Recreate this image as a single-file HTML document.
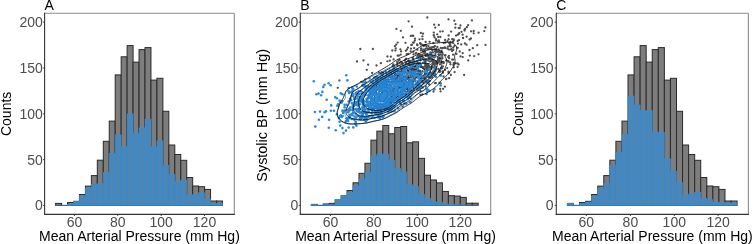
<!DOCTYPE html>
<html><head><meta charset="utf-8"><style>
html,body{margin:0;padding:0;background:#fff;}
svg{display:block;will-change:transform;}
.tk{font-family:"Liberation Sans",sans-serif;font-size:14px;fill:#4d4d4d;}
.ti{font-family:"Liberation Sans",sans-serif;font-size:14px;fill:#000;}
</style></head><body>
<svg width="753" height="244" viewBox="0 0 753 244" xmlns="http://www.w3.org/2000/svg">
<defs><clipPath id="clipB"><rect x="300.3" y="13.3" width="190.4" height="201.1"/></clipPath></defs>
<rect width="753" height="244" fill="#fff"/>
<rect x="55.60" y="203.40" width="5.96" height="2.00" fill="#7d7d7d" stroke="#2a2a2a" stroke-width="1.0"/>
<line x1="61.56" y1="205.4" x2="67.52" y2="205.4" stroke="#2a2a2a" stroke-width="1.0"/>
<rect x="67.52" y="202.50" width="5.96" height="2.90" fill="#7d7d7d" stroke="#2a2a2a" stroke-width="1.0"/>
<rect x="73.48" y="201.30" width="5.96" height="4.10" fill="#7d7d7d" stroke="#2a2a2a" stroke-width="1.0"/>
<rect x="79.44" y="194.50" width="5.96" height="10.90" fill="#7d7d7d" stroke="#2a2a2a" stroke-width="1.0"/>
<rect x="85.40" y="186.10" width="5.96" height="19.30" fill="#7d7d7d" stroke="#2a2a2a" stroke-width="1.0"/>
<rect x="91.36" y="175.60" width="5.96" height="29.80" fill="#7d7d7d" stroke="#2a2a2a" stroke-width="1.0"/>
<rect x="97.32" y="160.20" width="5.96" height="45.20" fill="#7d7d7d" stroke="#2a2a2a" stroke-width="1.0"/>
<rect x="103.28" y="141.30" width="5.96" height="64.10" fill="#7d7d7d" stroke="#2a2a2a" stroke-width="1.0"/>
<rect x="109.24" y="121.10" width="5.96" height="84.30" fill="#7d7d7d" stroke="#2a2a2a" stroke-width="1.0"/>
<rect x="115.20" y="74.90" width="5.96" height="130.50" fill="#7d7d7d" stroke="#2a2a2a" stroke-width="1.0"/>
<rect x="121.16" y="56.80" width="5.96" height="148.60" fill="#7d7d7d" stroke="#2a2a2a" stroke-width="1.0"/>
<rect x="127.12" y="45.60" width="5.96" height="159.80" fill="#7d7d7d" stroke="#2a2a2a" stroke-width="1.0"/>
<rect x="133.08" y="62.10" width="5.96" height="143.30" fill="#7d7d7d" stroke="#2a2a2a" stroke-width="1.0"/>
<rect x="139.04" y="49.60" width="5.96" height="155.80" fill="#7d7d7d" stroke="#2a2a2a" stroke-width="1.0"/>
<rect x="145.00" y="47.60" width="5.96" height="157.80" fill="#7d7d7d" stroke="#2a2a2a" stroke-width="1.0"/>
<rect x="150.96" y="80.10" width="5.96" height="125.30" fill="#7d7d7d" stroke="#2a2a2a" stroke-width="1.0"/>
<rect x="156.92" y="78.30" width="5.96" height="127.10" fill="#7d7d7d" stroke="#2a2a2a" stroke-width="1.0"/>
<rect x="162.88" y="111.30" width="5.96" height="94.10" fill="#7d7d7d" stroke="#2a2a2a" stroke-width="1.0"/>
<rect x="168.84" y="145.00" width="5.96" height="60.40" fill="#7d7d7d" stroke="#2a2a2a" stroke-width="1.0"/>
<rect x="174.80" y="154.50" width="5.96" height="50.90" fill="#7d7d7d" stroke="#2a2a2a" stroke-width="1.0"/>
<rect x="180.76" y="160.30" width="5.96" height="45.10" fill="#7d7d7d" stroke="#2a2a2a" stroke-width="1.0"/>
<rect x="186.72" y="177.50" width="5.96" height="27.90" fill="#7d7d7d" stroke="#2a2a2a" stroke-width="1.0"/>
<rect x="192.68" y="186.00" width="5.96" height="19.40" fill="#7d7d7d" stroke="#2a2a2a" stroke-width="1.0"/>
<rect x="198.64" y="186.70" width="5.96" height="18.70" fill="#7d7d7d" stroke="#2a2a2a" stroke-width="1.0"/>
<rect x="204.60" y="189.40" width="5.96" height="16.00" fill="#7d7d7d" stroke="#2a2a2a" stroke-width="1.0"/>
<rect x="210.56" y="201.00" width="5.96" height="4.40" fill="#7d7d7d" stroke="#2a2a2a" stroke-width="1.0"/>
<rect x="216.52" y="201.00" width="5.96" height="4.40" fill="#7d7d7d" stroke="#2a2a2a" stroke-width="1.0"/>
<line x1="55.60" y1="205.4" x2="61.56" y2="205.4" stroke="#2f8fde" stroke-width="0.6"/>
<line x1="61.56" y1="205.4" x2="67.52" y2="205.4" stroke="#2f8fde" stroke-width="0.6"/>
<rect x="67.52" y="204.50" width="5.96" height="0.90" fill="#4a87b8" stroke="#2f8fde" stroke-width="0.6"/>
<rect x="73.48" y="201.30" width="5.96" height="4.10" fill="#4a87b8" stroke="#2f8fde" stroke-width="0.6"/>
<rect x="79.44" y="195.70" width="5.96" height="9.70" fill="#4a87b8" stroke="#2f8fde" stroke-width="0.6"/>
<rect x="85.40" y="188.10" width="5.96" height="17.30" fill="#4a87b8" stroke="#2f8fde" stroke-width="0.6"/>
<rect x="91.36" y="184.40" width="5.96" height="21.00" fill="#4a87b8" stroke="#2f8fde" stroke-width="0.6"/>
<rect x="97.32" y="183.80" width="5.96" height="21.60" fill="#4a87b8" stroke="#2f8fde" stroke-width="0.6"/>
<rect x="103.28" y="172.50" width="5.96" height="32.90" fill="#4a87b8" stroke="#2f8fde" stroke-width="0.6"/>
<rect x="109.24" y="153.40" width="5.96" height="52.00" fill="#4a87b8" stroke="#2f8fde" stroke-width="0.6"/>
<rect x="115.20" y="134.90" width="5.96" height="70.50" fill="#4a87b8" stroke="#2f8fde" stroke-width="0.6"/>
<rect x="121.16" y="146.50" width="5.96" height="58.90" fill="#4a87b8" stroke="#2f8fde" stroke-width="0.6"/>
<rect x="127.12" y="113.90" width="5.96" height="91.50" fill="#4a87b8" stroke="#2f8fde" stroke-width="0.6"/>
<rect x="133.08" y="133.20" width="5.96" height="72.20" fill="#4a87b8" stroke="#2f8fde" stroke-width="0.6"/>
<rect x="139.04" y="127.90" width="5.96" height="77.50" fill="#4a87b8" stroke="#2f8fde" stroke-width="0.6"/>
<rect x="145.00" y="119.10" width="5.96" height="86.30" fill="#4a87b8" stroke="#2f8fde" stroke-width="0.6"/>
<rect x="150.96" y="146.80" width="5.96" height="58.60" fill="#4a87b8" stroke="#2f8fde" stroke-width="0.6"/>
<rect x="156.92" y="140.80" width="5.96" height="64.60" fill="#4a87b8" stroke="#2f8fde" stroke-width="0.6"/>
<rect x="162.88" y="165.30" width="5.96" height="40.10" fill="#4a87b8" stroke="#2f8fde" stroke-width="0.6"/>
<rect x="168.84" y="174.50" width="5.96" height="30.90" fill="#4a87b8" stroke="#2f8fde" stroke-width="0.6"/>
<rect x="174.80" y="181.50" width="5.96" height="23.90" fill="#4a87b8" stroke="#2f8fde" stroke-width="0.6"/>
<rect x="180.76" y="180.10" width="5.96" height="25.30" fill="#4a87b8" stroke="#2f8fde" stroke-width="0.6"/>
<rect x="186.72" y="195.00" width="5.96" height="10.40" fill="#4a87b8" stroke="#2f8fde" stroke-width="0.6"/>
<rect x="192.68" y="194.80" width="5.96" height="10.60" fill="#4a87b8" stroke="#2f8fde" stroke-width="0.6"/>
<rect x="198.64" y="192.70" width="5.96" height="12.70" fill="#4a87b8" stroke="#2f8fde" stroke-width="0.6"/>
<rect x="204.60" y="199.20" width="5.96" height="6.20" fill="#4a87b8" stroke="#2f8fde" stroke-width="0.6"/>
<rect x="210.56" y="203.30" width="5.96" height="2.10" fill="#4a87b8" stroke="#2f8fde" stroke-width="0.6"/>
<rect x="216.52" y="203.30" width="5.96" height="2.10" fill="#4a87b8" stroke="#2f8fde" stroke-width="0.6"/>
<line x1="44.6" y1="13.3" x2="234.3" y2="13.3" stroke="#8c8c8c" stroke-width="1.1"/>
<line x1="234.3" y1="13.3" x2="234.3" y2="214.4" stroke="#8c8c8c" stroke-width="1.1"/>
<line x1="44.6" y1="12.8" x2="44.6" y2="214.9" stroke="#333333" stroke-width="1.1"/>
<line x1="44.1" y1="214.4" x2="234.8" y2="214.4" stroke="#333333" stroke-width="1.1"/>
<line x1="43.0" y1="205.40" x2="44.6" y2="205.40" stroke="#333333" stroke-width="0.9"/>
<text x="42.9" y="210.30" text-anchor="end" class="tk">0</text>
<line x1="43.0" y1="159.60" x2="44.6" y2="159.60" stroke="#333333" stroke-width="0.9"/>
<text x="42.9" y="164.50" text-anchor="end" class="tk">50</text>
<line x1="43.0" y1="113.80" x2="44.6" y2="113.80" stroke="#333333" stroke-width="0.9"/>
<text x="42.9" y="118.70" text-anchor="end" class="tk">100</text>
<line x1="43.0" y1="68.00" x2="44.6" y2="68.00" stroke="#333333" stroke-width="0.9"/>
<text x="42.9" y="72.90" text-anchor="end" class="tk">150</text>
<line x1="43.0" y1="22.20" x2="44.6" y2="22.20" stroke="#333333" stroke-width="0.9"/>
<text x="42.9" y="27.10" text-anchor="end" class="tk">200</text>
<line x1="74.50" y1="214.4" x2="74.50" y2="216.0" stroke="#333333" stroke-width="0.9"/>
<text x="74.50" y="227.0" text-anchor="middle" class="tk">60</text>
<line x1="117.80" y1="214.4" x2="117.80" y2="216.0" stroke="#333333" stroke-width="0.9"/>
<text x="117.80" y="227.0" text-anchor="middle" class="tk">80</text>
<line x1="161.20" y1="214.4" x2="161.20" y2="216.0" stroke="#333333" stroke-width="0.9"/>
<text x="161.20" y="227.0" text-anchor="middle" class="tk">100</text>
<line x1="204.50" y1="214.4" x2="204.50" y2="216.0" stroke="#333333" stroke-width="0.9"/>
<text x="204.50" y="227.0" text-anchor="middle" class="tk">120</text>
<text x="139.45" y="240.7" text-anchor="middle" class="ti">Mean Arterial Pressure (mm Hg)</text>
<text x="44.60" y="10" class="ti">A</text>
<text transform="translate(11.00,113.85) rotate(-90)" text-anchor="middle" class="ti">Counts</text>
<rect x="311.30" y="204.40" width="5.96" height="1.00" fill="#7d7d7d" stroke="#2a2a2a" stroke-width="1.0"/>
<line x1="317.26" y1="205.4" x2="323.22" y2="205.4" stroke="#2a2a2a" stroke-width="1.0"/>
<rect x="323.22" y="203.95" width="5.96" height="1.45" fill="#7d7d7d" stroke="#2a2a2a" stroke-width="1.0"/>
<rect x="329.18" y="203.35" width="5.96" height="2.05" fill="#7d7d7d" stroke="#2a2a2a" stroke-width="1.0"/>
<rect x="335.14" y="199.95" width="5.96" height="5.45" fill="#7d7d7d" stroke="#2a2a2a" stroke-width="1.0"/>
<rect x="341.10" y="195.75" width="5.96" height="9.65" fill="#7d7d7d" stroke="#2a2a2a" stroke-width="1.0"/>
<rect x="347.06" y="190.50" width="5.96" height="14.90" fill="#7d7d7d" stroke="#2a2a2a" stroke-width="1.0"/>
<rect x="353.02" y="182.80" width="5.96" height="22.60" fill="#7d7d7d" stroke="#2a2a2a" stroke-width="1.0"/>
<rect x="358.98" y="173.35" width="5.96" height="32.05" fill="#7d7d7d" stroke="#2a2a2a" stroke-width="1.0"/>
<rect x="364.94" y="163.25" width="5.96" height="42.15" fill="#7d7d7d" stroke="#2a2a2a" stroke-width="1.0"/>
<rect x="370.90" y="140.15" width="5.96" height="65.25" fill="#7d7d7d" stroke="#2a2a2a" stroke-width="1.0"/>
<rect x="376.86" y="131.10" width="5.96" height="74.30" fill="#7d7d7d" stroke="#2a2a2a" stroke-width="1.0"/>
<rect x="382.82" y="125.50" width="5.96" height="79.90" fill="#7d7d7d" stroke="#2a2a2a" stroke-width="1.0"/>
<rect x="388.78" y="133.75" width="5.96" height="71.65" fill="#7d7d7d" stroke="#2a2a2a" stroke-width="1.0"/>
<rect x="394.74" y="127.50" width="5.96" height="77.90" fill="#7d7d7d" stroke="#2a2a2a" stroke-width="1.0"/>
<rect x="400.70" y="126.50" width="5.96" height="78.90" fill="#7d7d7d" stroke="#2a2a2a" stroke-width="1.0"/>
<rect x="406.66" y="142.75" width="5.96" height="62.65" fill="#7d7d7d" stroke="#2a2a2a" stroke-width="1.0"/>
<rect x="412.62" y="141.85" width="5.96" height="63.55" fill="#7d7d7d" stroke="#2a2a2a" stroke-width="1.0"/>
<rect x="418.58" y="158.35" width="5.96" height="47.05" fill="#7d7d7d" stroke="#2a2a2a" stroke-width="1.0"/>
<rect x="424.54" y="175.20" width="5.96" height="30.20" fill="#7d7d7d" stroke="#2a2a2a" stroke-width="1.0"/>
<rect x="430.50" y="179.95" width="5.96" height="25.45" fill="#7d7d7d" stroke="#2a2a2a" stroke-width="1.0"/>
<rect x="436.46" y="182.85" width="5.96" height="22.55" fill="#7d7d7d" stroke="#2a2a2a" stroke-width="1.0"/>
<rect x="442.42" y="191.45" width="5.96" height="13.95" fill="#7d7d7d" stroke="#2a2a2a" stroke-width="1.0"/>
<rect x="448.38" y="195.70" width="5.96" height="9.70" fill="#7d7d7d" stroke="#2a2a2a" stroke-width="1.0"/>
<rect x="454.34" y="196.05" width="5.96" height="9.35" fill="#7d7d7d" stroke="#2a2a2a" stroke-width="1.0"/>
<rect x="460.30" y="197.40" width="5.96" height="8.00" fill="#7d7d7d" stroke="#2a2a2a" stroke-width="1.0"/>
<rect x="466.26" y="203.20" width="5.96" height="2.20" fill="#7d7d7d" stroke="#2a2a2a" stroke-width="1.0"/>
<rect x="472.22" y="203.20" width="5.96" height="2.20" fill="#7d7d7d" stroke="#2a2a2a" stroke-width="1.0"/>
<rect x="311.30" y="204.40" width="5.96" height="1.00" fill="#4a87b8" stroke="#2f8fde" stroke-width="0.6"/>
<line x1="317.26" y1="205.4" x2="323.22" y2="205.4" stroke="#2f8fde" stroke-width="0.6"/>
<rect x="323.22" y="204.40" width="5.96" height="1.00" fill="#4a87b8" stroke="#2f8fde" stroke-width="0.6"/>
<rect x="329.18" y="204.30" width="5.96" height="1.10" fill="#4a87b8" stroke="#2f8fde" stroke-width="0.6"/>
<rect x="335.14" y="199.60" width="5.96" height="5.80" fill="#4a87b8" stroke="#2f8fde" stroke-width="0.6"/>
<rect x="341.10" y="195.60" width="5.96" height="9.80" fill="#4a87b8" stroke="#2f8fde" stroke-width="0.6"/>
<rect x="347.06" y="192.40" width="5.96" height="13.00" fill="#4a87b8" stroke="#2f8fde" stroke-width="0.6"/>
<rect x="353.02" y="185.90" width="5.96" height="19.50" fill="#4a87b8" stroke="#2f8fde" stroke-width="0.6"/>
<rect x="358.98" y="179.00" width="5.96" height="26.40" fill="#4a87b8" stroke="#2f8fde" stroke-width="0.6"/>
<rect x="364.94" y="172.20" width="5.96" height="33.20" fill="#4a87b8" stroke="#2f8fde" stroke-width="0.6"/>
<rect x="370.90" y="156.00" width="5.96" height="49.40" fill="#4a87b8" stroke="#2f8fde" stroke-width="0.6"/>
<rect x="376.86" y="154.00" width="5.96" height="51.40" fill="#4a87b8" stroke="#2f8fde" stroke-width="0.6"/>
<rect x="382.82" y="154.00" width="5.96" height="51.40" fill="#4a87b8" stroke="#2f8fde" stroke-width="0.6"/>
<rect x="388.78" y="160.70" width="5.96" height="44.70" fill="#4a87b8" stroke="#2f8fde" stroke-width="0.6"/>
<rect x="394.74" y="168.50" width="5.96" height="36.90" fill="#4a87b8" stroke="#2f8fde" stroke-width="0.6"/>
<rect x="400.70" y="171.80" width="5.96" height="33.60" fill="#4a87b8" stroke="#2f8fde" stroke-width="0.6"/>
<rect x="406.66" y="184.70" width="5.96" height="20.70" fill="#4a87b8" stroke="#2f8fde" stroke-width="0.6"/>
<rect x="412.62" y="186.60" width="5.96" height="18.80" fill="#4a87b8" stroke="#2f8fde" stroke-width="0.6"/>
<rect x="418.58" y="194.30" width="5.96" height="11.10" fill="#4a87b8" stroke="#2f8fde" stroke-width="0.6"/>
<rect x="424.54" y="198.20" width="5.96" height="7.20" fill="#4a87b8" stroke="#2f8fde" stroke-width="0.6"/>
<rect x="430.50" y="201.70" width="5.96" height="3.70" fill="#4a87b8" stroke="#2f8fde" stroke-width="0.6"/>
<rect x="436.46" y="202.10" width="5.96" height="3.30" fill="#4a87b8" stroke="#2f8fde" stroke-width="0.6"/>
<rect x="442.42" y="204.00" width="5.96" height="1.40" fill="#4a87b8" stroke="#2f8fde" stroke-width="0.6"/>
<rect x="448.38" y="204.60" width="5.96" height="0.80" fill="#4a87b8" stroke="#2f8fde" stroke-width="0.6"/>
<rect x="454.34" y="204.80" width="5.96" height="0.60" fill="#4a87b8" stroke="#2f8fde" stroke-width="0.6"/>
<rect x="460.30" y="205.00" width="5.96" height="0.40" fill="#4a87b8" stroke="#2f8fde" stroke-width="0.6"/>
<line x1="466.26" y1="205.4" x2="472.22" y2="205.4" stroke="#2f8fde" stroke-width="0.6"/>
<line x1="472.22" y1="205.4" x2="478.18" y2="205.4" stroke="#2f8fde" stroke-width="0.6"/>
<g clip-path="url(#clipB)"><circle cx="406.8" cy="76.0" r="1.15" fill="#4d4d4d"/>
<circle cx="463.0" cy="38.1" r="1.15" fill="#4d4d4d"/>
<circle cx="420.2" cy="58.7" r="1.15" fill="#4d4d4d"/>
<circle cx="400.8" cy="83.3" r="1.15" fill="#4d4d4d"/>
<circle cx="419.4" cy="63.2" r="1.15" fill="#4d4d4d"/>
<circle cx="394.6" cy="98.5" r="1.15" fill="#4d4d4d"/>
<circle cx="400.7" cy="54.6" r="1.15" fill="#4d4d4d"/>
<circle cx="425.5" cy="54.5" r="1.15" fill="#4d4d4d"/>
<circle cx="405.2" cy="79.9" r="1.15" fill="#4d4d4d"/>
<circle cx="407.4" cy="89.2" r="1.15" fill="#4d4d4d"/>
<circle cx="453.3" cy="49.9" r="1.15" fill="#4d4d4d"/>
<circle cx="435.8" cy="83.2" r="1.15" fill="#4d4d4d"/>
<circle cx="434.6" cy="71.8" r="1.15" fill="#4d4d4d"/>
<circle cx="428.6" cy="57.9" r="1.15" fill="#4d4d4d"/>
<circle cx="427.7" cy="65.7" r="1.15" fill="#4d4d4d"/>
<circle cx="448.7" cy="61.7" r="1.15" fill="#4d4d4d"/>
<circle cx="416.7" cy="61.4" r="1.15" fill="#4d4d4d"/>
<circle cx="457.4" cy="63.5" r="1.15" fill="#4d4d4d"/>
<circle cx="396.6" cy="78.6" r="1.15" fill="#4d4d4d"/>
<circle cx="411.6" cy="79.8" r="1.15" fill="#4d4d4d"/>
<circle cx="387.3" cy="95.5" r="1.15" fill="#4d4d4d"/>
<circle cx="409.7" cy="70.2" r="1.15" fill="#4d4d4d"/>
<circle cx="428.4" cy="77.1" r="1.15" fill="#4d4d4d"/>
<circle cx="448.6" cy="35.5" r="1.15" fill="#4d4d4d"/>
<circle cx="402.8" cy="85.1" r="1.15" fill="#4d4d4d"/>
<circle cx="417.3" cy="49.7" r="1.15" fill="#4d4d4d"/>
<circle cx="409.4" cy="87.5" r="1.15" fill="#4d4d4d"/>
<circle cx="401.2" cy="72.8" r="1.15" fill="#4d4d4d"/>
<circle cx="391.4" cy="97.4" r="1.15" fill="#4d4d4d"/>
<circle cx="418.5" cy="85.8" r="1.15" fill="#4d4d4d"/>
<circle cx="379.6" cy="88.2" r="1.15" fill="#4d4d4d"/>
<circle cx="419.6" cy="63.1" r="1.15" fill="#4d4d4d"/>
<circle cx="417.6" cy="85.4" r="1.15" fill="#4d4d4d"/>
<circle cx="402.9" cy="65.6" r="1.15" fill="#4d4d4d"/>
<circle cx="395.3" cy="91.1" r="1.15" fill="#4d4d4d"/>
<circle cx="387.2" cy="84.8" r="1.15" fill="#4d4d4d"/>
<circle cx="457.7" cy="47.8" r="1.15" fill="#4d4d4d"/>
<circle cx="388.1" cy="79.3" r="1.15" fill="#4d4d4d"/>
<circle cx="450.9" cy="75.0" r="1.15" fill="#4d4d4d"/>
<circle cx="430.2" cy="47.6" r="1.15" fill="#4d4d4d"/>
<circle cx="409.3" cy="69.3" r="1.15" fill="#4d4d4d"/>
<circle cx="392.1" cy="88.5" r="1.15" fill="#4d4d4d"/>
<circle cx="439.8" cy="71.9" r="1.15" fill="#4d4d4d"/>
<circle cx="454.6" cy="72.1" r="1.15" fill="#4d4d4d"/>
<circle cx="396.9" cy="96.5" r="1.15" fill="#4d4d4d"/>
<circle cx="410.7" cy="68.8" r="1.15" fill="#4d4d4d"/>
<circle cx="440.0" cy="64.3" r="1.15" fill="#4d4d4d"/>
<circle cx="424.4" cy="80.6" r="1.15" fill="#4d4d4d"/>
<circle cx="460.5" cy="56.4" r="1.15" fill="#4d4d4d"/>
<circle cx="404.8" cy="60.5" r="1.15" fill="#4d4d4d"/>
<circle cx="428.9" cy="69.6" r="1.15" fill="#4d4d4d"/>
<circle cx="390.1" cy="91.3" r="1.15" fill="#4d4d4d"/>
<circle cx="462.6" cy="34.7" r="1.15" fill="#4d4d4d"/>
<circle cx="401.3" cy="74.3" r="1.15" fill="#4d4d4d"/>
<circle cx="369.3" cy="94.4" r="1.15" fill="#4d4d4d"/>
<circle cx="414.4" cy="79.7" r="1.15" fill="#4d4d4d"/>
<circle cx="414.1" cy="90.2" r="1.15" fill="#4d4d4d"/>
<circle cx="458.7" cy="64.4" r="1.15" fill="#4d4d4d"/>
<circle cx="409.8" cy="80.5" r="1.15" fill="#4d4d4d"/>
<circle cx="416.9" cy="74.2" r="1.15" fill="#4d4d4d"/>
<circle cx="430.0" cy="61.5" r="1.15" fill="#4d4d4d"/>
<circle cx="451.5" cy="48.9" r="1.15" fill="#4d4d4d"/>
<circle cx="415.8" cy="69.9" r="1.15" fill="#4d4d4d"/>
<circle cx="439.7" cy="58.3" r="1.15" fill="#4d4d4d"/>
<circle cx="428.4" cy="77.3" r="1.15" fill="#4d4d4d"/>
<circle cx="410.7" cy="98.5" r="1.15" fill="#4d4d4d"/>
<circle cx="418.8" cy="76.6" r="1.15" fill="#4d4d4d"/>
<circle cx="417.8" cy="81.8" r="1.15" fill="#4d4d4d"/>
<circle cx="397.3" cy="88.5" r="1.15" fill="#4d4d4d"/>
<circle cx="443.5" cy="61.9" r="1.15" fill="#4d4d4d"/>
<circle cx="387.1" cy="99.9" r="1.15" fill="#4d4d4d"/>
<circle cx="442.5" cy="71.5" r="1.15" fill="#4d4d4d"/>
<circle cx="437.8" cy="62.7" r="1.15" fill="#4d4d4d"/>
<circle cx="415.2" cy="71.4" r="1.15" fill="#4d4d4d"/>
<circle cx="400.6" cy="86.9" r="1.15" fill="#4d4d4d"/>
<circle cx="412.3" cy="68.6" r="1.15" fill="#4d4d4d"/>
<circle cx="427.4" cy="69.1" r="1.15" fill="#4d4d4d"/>
<circle cx="433.3" cy="75.0" r="1.15" fill="#4d4d4d"/>
<circle cx="423.4" cy="68.2" r="1.15" fill="#4d4d4d"/>
<circle cx="438.7" cy="40.5" r="1.15" fill="#4d4d4d"/>
<circle cx="405.1" cy="85.0" r="1.15" fill="#4d4d4d"/>
<circle cx="422.3" cy="56.4" r="1.15" fill="#4d4d4d"/>
<circle cx="383.2" cy="73.0" r="1.15" fill="#4d4d4d"/>
<circle cx="433.7" cy="47.2" r="1.15" fill="#4d4d4d"/>
<circle cx="420.5" cy="79.1" r="1.15" fill="#4d4d4d"/>
<circle cx="408.2" cy="53.9" r="1.15" fill="#4d4d4d"/>
<circle cx="442.3" cy="58.1" r="1.15" fill="#4d4d4d"/>
<circle cx="432.2" cy="67.2" r="1.15" fill="#4d4d4d"/>
<circle cx="356.1" cy="103.9" r="1.15" fill="#4d4d4d"/>
<circle cx="418.0" cy="64.6" r="1.15" fill="#4d4d4d"/>
<circle cx="385.6" cy="86.4" r="1.15" fill="#4d4d4d"/>
<circle cx="440.3" cy="62.4" r="1.15" fill="#4d4d4d"/>
<circle cx="471.1" cy="31.3" r="1.15" fill="#4d4d4d"/>
<circle cx="405.9" cy="85.1" r="1.15" fill="#4d4d4d"/>
<circle cx="418.8" cy="82.3" r="1.15" fill="#4d4d4d"/>
<circle cx="411.7" cy="65.6" r="1.15" fill="#4d4d4d"/>
<circle cx="424.8" cy="60.2" r="1.15" fill="#4d4d4d"/>
<circle cx="431.1" cy="52.8" r="1.15" fill="#4d4d4d"/>
<circle cx="445.1" cy="69.9" r="1.15" fill="#4d4d4d"/>
<circle cx="395.8" cy="70.2" r="1.15" fill="#4d4d4d"/>
<circle cx="451.2" cy="49.8" r="1.15" fill="#4d4d4d"/>
<circle cx="397.0" cy="62.1" r="1.15" fill="#4d4d4d"/>
<circle cx="423.2" cy="82.5" r="1.15" fill="#4d4d4d"/>
<circle cx="442.3" cy="57.1" r="1.15" fill="#4d4d4d"/>
<circle cx="432.6" cy="67.2" r="1.15" fill="#4d4d4d"/>
<circle cx="396.8" cy="99.0" r="1.15" fill="#4d4d4d"/>
<circle cx="402.0" cy="86.9" r="1.15" fill="#4d4d4d"/>
<circle cx="407.2" cy="64.1" r="1.15" fill="#4d4d4d"/>
<circle cx="416.1" cy="77.4" r="1.15" fill="#4d4d4d"/>
<circle cx="442.0" cy="67.5" r="1.15" fill="#4d4d4d"/>
<circle cx="389.2" cy="75.7" r="1.15" fill="#4d4d4d"/>
<circle cx="427.3" cy="55.9" r="1.15" fill="#4d4d4d"/>
<circle cx="430.4" cy="54.4" r="1.15" fill="#4d4d4d"/>
<circle cx="429.3" cy="74.5" r="1.15" fill="#4d4d4d"/>
<circle cx="427.3" cy="67.4" r="1.15" fill="#4d4d4d"/>
<circle cx="450.1" cy="44.3" r="1.15" fill="#4d4d4d"/>
<circle cx="427.7" cy="73.7" r="1.15" fill="#4d4d4d"/>
<circle cx="435.7" cy="70.9" r="1.15" fill="#4d4d4d"/>
<circle cx="429.4" cy="56.6" r="1.15" fill="#4d4d4d"/>
<circle cx="456.0" cy="35.6" r="1.15" fill="#4d4d4d"/>
<circle cx="376.0" cy="104.3" r="1.15" fill="#4d4d4d"/>
<circle cx="444.9" cy="86.7" r="1.15" fill="#4d4d4d"/>
<circle cx="411.5" cy="90.4" r="1.15" fill="#4d4d4d"/>
<circle cx="411.1" cy="85.7" r="1.15" fill="#4d4d4d"/>
<circle cx="396.2" cy="83.4" r="1.15" fill="#4d4d4d"/>
<circle cx="376.7" cy="84.6" r="1.15" fill="#4d4d4d"/>
<circle cx="408.9" cy="77.3" r="1.15" fill="#4d4d4d"/>
<circle cx="402.3" cy="86.6" r="1.15" fill="#4d4d4d"/>
<circle cx="427.9" cy="64.8" r="1.15" fill="#4d4d4d"/>
<circle cx="385.3" cy="97.7" r="1.15" fill="#4d4d4d"/>
<circle cx="448.2" cy="57.1" r="1.15" fill="#4d4d4d"/>
<circle cx="423.1" cy="75.9" r="1.15" fill="#4d4d4d"/>
<circle cx="411.8" cy="44.8" r="1.15" fill="#4d4d4d"/>
<circle cx="401.8" cy="70.2" r="1.15" fill="#4d4d4d"/>
<circle cx="400.1" cy="89.1" r="1.15" fill="#4d4d4d"/>
<circle cx="392.7" cy="94.5" r="1.15" fill="#4d4d4d"/>
<circle cx="405.4" cy="82.2" r="1.15" fill="#4d4d4d"/>
<circle cx="417.3" cy="89.7" r="1.15" fill="#4d4d4d"/>
<circle cx="413.3" cy="81.6" r="1.15" fill="#4d4d4d"/>
<circle cx="386.5" cy="94.7" r="1.15" fill="#4d4d4d"/>
<circle cx="411.4" cy="64.7" r="1.15" fill="#4d4d4d"/>
<circle cx="397.8" cy="85.8" r="1.15" fill="#4d4d4d"/>
<circle cx="420.6" cy="78.7" r="1.15" fill="#4d4d4d"/>
<circle cx="457.6" cy="66.8" r="1.15" fill="#4d4d4d"/>
<circle cx="430.7" cy="78.0" r="1.15" fill="#4d4d4d"/>
<circle cx="410.4" cy="75.7" r="1.15" fill="#4d4d4d"/>
<circle cx="382.0" cy="91.1" r="1.15" fill="#4d4d4d"/>
<circle cx="386.5" cy="74.1" r="1.15" fill="#4d4d4d"/>
<circle cx="380.6" cy="96.3" r="1.15" fill="#4d4d4d"/>
<circle cx="432.9" cy="52.4" r="1.15" fill="#4d4d4d"/>
<circle cx="400.6" cy="76.9" r="1.15" fill="#4d4d4d"/>
<circle cx="418.5" cy="71.1" r="1.15" fill="#4d4d4d"/>
<circle cx="403.7" cy="100.3" r="1.15" fill="#4d4d4d"/>
<circle cx="419.1" cy="84.9" r="1.15" fill="#4d4d4d"/>
<circle cx="447.5" cy="48.7" r="1.15" fill="#4d4d4d"/>
<circle cx="402.3" cy="63.5" r="1.15" fill="#4d4d4d"/>
<circle cx="409.8" cy="73.0" r="1.15" fill="#4d4d4d"/>
<circle cx="399.7" cy="71.8" r="1.15" fill="#4d4d4d"/>
<circle cx="436.1" cy="66.9" r="1.15" fill="#4d4d4d"/>
<circle cx="394.9" cy="86.6" r="1.15" fill="#4d4d4d"/>
<circle cx="392.6" cy="90.9" r="1.15" fill="#4d4d4d"/>
<circle cx="387.1" cy="75.6" r="1.15" fill="#4d4d4d"/>
<circle cx="386.7" cy="82.7" r="1.15" fill="#4d4d4d"/>
<circle cx="427.4" cy="69.3" r="1.15" fill="#4d4d4d"/>
<circle cx="472.8" cy="48.2" r="1.15" fill="#4d4d4d"/>
<circle cx="395.6" cy="76.0" r="1.15" fill="#4d4d4d"/>
<circle cx="437.8" cy="58.1" r="1.15" fill="#4d4d4d"/>
<circle cx="422.6" cy="78.2" r="1.15" fill="#4d4d4d"/>
<circle cx="393.3" cy="64.4" r="1.15" fill="#4d4d4d"/>
<circle cx="411.2" cy="71.8" r="1.15" fill="#4d4d4d"/>
<circle cx="412.1" cy="74.0" r="1.15" fill="#4d4d4d"/>
<circle cx="402.2" cy="62.7" r="1.15" fill="#4d4d4d"/>
<circle cx="459.0" cy="40.1" r="1.15" fill="#4d4d4d"/>
<circle cx="375.9" cy="92.7" r="1.15" fill="#4d4d4d"/>
<circle cx="425.4" cy="61.8" r="1.15" fill="#4d4d4d"/>
<circle cx="424.4" cy="79.9" r="1.15" fill="#4d4d4d"/>
<circle cx="404.6" cy="84.8" r="1.15" fill="#4d4d4d"/>
<circle cx="420.4" cy="94.9" r="1.15" fill="#4d4d4d"/>
<circle cx="436.2" cy="49.0" r="1.15" fill="#4d4d4d"/>
<circle cx="420.5" cy="90.9" r="1.15" fill="#4d4d4d"/>
<circle cx="426.2" cy="59.8" r="1.15" fill="#4d4d4d"/>
<circle cx="432.2" cy="73.5" r="1.15" fill="#4d4d4d"/>
<circle cx="373.1" cy="103.8" r="1.15" fill="#4d4d4d"/>
<circle cx="449.2" cy="58.2" r="1.15" fill="#4d4d4d"/>
<circle cx="466.5" cy="44.7" r="1.15" fill="#4d4d4d"/>
<circle cx="438.4" cy="54.6" r="1.15" fill="#4d4d4d"/>
<circle cx="439.1" cy="41.5" r="1.15" fill="#4d4d4d"/>
<circle cx="386.7" cy="82.6" r="1.15" fill="#4d4d4d"/>
<circle cx="414.6" cy="63.2" r="1.15" fill="#4d4d4d"/>
<circle cx="399.6" cy="86.8" r="1.15" fill="#4d4d4d"/>
<circle cx="404.4" cy="70.0" r="1.15" fill="#4d4d4d"/>
<circle cx="438.1" cy="59.8" r="1.15" fill="#4d4d4d"/>
<circle cx="399.7" cy="85.2" r="1.15" fill="#4d4d4d"/>
<circle cx="414.3" cy="74.1" r="1.15" fill="#4d4d4d"/>
<circle cx="375.8" cy="92.5" r="1.15" fill="#4d4d4d"/>
<circle cx="413.7" cy="71.2" r="1.15" fill="#4d4d4d"/>
<circle cx="419.1" cy="66.3" r="1.15" fill="#4d4d4d"/>
<circle cx="401.9" cy="84.7" r="1.15" fill="#4d4d4d"/>
<circle cx="401.6" cy="87.4" r="1.15" fill="#4d4d4d"/>
<circle cx="458.0" cy="43.6" r="1.15" fill="#4d4d4d"/>
<circle cx="391.0" cy="103.1" r="1.15" fill="#4d4d4d"/>
<circle cx="394.4" cy="89.5" r="1.15" fill="#4d4d4d"/>
<circle cx="399.6" cy="63.1" r="1.15" fill="#4d4d4d"/>
<circle cx="443.1" cy="88.8" r="1.15" fill="#4d4d4d"/>
<circle cx="462.7" cy="57.1" r="1.15" fill="#4d4d4d"/>
<circle cx="424.4" cy="60.6" r="1.15" fill="#4d4d4d"/>
<circle cx="401.6" cy="97.4" r="1.15" fill="#4d4d4d"/>
<circle cx="407.9" cy="47.6" r="1.15" fill="#4d4d4d"/>
<circle cx="440.2" cy="88.9" r="1.15" fill="#4d4d4d"/>
<circle cx="397.4" cy="65.5" r="1.15" fill="#4d4d4d"/>
<circle cx="448.6" cy="39.2" r="1.15" fill="#4d4d4d"/>
<circle cx="447.9" cy="46.7" r="1.15" fill="#4d4d4d"/>
<circle cx="418.7" cy="73.4" r="1.15" fill="#4d4d4d"/>
<circle cx="431.2" cy="60.9" r="1.15" fill="#4d4d4d"/>
<circle cx="433.4" cy="73.6" r="1.15" fill="#4d4d4d"/>
<circle cx="450.8" cy="46.4" r="1.15" fill="#4d4d4d"/>
<circle cx="394.4" cy="95.0" r="1.15" fill="#4d4d4d"/>
<circle cx="442.8" cy="62.2" r="1.15" fill="#4d4d4d"/>
<circle cx="409.0" cy="64.7" r="1.15" fill="#4d4d4d"/>
<circle cx="400.5" cy="92.0" r="1.15" fill="#4d4d4d"/>
<circle cx="419.4" cy="74.6" r="1.15" fill="#4d4d4d"/>
<circle cx="412.5" cy="72.1" r="1.15" fill="#4d4d4d"/>
<circle cx="395.8" cy="96.8" r="1.15" fill="#4d4d4d"/>
<circle cx="382.6" cy="75.7" r="1.15" fill="#4d4d4d"/>
<circle cx="396.8" cy="77.8" r="1.15" fill="#4d4d4d"/>
<circle cx="448.6" cy="73.0" r="1.15" fill="#4d4d4d"/>
<circle cx="459.7" cy="51.5" r="1.15" fill="#4d4d4d"/>
<circle cx="431.3" cy="73.3" r="1.15" fill="#4d4d4d"/>
<circle cx="442.9" cy="66.4" r="1.15" fill="#4d4d4d"/>
<circle cx="406.0" cy="76.3" r="1.15" fill="#4d4d4d"/>
<circle cx="415.5" cy="80.3" r="1.15" fill="#4d4d4d"/>
<circle cx="423.3" cy="58.1" r="1.15" fill="#4d4d4d"/>
<circle cx="393.7" cy="90.8" r="1.15" fill="#4d4d4d"/>
<circle cx="395.7" cy="71.3" r="1.15" fill="#4d4d4d"/>
<circle cx="419.3" cy="71.1" r="1.15" fill="#4d4d4d"/>
<circle cx="410.2" cy="65.6" r="1.15" fill="#4d4d4d"/>
<circle cx="394.1" cy="88.8" r="1.15" fill="#4d4d4d"/>
<circle cx="425.5" cy="73.1" r="1.15" fill="#4d4d4d"/>
<circle cx="411.5" cy="87.1" r="1.15" fill="#4d4d4d"/>
<circle cx="439.3" cy="54.6" r="1.15" fill="#4d4d4d"/>
<circle cx="417.1" cy="61.4" r="1.15" fill="#4d4d4d"/>
<circle cx="410.7" cy="51.5" r="1.15" fill="#4d4d4d"/>
<circle cx="419.9" cy="56.1" r="1.15" fill="#4d4d4d"/>
<circle cx="413.4" cy="70.7" r="1.15" fill="#4d4d4d"/>
<circle cx="402.7" cy="81.0" r="1.15" fill="#4d4d4d"/>
<circle cx="408.5" cy="71.6" r="1.15" fill="#4d4d4d"/>
<circle cx="433.4" cy="64.1" r="1.15" fill="#4d4d4d"/>
<circle cx="431.2" cy="48.8" r="1.15" fill="#4d4d4d"/>
<circle cx="445.0" cy="47.7" r="1.15" fill="#4d4d4d"/>
<circle cx="380.5" cy="98.7" r="1.15" fill="#4d4d4d"/>
<circle cx="408.7" cy="83.4" r="1.15" fill="#4d4d4d"/>
<circle cx="408.2" cy="61.0" r="1.15" fill="#4d4d4d"/>
<circle cx="420.9" cy="66.5" r="1.15" fill="#4d4d4d"/>
<circle cx="407.4" cy="79.0" r="1.15" fill="#4d4d4d"/>
<circle cx="406.0" cy="64.0" r="1.15" fill="#4d4d4d"/>
<circle cx="434.1" cy="67.7" r="1.15" fill="#4d4d4d"/>
<circle cx="421.0" cy="72.9" r="1.15" fill="#4d4d4d"/>
<circle cx="391.9" cy="89.0" r="1.15" fill="#4d4d4d"/>
<circle cx="446.1" cy="79.2" r="1.15" fill="#4d4d4d"/>
<circle cx="438.8" cy="51.7" r="1.15" fill="#4d4d4d"/>
<circle cx="404.7" cy="91.0" r="1.15" fill="#4d4d4d"/>
<circle cx="435.2" cy="69.2" r="1.15" fill="#4d4d4d"/>
<circle cx="401.2" cy="87.6" r="1.15" fill="#4d4d4d"/>
<circle cx="441.6" cy="51.8" r="1.15" fill="#4d4d4d"/>
<circle cx="412.4" cy="74.7" r="1.15" fill="#4d4d4d"/>
<circle cx="399.8" cy="80.0" r="1.15" fill="#4d4d4d"/>
<circle cx="409.1" cy="94.1" r="1.15" fill="#4d4d4d"/>
<circle cx="400.6" cy="80.7" r="1.15" fill="#4d4d4d"/>
<circle cx="421.3" cy="85.9" r="1.15" fill="#4d4d4d"/>
<circle cx="421.0" cy="66.4" r="1.15" fill="#4d4d4d"/>
<circle cx="417.9" cy="67.3" r="1.15" fill="#4d4d4d"/>
<circle cx="405.1" cy="77.7" r="1.15" fill="#4d4d4d"/>
<circle cx="337.8" cy="87.8" r="1.15" fill="#4d4d4d"/>
<circle cx="419.2" cy="64.9" r="1.15" fill="#4d4d4d"/>
<circle cx="376.1" cy="85.1" r="1.15" fill="#4d4d4d"/>
<circle cx="422.5" cy="67.5" r="1.15" fill="#4d4d4d"/>
<circle cx="441.7" cy="61.9" r="1.15" fill="#4d4d4d"/>
<circle cx="423.1" cy="58.2" r="1.15" fill="#4d4d4d"/>
<circle cx="408.7" cy="63.7" r="1.15" fill="#4d4d4d"/>
<circle cx="413.3" cy="87.9" r="1.15" fill="#4d4d4d"/>
<circle cx="414.3" cy="61.5" r="1.15" fill="#4d4d4d"/>
<circle cx="405.3" cy="71.8" r="1.15" fill="#4d4d4d"/>
<circle cx="404.5" cy="67.3" r="1.15" fill="#4d4d4d"/>
<circle cx="397.1" cy="76.3" r="1.15" fill="#4d4d4d"/>
<circle cx="442.9" cy="72.8" r="1.15" fill="#4d4d4d"/>
<circle cx="416.8" cy="84.7" r="1.15" fill="#4d4d4d"/>
<circle cx="437.9" cy="41.5" r="1.15" fill="#4d4d4d"/>
<circle cx="411.8" cy="71.5" r="1.15" fill="#4d4d4d"/>
<circle cx="418.7" cy="86.5" r="1.15" fill="#4d4d4d"/>
<circle cx="413.5" cy="69.6" r="1.15" fill="#4d4d4d"/>
<circle cx="427.2" cy="70.8" r="1.15" fill="#4d4d4d"/>
<circle cx="435.1" cy="83.2" r="1.15" fill="#4d4d4d"/>
<circle cx="422.4" cy="94.3" r="1.15" fill="#4d4d4d"/>
<circle cx="402.6" cy="96.4" r="1.15" fill="#4d4d4d"/>
<circle cx="400.3" cy="76.9" r="1.15" fill="#4d4d4d"/>
<circle cx="453.1" cy="54.7" r="1.15" fill="#4d4d4d"/>
<circle cx="411.1" cy="77.4" r="1.15" fill="#4d4d4d"/>
<circle cx="410.9" cy="71.6" r="1.15" fill="#4d4d4d"/>
<circle cx="448.9" cy="49.6" r="1.15" fill="#4d4d4d"/>
<circle cx="440.7" cy="83.3" r="1.15" fill="#4d4d4d"/>
<circle cx="428.7" cy="69.4" r="1.15" fill="#4d4d4d"/>
<circle cx="408.5" cy="85.0" r="1.15" fill="#4d4d4d"/>
<circle cx="468.2" cy="60.4" r="1.15" fill="#4d4d4d"/>
<circle cx="425.7" cy="73.5" r="1.15" fill="#4d4d4d"/>
<circle cx="429.0" cy="67.3" r="1.15" fill="#4d4d4d"/>
<circle cx="413.5" cy="76.4" r="1.15" fill="#4d4d4d"/>
<circle cx="386.5" cy="102.6" r="1.15" fill="#4d4d4d"/>
<circle cx="388.2" cy="91.0" r="1.15" fill="#4d4d4d"/>
<circle cx="426.0" cy="45.2" r="1.15" fill="#4d4d4d"/>
<circle cx="425.7" cy="79.1" r="1.15" fill="#4d4d4d"/>
<circle cx="412.0" cy="92.7" r="1.15" fill="#4d4d4d"/>
<circle cx="391.8" cy="81.0" r="1.15" fill="#4d4d4d"/>
<circle cx="385.9" cy="80.3" r="1.15" fill="#4d4d4d"/>
<circle cx="410.1" cy="70.0" r="1.15" fill="#4d4d4d"/>
<circle cx="385.6" cy="99.3" r="1.15" fill="#4d4d4d"/>
<circle cx="436.6" cy="51.2" r="1.15" fill="#4d4d4d"/>
<circle cx="442.1" cy="68.2" r="1.15" fill="#4d4d4d"/>
<circle cx="478.5" cy="54.3" r="1.15" fill="#4d4d4d"/>
<circle cx="436.2" cy="69.1" r="1.15" fill="#4d4d4d"/>
<circle cx="404.3" cy="79.1" r="1.15" fill="#4d4d4d"/>
<circle cx="398.3" cy="73.0" r="1.15" fill="#4d4d4d"/>
<circle cx="342.4" cy="101.2" r="1.15" fill="#4d4d4d"/>
<circle cx="404.3" cy="78.2" r="1.15" fill="#4d4d4d"/>
<circle cx="413.3" cy="63.3" r="1.15" fill="#4d4d4d"/>
<circle cx="438.1" cy="60.6" r="1.15" fill="#4d4d4d"/>
<circle cx="430.4" cy="55.4" r="1.15" fill="#4d4d4d"/>
<circle cx="429.9" cy="80.9" r="1.15" fill="#4d4d4d"/>
<circle cx="421.8" cy="86.7" r="1.15" fill="#4d4d4d"/>
<circle cx="431.5" cy="56.2" r="1.15" fill="#4d4d4d"/>
<circle cx="448.5" cy="71.7" r="1.15" fill="#4d4d4d"/>
<circle cx="394.1" cy="86.2" r="1.15" fill="#4d4d4d"/>
<circle cx="407.3" cy="77.6" r="1.15" fill="#4d4d4d"/>
<circle cx="387.1" cy="91.7" r="1.15" fill="#4d4d4d"/>
<circle cx="452.2" cy="59.6" r="1.15" fill="#4d4d4d"/>
<circle cx="445.3" cy="42.7" r="1.15" fill="#4d4d4d"/>
<circle cx="433.5" cy="91.5" r="1.15" fill="#4d4d4d"/>
<circle cx="391.2" cy="74.6" r="1.15" fill="#4d4d4d"/>
<circle cx="420.9" cy="44.6" r="1.15" fill="#4d4d4d"/>
<circle cx="412.1" cy="73.9" r="1.15" fill="#4d4d4d"/>
<circle cx="418.9" cy="71.0" r="1.15" fill="#4d4d4d"/>
<circle cx="413.1" cy="65.7" r="1.15" fill="#4d4d4d"/>
<circle cx="428.4" cy="46.1" r="1.15" fill="#4d4d4d"/>
<circle cx="408.6" cy="88.9" r="1.15" fill="#4d4d4d"/>
<circle cx="435.7" cy="61.7" r="1.15" fill="#4d4d4d"/>
<circle cx="422.4" cy="71.2" r="1.15" fill="#4d4d4d"/>
<circle cx="410.8" cy="68.6" r="1.15" fill="#4d4d4d"/>
<circle cx="414.7" cy="71.1" r="1.15" fill="#4d4d4d"/>
<circle cx="407.6" cy="69.1" r="1.15" fill="#4d4d4d"/>
<circle cx="434.8" cy="67.7" r="1.15" fill="#4d4d4d"/>
<circle cx="411.3" cy="74.0" r="1.15" fill="#4d4d4d"/>
<circle cx="423.6" cy="75.9" r="1.15" fill="#4d4d4d"/>
<circle cx="408.7" cy="83.1" r="1.15" fill="#4d4d4d"/>
<circle cx="385.0" cy="88.9" r="1.15" fill="#4d4d4d"/>
<circle cx="436.8" cy="63.7" r="1.15" fill="#4d4d4d"/>
<circle cx="394.2" cy="95.7" r="1.15" fill="#4d4d4d"/>
<circle cx="431.9" cy="47.3" r="1.15" fill="#4d4d4d"/>
<circle cx="426.3" cy="68.7" r="1.15" fill="#4d4d4d"/>
<circle cx="381.3" cy="104.3" r="1.15" fill="#4d4d4d"/>
<circle cx="396.7" cy="69.5" r="1.15" fill="#4d4d4d"/>
<circle cx="406.0" cy="85.3" r="1.15" fill="#4d4d4d"/>
<circle cx="399.4" cy="74.7" r="1.15" fill="#4d4d4d"/>
<circle cx="391.6" cy="84.3" r="1.15" fill="#4d4d4d"/>
<circle cx="433.2" cy="61.1" r="1.15" fill="#4d4d4d"/>
<circle cx="412.0" cy="72.3" r="1.15" fill="#4d4d4d"/>
<circle cx="425.5" cy="73.9" r="1.15" fill="#4d4d4d"/>
<circle cx="407.8" cy="75.7" r="1.15" fill="#4d4d4d"/>
<circle cx="423.8" cy="46.1" r="1.15" fill="#4d4d4d"/>
<circle cx="400.9" cy="104.2" r="1.15" fill="#4d4d4d"/>
<circle cx="416.6" cy="71.2" r="1.15" fill="#4d4d4d"/>
<circle cx="429.8" cy="60.8" r="1.15" fill="#4d4d4d"/>
<circle cx="418.1" cy="82.8" r="1.15" fill="#4d4d4d"/>
<circle cx="407.3" cy="91.5" r="1.15" fill="#4d4d4d"/>
<circle cx="393.6" cy="59.4" r="1.15" fill="#4d4d4d"/>
<circle cx="420.8" cy="74.0" r="1.15" fill="#4d4d4d"/>
<circle cx="424.6" cy="45.2" r="1.15" fill="#4d4d4d"/>
<circle cx="411.6" cy="68.5" r="1.15" fill="#4d4d4d"/>
<circle cx="400.5" cy="78.9" r="1.15" fill="#4d4d4d"/>
<circle cx="428.9" cy="60.7" r="1.15" fill="#4d4d4d"/>
<circle cx="470.9" cy="38.5" r="1.15" fill="#4d4d4d"/>
<circle cx="410.6" cy="61.9" r="1.15" fill="#4d4d4d"/>
<circle cx="424.5" cy="63.3" r="1.15" fill="#4d4d4d"/>
<circle cx="425.3" cy="66.1" r="1.15" fill="#4d4d4d"/>
<circle cx="361.6" cy="96.8" r="1.15" fill="#4d4d4d"/>
<circle cx="419.9" cy="55.5" r="1.15" fill="#4d4d4d"/>
<circle cx="401.9" cy="70.1" r="1.15" fill="#4d4d4d"/>
<circle cx="447.2" cy="68.1" r="1.15" fill="#4d4d4d"/>
<circle cx="411.7" cy="81.3" r="1.15" fill="#4d4d4d"/>
<circle cx="400.3" cy="76.2" r="1.15" fill="#4d4d4d"/>
<circle cx="412.4" cy="80.8" r="1.15" fill="#4d4d4d"/>
<circle cx="420.8" cy="74.0" r="1.15" fill="#4d4d4d"/>
<circle cx="405.0" cy="88.1" r="1.15" fill="#4d4d4d"/>
<circle cx="416.0" cy="75.1" r="1.15" fill="#4d4d4d"/>
<circle cx="387.8" cy="81.3" r="1.15" fill="#4d4d4d"/>
<circle cx="412.3" cy="63.1" r="1.15" fill="#4d4d4d"/>
<circle cx="434.0" cy="63.4" r="1.15" fill="#4d4d4d"/>
<circle cx="459.8" cy="28.1" r="1.15" fill="#4d4d4d"/>
<circle cx="432.5" cy="65.1" r="1.15" fill="#4d4d4d"/>
<circle cx="423.1" cy="33.7" r="1.15" fill="#4d4d4d"/>
<circle cx="442.8" cy="48.2" r="1.15" fill="#4d4d4d"/>
<circle cx="439.2" cy="55.5" r="1.15" fill="#4d4d4d"/>
<circle cx="453.2" cy="59.6" r="1.15" fill="#4d4d4d"/>
<circle cx="440.6" cy="91.3" r="1.15" fill="#4d4d4d"/>
<circle cx="414.6" cy="74.6" r="1.15" fill="#4d4d4d"/>
<circle cx="422.8" cy="67.0" r="1.15" fill="#4d4d4d"/>
<circle cx="421.0" cy="48.6" r="1.15" fill="#4d4d4d"/>
<circle cx="423.7" cy="83.6" r="1.15" fill="#4d4d4d"/>
<circle cx="421.5" cy="48.6" r="1.15" fill="#4d4d4d"/>
<circle cx="400.2" cy="82.7" r="1.15" fill="#4d4d4d"/>
<circle cx="371.6" cy="85.9" r="1.15" fill="#4d4d4d"/>
<circle cx="402.6" cy="106.7" r="1.15" fill="#4d4d4d"/>
<circle cx="373.3" cy="91.5" r="1.15" fill="#4d4d4d"/>
<circle cx="418.6" cy="74.7" r="1.15" fill="#4d4d4d"/>
<circle cx="417.3" cy="64.1" r="1.15" fill="#4d4d4d"/>
<circle cx="380.9" cy="88.3" r="1.15" fill="#4d4d4d"/>
<circle cx="432.1" cy="77.0" r="1.15" fill="#4d4d4d"/>
<circle cx="436.0" cy="52.1" r="1.15" fill="#4d4d4d"/>
<circle cx="419.2" cy="63.0" r="1.15" fill="#4d4d4d"/>
<circle cx="453.3" cy="47.5" r="1.15" fill="#4d4d4d"/>
<circle cx="457.7" cy="40.9" r="1.15" fill="#4d4d4d"/>
<circle cx="391.0" cy="72.3" r="1.15" fill="#4d4d4d"/>
<circle cx="439.6" cy="61.0" r="1.15" fill="#4d4d4d"/>
<circle cx="426.7" cy="81.9" r="1.15" fill="#4d4d4d"/>
<circle cx="426.2" cy="82.5" r="1.15" fill="#4d4d4d"/>
<circle cx="437.4" cy="47.0" r="1.15" fill="#4d4d4d"/>
<circle cx="401.6" cy="71.4" r="1.15" fill="#4d4d4d"/>
<circle cx="404.3" cy="76.8" r="1.15" fill="#4d4d4d"/>
<circle cx="399.3" cy="85.1" r="1.15" fill="#4d4d4d"/>
<circle cx="400.8" cy="79.3" r="1.15" fill="#4d4d4d"/>
<circle cx="415.0" cy="72.4" r="1.15" fill="#4d4d4d"/>
<circle cx="385.7" cy="90.7" r="1.15" fill="#4d4d4d"/>
<circle cx="394.5" cy="90.4" r="1.15" fill="#4d4d4d"/>
<circle cx="429.7" cy="41.8" r="1.15" fill="#4d4d4d"/>
<circle cx="415.6" cy="69.9" r="1.15" fill="#4d4d4d"/>
<circle cx="425.5" cy="74.3" r="1.15" fill="#4d4d4d"/>
<circle cx="376.2" cy="105.9" r="1.15" fill="#4d4d4d"/>
<circle cx="400.2" cy="87.9" r="1.15" fill="#4d4d4d"/>
<circle cx="405.1" cy="69.6" r="1.15" fill="#4d4d4d"/>
<circle cx="417.9" cy="63.0" r="1.15" fill="#4d4d4d"/>
<circle cx="404.5" cy="80.2" r="1.15" fill="#4d4d4d"/>
<circle cx="437.4" cy="61.3" r="1.15" fill="#4d4d4d"/>
<circle cx="415.9" cy="75.6" r="1.15" fill="#4d4d4d"/>
<circle cx="417.5" cy="83.7" r="1.15" fill="#4d4d4d"/>
<circle cx="417.5" cy="57.2" r="1.15" fill="#4d4d4d"/>
<circle cx="432.5" cy="60.1" r="1.15" fill="#4d4d4d"/>
<circle cx="406.9" cy="49.4" r="1.15" fill="#4d4d4d"/>
<circle cx="441.5" cy="68.2" r="1.15" fill="#4d4d4d"/>
<circle cx="427.1" cy="68.3" r="1.15" fill="#4d4d4d"/>
<circle cx="420.5" cy="60.3" r="1.15" fill="#4d4d4d"/>
<circle cx="418.1" cy="73.9" r="1.15" fill="#4d4d4d"/>
<circle cx="428.4" cy="81.4" r="1.15" fill="#4d4d4d"/>
<circle cx="439.2" cy="71.4" r="1.15" fill="#4d4d4d"/>
<circle cx="437.7" cy="60.6" r="1.15" fill="#4d4d4d"/>
<circle cx="425.3" cy="63.9" r="1.15" fill="#4d4d4d"/>
<circle cx="436.2" cy="63.5" r="1.15" fill="#4d4d4d"/>
<circle cx="419.7" cy="59.4" r="1.15" fill="#4d4d4d"/>
<circle cx="444.3" cy="47.6" r="1.15" fill="#4d4d4d"/>
<circle cx="416.6" cy="68.4" r="1.15" fill="#4d4d4d"/>
<circle cx="372.2" cy="93.2" r="1.15" fill="#4d4d4d"/>
<circle cx="446.2" cy="60.4" r="1.15" fill="#4d4d4d"/>
<circle cx="419.5" cy="64.5" r="1.15" fill="#4d4d4d"/>
<circle cx="391.8" cy="73.9" r="1.15" fill="#4d4d4d"/>
<circle cx="412.9" cy="73.1" r="1.15" fill="#4d4d4d"/>
<circle cx="398.0" cy="76.0" r="1.15" fill="#4d4d4d"/>
<circle cx="462.7" cy="53.1" r="1.15" fill="#4d4d4d"/>
<circle cx="428.0" cy="81.9" r="1.15" fill="#4d4d4d"/>
<circle cx="383.2" cy="99.2" r="1.15" fill="#4d4d4d"/>
<circle cx="429.0" cy="57.5" r="1.15" fill="#4d4d4d"/>
<circle cx="408.5" cy="71.0" r="1.15" fill="#4d4d4d"/>
<circle cx="458.7" cy="34.0" r="1.15" fill="#4d4d4d"/>
<circle cx="394.4" cy="82.1" r="1.15" fill="#4d4d4d"/>
<circle cx="368.5" cy="85.8" r="1.15" fill="#4d4d4d"/>
<circle cx="418.6" cy="56.4" r="1.15" fill="#4d4d4d"/>
<circle cx="409.6" cy="64.4" r="1.15" fill="#4d4d4d"/>
<circle cx="408.1" cy="82.7" r="1.15" fill="#4d4d4d"/>
<circle cx="370.8" cy="96.2" r="1.15" fill="#4d4d4d"/>
<circle cx="426.4" cy="65.7" r="1.15" fill="#4d4d4d"/>
<circle cx="453.4" cy="64.9" r="1.15" fill="#4d4d4d"/>
<circle cx="375.8" cy="86.6" r="1.15" fill="#4d4d4d"/>
<circle cx="442.5" cy="48.1" r="1.15" fill="#4d4d4d"/>
<circle cx="404.8" cy="82.9" r="1.15" fill="#4d4d4d"/>
<circle cx="468.1" cy="25.2" r="1.15" fill="#4d4d4d"/>
<circle cx="426.6" cy="70.3" r="1.15" fill="#4d4d4d"/>
<circle cx="413.1" cy="75.9" r="1.15" fill="#4d4d4d"/>
<circle cx="441.1" cy="62.6" r="1.15" fill="#4d4d4d"/>
<circle cx="428.6" cy="73.9" r="1.15" fill="#4d4d4d"/>
<circle cx="404.3" cy="73.3" r="1.15" fill="#4d4d4d"/>
<circle cx="432.6" cy="64.0" r="1.15" fill="#4d4d4d"/>
<circle cx="406.1" cy="58.8" r="1.15" fill="#4d4d4d"/>
<circle cx="378.4" cy="83.8" r="1.15" fill="#4d4d4d"/>
<circle cx="461.2" cy="44.4" r="1.15" fill="#4d4d4d"/>
<circle cx="409.6" cy="77.8" r="1.15" fill="#4d4d4d"/>
<circle cx="404.0" cy="93.6" r="1.15" fill="#4d4d4d"/>
<circle cx="424.5" cy="69.1" r="1.15" fill="#4d4d4d"/>
<circle cx="383.4" cy="97.4" r="1.15" fill="#4d4d4d"/>
<circle cx="387.8" cy="75.5" r="1.15" fill="#4d4d4d"/>
<circle cx="406.3" cy="77.3" r="1.15" fill="#4d4d4d"/>
<circle cx="405.9" cy="58.8" r="1.15" fill="#4d4d4d"/>
<circle cx="418.7" cy="62.8" r="1.15" fill="#4d4d4d"/>
<circle cx="441.5" cy="50.7" r="1.15" fill="#4d4d4d"/>
<circle cx="406.9" cy="74.1" r="1.15" fill="#4d4d4d"/>
<circle cx="427.8" cy="64.2" r="1.15" fill="#4d4d4d"/>
<circle cx="430.2" cy="58.1" r="1.15" fill="#4d4d4d"/>
<circle cx="393.7" cy="72.9" r="1.15" fill="#4d4d4d"/>
<circle cx="422.1" cy="77.1" r="1.15" fill="#4d4d4d"/>
<circle cx="396.7" cy="76.2" r="1.15" fill="#4d4d4d"/>
<circle cx="440.2" cy="31.6" r="1.15" fill="#4d4d4d"/>
<circle cx="427.0" cy="67.9" r="1.15" fill="#4d4d4d"/>
<circle cx="417.5" cy="74.3" r="1.15" fill="#4d4d4d"/>
<circle cx="388.1" cy="93.4" r="1.15" fill="#4d4d4d"/>
<circle cx="419.7" cy="86.4" r="1.15" fill="#4d4d4d"/>
<circle cx="400.5" cy="66.7" r="1.15" fill="#4d4d4d"/>
<circle cx="432.5" cy="63.6" r="1.15" fill="#4d4d4d"/>
<circle cx="414.6" cy="69.6" r="1.15" fill="#4d4d4d"/>
<circle cx="399.6" cy="59.9" r="1.15" fill="#4d4d4d"/>
<circle cx="437.2" cy="34.3" r="1.15" fill="#4d4d4d"/>
<circle cx="432.8" cy="73.8" r="1.15" fill="#4d4d4d"/>
<circle cx="404.3" cy="66.3" r="1.15" fill="#4d4d4d"/>
<circle cx="442.3" cy="52.6" r="1.15" fill="#4d4d4d"/>
<circle cx="410.7" cy="70.4" r="1.15" fill="#4d4d4d"/>
<circle cx="410.5" cy="69.6" r="1.15" fill="#4d4d4d"/>
<circle cx="419.9" cy="70.6" r="1.15" fill="#4d4d4d"/>
<circle cx="400.9" cy="62.1" r="1.15" fill="#4d4d4d"/>
<circle cx="407.6" cy="69.5" r="1.15" fill="#4d4d4d"/>
<circle cx="413.7" cy="69.5" r="1.15" fill="#4d4d4d"/>
<circle cx="450.3" cy="41.8" r="1.15" fill="#4d4d4d"/>
<circle cx="449.7" cy="46.0" r="1.15" fill="#4d4d4d"/>
<circle cx="411.6" cy="69.3" r="1.15" fill="#4d4d4d"/>
<circle cx="452.1" cy="51.1" r="1.15" fill="#4d4d4d"/>
<circle cx="416.2" cy="52.8" r="1.15" fill="#4d4d4d"/>
<circle cx="425.4" cy="62.0" r="1.15" fill="#4d4d4d"/>
<circle cx="436.3" cy="63.3" r="1.15" fill="#4d4d4d"/>
<circle cx="423.5" cy="78.0" r="1.15" fill="#4d4d4d"/>
<circle cx="469.5" cy="50.0" r="1.15" fill="#4d4d4d"/>
<circle cx="422.4" cy="80.6" r="1.15" fill="#4d4d4d"/>
<circle cx="391.2" cy="83.1" r="1.15" fill="#4d4d4d"/>
<circle cx="445.5" cy="55.1" r="1.15" fill="#4d4d4d"/>
<circle cx="408.2" cy="98.5" r="1.15" fill="#4d4d4d"/>
<circle cx="410.6" cy="74.6" r="1.15" fill="#4d4d4d"/>
<circle cx="352.3" cy="96.0" r="1.15" fill="#4d4d4d"/>
<circle cx="438.9" cy="59.3" r="1.15" fill="#4d4d4d"/>
<circle cx="434.9" cy="73.5" r="1.15" fill="#4d4d4d"/>
<circle cx="434.5" cy="49.3" r="1.15" fill="#4d4d4d"/>
<circle cx="438.4" cy="69.0" r="1.15" fill="#4d4d4d"/>
<circle cx="453.8" cy="67.3" r="1.15" fill="#4d4d4d"/>
<circle cx="416.2" cy="84.0" r="1.15" fill="#4d4d4d"/>
<circle cx="437.5" cy="61.9" r="1.15" fill="#4d4d4d"/>
<circle cx="401.1" cy="68.7" r="1.15" fill="#4d4d4d"/>
<circle cx="409.5" cy="62.6" r="1.15" fill="#4d4d4d"/>
<circle cx="440.1" cy="58.2" r="1.15" fill="#4d4d4d"/>
<circle cx="425.6" cy="80.6" r="1.15" fill="#4d4d4d"/>
<circle cx="388.3" cy="92.9" r="1.15" fill="#4d4d4d"/>
<circle cx="425.0" cy="77.7" r="1.15" fill="#4d4d4d"/>
<circle cx="413.2" cy="75.5" r="1.15" fill="#4d4d4d"/>
<circle cx="399.4" cy="99.8" r="1.15" fill="#4d4d4d"/>
<circle cx="426.6" cy="65.8" r="1.15" fill="#4d4d4d"/>
<circle cx="408.4" cy="68.8" r="1.15" fill="#4d4d4d"/>
<circle cx="383.1" cy="89.8" r="1.15" fill="#4d4d4d"/>
<circle cx="393.1" cy="78.3" r="1.15" fill="#4d4d4d"/>
<circle cx="455.5" cy="63.3" r="1.15" fill="#4d4d4d"/>
<circle cx="384.3" cy="103.6" r="1.15" fill="#4d4d4d"/>
<circle cx="422.0" cy="76.3" r="1.15" fill="#4d4d4d"/>
<circle cx="430.4" cy="52.5" r="1.15" fill="#4d4d4d"/>
<circle cx="431.0" cy="53.6" r="1.15" fill="#4d4d4d"/>
<circle cx="390.6" cy="89.6" r="1.15" fill="#4d4d4d"/>
<circle cx="410.2" cy="61.8" r="1.15" fill="#4d4d4d"/>
<circle cx="420.2" cy="73.7" r="1.15" fill="#4d4d4d"/>
<circle cx="434.5" cy="46.6" r="1.15" fill="#4d4d4d"/>
<circle cx="403.2" cy="73.1" r="1.15" fill="#4d4d4d"/>
<circle cx="392.0" cy="88.9" r="1.15" fill="#4d4d4d"/>
<circle cx="438.9" cy="52.4" r="1.15" fill="#4d4d4d"/>
<circle cx="441.1" cy="68.5" r="1.15" fill="#4d4d4d"/>
<circle cx="425.2" cy="78.0" r="1.15" fill="#4d4d4d"/>
<circle cx="404.0" cy="94.0" r="1.15" fill="#4d4d4d"/>
<circle cx="426.0" cy="64.5" r="1.15" fill="#4d4d4d"/>
<circle cx="419.5" cy="71.1" r="1.15" fill="#4d4d4d"/>
<circle cx="435.3" cy="63.7" r="1.15" fill="#4d4d4d"/>
<circle cx="390.1" cy="89.3" r="1.15" fill="#4d4d4d"/>
<circle cx="419.7" cy="54.6" r="1.15" fill="#4d4d4d"/>
<circle cx="413.7" cy="78.0" r="1.15" fill="#4d4d4d"/>
<circle cx="393.1" cy="91.3" r="1.15" fill="#4d4d4d"/>
<circle cx="421.8" cy="55.7" r="1.15" fill="#4d4d4d"/>
<circle cx="417.9" cy="55.7" r="1.15" fill="#4d4d4d"/>
<circle cx="408.3" cy="72.3" r="1.15" fill="#4d4d4d"/>
<circle cx="425.7" cy="86.6" r="1.15" fill="#4d4d4d"/>
<circle cx="386.4" cy="93.2" r="1.15" fill="#4d4d4d"/>
<circle cx="416.0" cy="65.5" r="1.15" fill="#4d4d4d"/>
<circle cx="426.5" cy="66.9" r="1.15" fill="#4d4d4d"/>
<circle cx="423.3" cy="51.6" r="1.15" fill="#4d4d4d"/>
<circle cx="440.5" cy="75.4" r="1.15" fill="#4d4d4d"/>
<circle cx="391.1" cy="76.9" r="1.15" fill="#4d4d4d"/>
<circle cx="384.5" cy="94.4" r="1.15" fill="#4d4d4d"/>
<circle cx="422.3" cy="54.6" r="1.15" fill="#4d4d4d"/>
<circle cx="427.0" cy="67.7" r="1.15" fill="#4d4d4d"/>
<circle cx="463.1" cy="38.0" r="1.15" fill="#4d4d4d"/>
<circle cx="430.5" cy="72.3" r="1.15" fill="#4d4d4d"/>
<circle cx="398.2" cy="96.4" r="1.15" fill="#4d4d4d"/>
<circle cx="434.6" cy="75.4" r="1.15" fill="#4d4d4d"/>
<circle cx="398.8" cy="87.2" r="1.15" fill="#4d4d4d"/>
<circle cx="385.0" cy="98.6" r="1.15" fill="#4d4d4d"/>
<circle cx="473.7" cy="31.0" r="1.15" fill="#4d4d4d"/>
<circle cx="424.2" cy="53.5" r="1.15" fill="#4d4d4d"/>
<circle cx="432.7" cy="61.1" r="1.15" fill="#4d4d4d"/>
<circle cx="429.4" cy="77.1" r="1.15" fill="#4d4d4d"/>
<circle cx="456.4" cy="53.9" r="1.15" fill="#4d4d4d"/>
<circle cx="423.3" cy="76.2" r="1.15" fill="#4d4d4d"/>
<circle cx="443.6" cy="42.9" r="1.15" fill="#4d4d4d"/>
<circle cx="394.9" cy="79.0" r="1.15" fill="#4d4d4d"/>
<circle cx="387.0" cy="80.9" r="1.15" fill="#4d4d4d"/>
<circle cx="448.1" cy="61.0" r="1.15" fill="#4d4d4d"/>
<circle cx="449.1" cy="78.2" r="1.15" fill="#4d4d4d"/>
<circle cx="428.2" cy="74.8" r="1.15" fill="#4d4d4d"/>
<circle cx="422.1" cy="81.6" r="1.15" fill="#4d4d4d"/>
<circle cx="420.8" cy="65.8" r="1.15" fill="#4d4d4d"/>
<circle cx="402.3" cy="77.9" r="1.15" fill="#4d4d4d"/>
<circle cx="450.5" cy="64.3" r="1.15" fill="#4d4d4d"/>
<circle cx="431.4" cy="69.0" r="1.15" fill="#4d4d4d"/>
<circle cx="428.1" cy="49.1" r="1.15" fill="#4d4d4d"/>
<circle cx="425.3" cy="78.2" r="1.15" fill="#4d4d4d"/>
<circle cx="439.9" cy="70.7" r="1.15" fill="#4d4d4d"/>
<circle cx="428.1" cy="68.9" r="1.15" fill="#4d4d4d"/>
<circle cx="433.3" cy="71.5" r="1.15" fill="#4d4d4d"/>
<circle cx="391.8" cy="88.7" r="1.15" fill="#4d4d4d"/>
<circle cx="428.2" cy="60.4" r="1.15" fill="#4d4d4d"/>
<circle cx="464.6" cy="29.6" r="1.15" fill="#4d4d4d"/>
<circle cx="405.9" cy="96.7" r="1.15" fill="#4d4d4d"/>
<circle cx="414.4" cy="73.2" r="1.15" fill="#4d4d4d"/>
<circle cx="436.5" cy="61.8" r="1.15" fill="#4d4d4d"/>
<circle cx="437.9" cy="62.5" r="1.15" fill="#4d4d4d"/>
<circle cx="430.7" cy="67.1" r="1.15" fill="#4d4d4d"/>
<circle cx="382.1" cy="92.4" r="1.15" fill="#4d4d4d"/>
<circle cx="428.0" cy="55.3" r="1.15" fill="#4d4d4d"/>
<circle cx="391.5" cy="89.2" r="1.15" fill="#4d4d4d"/>
<circle cx="399.3" cy="81.8" r="1.15" fill="#4d4d4d"/>
<circle cx="429.0" cy="65.9" r="1.15" fill="#4d4d4d"/>
<circle cx="410.8" cy="73.6" r="1.15" fill="#4d4d4d"/>
<circle cx="434.7" cy="65.0" r="1.15" fill="#4d4d4d"/>
<circle cx="485.4" cy="27.5" r="1.15" fill="#4d4d4d"/>
<circle cx="434.0" cy="63.6" r="1.15" fill="#4d4d4d"/>
<circle cx="432.8" cy="62.1" r="1.15" fill="#4d4d4d"/>
<circle cx="397.8" cy="81.7" r="1.15" fill="#4d4d4d"/>
<circle cx="403.2" cy="89.5" r="1.15" fill="#4d4d4d"/>
<circle cx="394.1" cy="92.0" r="1.15" fill="#4d4d4d"/>
<circle cx="405.6" cy="88.8" r="1.15" fill="#4d4d4d"/>
<circle cx="393.5" cy="81.0" r="1.15" fill="#4d4d4d"/>
<circle cx="402.9" cy="86.5" r="1.15" fill="#4d4d4d"/>
<circle cx="412.6" cy="85.5" r="1.15" fill="#4d4d4d"/>
<circle cx="395.5" cy="79.6" r="1.15" fill="#4d4d4d"/>
<circle cx="386.4" cy="80.8" r="1.15" fill="#4d4d4d"/>
<circle cx="387.7" cy="105.4" r="1.15" fill="#4d4d4d"/>
<circle cx="427.0" cy="48.3" r="1.15" fill="#4d4d4d"/>
<circle cx="424.6" cy="49.8" r="1.15" fill="#4d4d4d"/>
<circle cx="420.7" cy="64.3" r="1.15" fill="#4d4d4d"/>
<circle cx="453.7" cy="39.4" r="1.15" fill="#4d4d4d"/>
<circle cx="425.6" cy="42.0" r="1.15" fill="#4d4d4d"/>
<circle cx="406.7" cy="54.1" r="1.15" fill="#4d4d4d"/>
<circle cx="485.5" cy="44.9" r="1.15" fill="#4d4d4d"/>
<circle cx="393.4" cy="90.8" r="1.15" fill="#4d4d4d"/>
<circle cx="420.9" cy="56.0" r="1.15" fill="#4d4d4d"/>
<circle cx="447.5" cy="41.2" r="1.15" fill="#4d4d4d"/>
<circle cx="393.5" cy="65.3" r="1.15" fill="#4d4d4d"/>
<circle cx="420.8" cy="58.4" r="1.15" fill="#4d4d4d"/>
<circle cx="434.6" cy="57.3" r="1.15" fill="#4d4d4d"/>
<circle cx="398.5" cy="60.7" r="1.15" fill="#4d4d4d"/>
<circle cx="422.3" cy="50.3" r="1.15" fill="#4d4d4d"/>
<circle cx="442.2" cy="58.6" r="1.15" fill="#4d4d4d"/>
<circle cx="426.0" cy="59.3" r="1.15" fill="#4d4d4d"/>
<circle cx="389.8" cy="60.7" r="1.15" fill="#4d4d4d"/>
<circle cx="435.2" cy="61.4" r="1.15" fill="#4d4d4d"/>
<circle cx="426.7" cy="67.8" r="1.15" fill="#4d4d4d"/>
<circle cx="436.2" cy="51.8" r="1.15" fill="#4d4d4d"/>
<circle cx="455.5" cy="24.2" r="1.15" fill="#4d4d4d"/>
<circle cx="452.2" cy="39.2" r="1.15" fill="#4d4d4d"/>
<circle cx="435.2" cy="27.6" r="1.15" fill="#4d4d4d"/>
<circle cx="432.4" cy="50.4" r="1.15" fill="#4d4d4d"/>
<circle cx="392.7" cy="66.2" r="1.15" fill="#4d4d4d"/>
<circle cx="419.9" cy="71.9" r="1.15" fill="#4d4d4d"/>
<circle cx="429.9" cy="57.3" r="1.15" fill="#4d4d4d"/>
<circle cx="412.4" cy="35.6" r="1.15" fill="#4d4d4d"/>
<circle cx="426.4" cy="46.1" r="1.15" fill="#4d4d4d"/>
<circle cx="400.4" cy="49.3" r="1.15" fill="#4d4d4d"/>
<circle cx="466.9" cy="27.2" r="1.15" fill="#4d4d4d"/>
<circle cx="484.3" cy="31.1" r="1.15" fill="#4d4d4d"/>
<circle cx="412.7" cy="58.0" r="1.15" fill="#4d4d4d"/>
<circle cx="434.9" cy="46.1" r="1.15" fill="#4d4d4d"/>
<circle cx="417.1" cy="44.5" r="1.15" fill="#4d4d4d"/>
<circle cx="459.2" cy="33.2" r="1.15" fill="#4d4d4d"/>
<circle cx="435.9" cy="40.6" r="1.15" fill="#4d4d4d"/>
<circle cx="425.8" cy="48.7" r="1.15" fill="#4d4d4d"/>
<circle cx="417.4" cy="64.2" r="1.15" fill="#4d4d4d"/>
<circle cx="427.2" cy="53.9" r="1.15" fill="#4d4d4d"/>
<circle cx="395.5" cy="74.0" r="1.15" fill="#4d4d4d"/>
<circle cx="442.7" cy="31.3" r="1.15" fill="#4d4d4d"/>
<circle cx="403.6" cy="87.2" r="1.15" fill="#4d4d4d"/>
<circle cx="438.7" cy="49.4" r="1.15" fill="#4d4d4d"/>
<circle cx="427.3" cy="17.5" r="1.15" fill="#4d4d4d"/>
<circle cx="454.5" cy="45.8" r="1.15" fill="#4d4d4d"/>
<circle cx="423.2" cy="67.3" r="1.15" fill="#4d4d4d"/>
<circle cx="452.5" cy="42.0" r="1.15" fill="#4d4d4d"/>
<circle cx="397.7" cy="42.6" r="1.15" fill="#4d4d4d"/>
<circle cx="440.8" cy="47.9" r="1.15" fill="#4d4d4d"/>
<circle cx="417.4" cy="45.2" r="1.15" fill="#4d4d4d"/>
<circle cx="429.1" cy="48.3" r="1.15" fill="#4d4d4d"/>
<circle cx="425.7" cy="56.0" r="1.15" fill="#4d4d4d"/>
<circle cx="366.8" cy="69.8" r="1.15" fill="#4d4d4d"/>
<circle cx="432.8" cy="55.8" r="1.15" fill="#4d4d4d"/>
<circle cx="381.6" cy="72.5" r="1.15" fill="#4d4d4d"/>
<circle cx="457.7" cy="34.8" r="1.15" fill="#4d4d4d"/>
<circle cx="368.1" cy="64.7" r="1.15" fill="#4d4d4d"/>
<circle cx="395.4" cy="50.5" r="1.15" fill="#4d4d4d"/>
<circle cx="376.5" cy="65.5" r="1.15" fill="#4d4d4d"/>
<circle cx="469.8" cy="55.6" r="1.15" fill="#4d4d4d"/>
<circle cx="387.4" cy="56.5" r="1.15" fill="#4d4d4d"/>
<circle cx="426.9" cy="54.7" r="1.15" fill="#4d4d4d"/>
<circle cx="408.6" cy="60.5" r="1.15" fill="#4d4d4d"/>
<circle cx="373.0" cy="89.0" r="1.15" fill="#4d4d4d"/>
<circle cx="414.2" cy="62.6" r="1.15" fill="#4d4d4d"/>
<circle cx="442.3" cy="55.2" r="1.15" fill="#4d4d4d"/>
<circle cx="418.5" cy="53.8" r="1.15" fill="#4d4d4d"/>
<circle cx="450.2" cy="62.5" r="1.15" fill="#4d4d4d"/>
<circle cx="413.5" cy="54.3" r="1.15" fill="#4d4d4d"/>
<circle cx="423.9" cy="49.7" r="1.15" fill="#4d4d4d"/>
<circle cx="412.8" cy="70.6" r="1.15" fill="#4d4d4d"/>
<circle cx="433.3" cy="56.8" r="1.15" fill="#4d4d4d"/>
<circle cx="477.2" cy="45.2" r="1.15" fill="#4d4d4d"/>
<circle cx="433.9" cy="35.6" r="1.15" fill="#4d4d4d"/>
<circle cx="429.1" cy="84.4" r="1.15" fill="#4d4d4d"/>
<circle cx="406.2" cy="62.1" r="1.15" fill="#4d4d4d"/>
<circle cx="402.4" cy="81.5" r="1.15" fill="#4d4d4d"/>
<circle cx="464.9" cy="43.5" r="1.15" fill="#4d4d4d"/>
<circle cx="392.3" cy="50.5" r="1.15" fill="#4d4d4d"/>
<circle cx="397.9" cy="68.9" r="1.15" fill="#4d4d4d"/>
<circle cx="420.9" cy="50.5" r="1.15" fill="#4d4d4d"/>
<circle cx="411.7" cy="67.2" r="1.15" fill="#4d4d4d"/>
<circle cx="357.0" cy="61.5" r="1.15" fill="#4d4d4d"/>
<circle cx="433.8" cy="32.6" r="1.15" fill="#4d4d4d"/>
<circle cx="443.7" cy="63.0" r="1.15" fill="#4d4d4d"/>
<circle cx="392.1" cy="77.3" r="1.15" fill="#4d4d4d"/>
<circle cx="405.5" cy="42.8" r="1.15" fill="#4d4d4d"/>
<circle cx="435.9" cy="50.1" r="1.15" fill="#4d4d4d"/>
<circle cx="469.6" cy="39.5" r="1.15" fill="#4d4d4d"/>
<circle cx="397.7" cy="55.7" r="1.15" fill="#4d4d4d"/>
<circle cx="379.2" cy="83.8" r="1.15" fill="#4d4d4d"/>
<circle cx="451.1" cy="31.6" r="1.15" fill="#4d4d4d"/>
<circle cx="466.6" cy="36.7" r="1.15" fill="#4d4d4d"/>
<circle cx="414.2" cy="48.1" r="1.15" fill="#4d4d4d"/>
<circle cx="361.3" cy="81.8" r="1.15" fill="#4d4d4d"/>
<circle cx="464.6" cy="30.6" r="1.15" fill="#4d4d4d"/>
<circle cx="418.1" cy="63.1" r="1.15" fill="#4d4d4d"/>
<circle cx="455.3" cy="27.7" r="1.15" fill="#4d4d4d"/>
<circle cx="422.4" cy="36.4" r="1.15" fill="#4d4d4d"/>
<circle cx="413.1" cy="42.6" r="1.15" fill="#4d4d4d"/>
<circle cx="410.9" cy="48.7" r="1.15" fill="#4d4d4d"/>
<circle cx="465.2" cy="28.8" r="1.15" fill="#4d4d4d"/>
<circle cx="464.1" cy="75.0" r="1.15" fill="#4d4d4d"/>
<circle cx="363.5" cy="60.4" r="1.15" fill="#4d4d4d"/>
<circle cx="397.3" cy="64.2" r="1.15" fill="#4d4d4d"/>
<circle cx="473.7" cy="33.3" r="1.15" fill="#4d4d4d"/>
<circle cx="413.3" cy="58.9" r="1.15" fill="#4d4d4d"/>
<circle cx="385.3" cy="83.6" r="1.15" fill="#4d4d4d"/>
<circle cx="423.8" cy="58.9" r="1.15" fill="#4d4d4d"/>
<circle cx="420.6" cy="43.5" r="1.15" fill="#4d4d4d"/>
<circle cx="420.9" cy="33.0" r="1.15" fill="#4d4d4d"/>
<circle cx="410.2" cy="64.6" r="1.15" fill="#4d4d4d"/>
<circle cx="414.9" cy="66.9" r="1.15" fill="#4d4d4d"/>
<circle cx="410.8" cy="35.9" r="1.15" fill="#4d4d4d"/>
<circle cx="433.1" cy="60.5" r="1.15" fill="#4d4d4d"/>
<circle cx="400.8" cy="30.8" r="1.15" fill="#4d4d4d"/>
<circle cx="415.5" cy="53.6" r="1.15" fill="#4d4d4d"/>
<circle cx="419.6" cy="65.0" r="1.15" fill="#4d4d4d"/>
<circle cx="460.4" cy="25.5" r="1.15" fill="#4d4d4d"/>
<circle cx="434.2" cy="24.7" r="1.15" fill="#4d4d4d"/>
<circle cx="420.6" cy="72.3" r="1.15" fill="#4d4d4d"/>
<circle cx="438.8" cy="25.0" r="1.15" fill="#4d4d4d"/>
<circle cx="435.1" cy="51.5" r="1.15" fill="#4d4d4d"/>
<circle cx="454.3" cy="20.7" r="1.15" fill="#4d4d4d"/>
<circle cx="437.9" cy="51.9" r="1.15" fill="#4d4d4d"/>
<circle cx="474.2" cy="56.1" r="1.15" fill="#4d4d4d"/>
<circle cx="461.5" cy="31.8" r="1.15" fill="#4d4d4d"/>
<circle cx="422.5" cy="39.2" r="1.15" fill="#4d4d4d"/>
<circle cx="412.0" cy="26.7" r="1.15" fill="#4d4d4d"/>
<circle cx="448.5" cy="19.4" r="1.15" fill="#4d4d4d"/>
<circle cx="438.2" cy="37.0" r="1.15" fill="#4d4d4d"/>
<circle cx="421.0" cy="55.7" r="1.15" fill="#4d4d4d"/>
<circle cx="382.1" cy="72.7" r="1.15" fill="#4d4d4d"/>
<circle cx="372.1" cy="73.0" r="1.15" fill="#4d4d4d"/>
<circle cx="433.5" cy="59.6" r="1.15" fill="#4d4d4d"/>
<circle cx="445.4" cy="47.9" r="1.15" fill="#4d4d4d"/>
<circle cx="446.3" cy="78.8" r="1.15" fill="#4d4d4d"/>
<circle cx="387.4" cy="61.3" r="1.15" fill="#4d4d4d"/>
<circle cx="452.9" cy="42.0" r="1.15" fill="#4d4d4d"/>
<circle cx="408.6" cy="21.3" r="1.15" fill="#4d4d4d"/>
<circle cx="434.6" cy="37.4" r="1.15" fill="#4d4d4d"/>
<circle cx="435.4" cy="54.1" r="1.15" fill="#4d4d4d"/>
<circle cx="401.1" cy="51.4" r="1.15" fill="#4d4d4d"/>
<circle cx="407.0" cy="74.0" r="1.15" fill="#4d4d4d"/>
<circle cx="365.3" cy="79.5" r="1.15" fill="#4d4d4d"/>
<circle cx="397.8" cy="85.9" r="1.15" fill="#4d4d4d"/>
<circle cx="372.9" cy="48.9" r="1.15" fill="#4d4d4d"/>
<circle cx="436.0" cy="39.2" r="1.15" fill="#4d4d4d"/>
<circle cx="425.4" cy="67.1" r="1.15" fill="#4d4d4d"/>
<circle cx="449.4" cy="43.6" r="1.15" fill="#4d4d4d"/>
<circle cx="433.7" cy="35.1" r="1.15" fill="#4d4d4d"/>
<circle cx="405.8" cy="50.8" r="1.15" fill="#4d4d4d"/>
<circle cx="433.4" cy="43.0" r="1.15" fill="#4d4d4d"/>
<circle cx="412.7" cy="67.0" r="1.15" fill="#4d4d4d"/>
<circle cx="440.8" cy="54.5" r="1.15" fill="#4d4d4d"/>
<circle cx="432.6" cy="47.2" r="1.15" fill="#4d4d4d"/>
<circle cx="395.8" cy="48.3" r="1.15" fill="#4d4d4d"/>
<circle cx="423.7" cy="62.9" r="1.15" fill="#4d4d4d"/>
<circle cx="425.2" cy="66.4" r="1.15" fill="#4d4d4d"/>
<circle cx="415.0" cy="38.7" r="1.15" fill="#4d4d4d"/>
<circle cx="448.9" cy="55.8" r="1.15" fill="#4d4d4d"/>
<circle cx="471.9" cy="20.4" r="1.15" fill="#4d4d4d"/>
<circle cx="413.3" cy="51.7" r="1.15" fill="#4d4d4d"/>
<circle cx="413.8" cy="42.7" r="1.15" fill="#4d4d4d"/>
<circle cx="360.3" cy="49.0" r="1.15" fill="#4d4d4d"/>
<circle cx="420.0" cy="43.3" r="1.15" fill="#4d4d4d"/>
<circle cx="411.4" cy="45.0" r="1.15" fill="#4d4d4d"/>
<circle cx="362.8" cy="84.7" r="1.15" fill="#4d4d4d"/>
<circle cx="431.8" cy="58.3" r="1.15" fill="#4d4d4d"/>
<circle cx="440.3" cy="37.0" r="1.15" fill="#4d4d4d"/>
<circle cx="403.0" cy="37.4" r="1.15" fill="#4d4d4d"/>
<circle cx="413.2" cy="35.9" r="1.15" fill="#4d4d4d"/>
<circle cx="396.4" cy="28.9" r="1.15" fill="#4d4d4d"/>
<circle cx="445.1" cy="40.0" r="1.15" fill="#4d4d4d"/>
<circle cx="380.9" cy="63.2" r="1.15" fill="#4d4d4d"/>
<circle cx="414.8" cy="40.7" r="1.15" fill="#4d4d4d"/>
<circle cx="478.6" cy="32.7" r="1.15" fill="#4d4d4d"/>
<circle cx="425.1" cy="51.9" r="1.15" fill="#4d4d4d"/>
<circle cx="436.8" cy="61.4" r="1.15" fill="#4d4d4d"/>
<circle cx="419.5" cy="39.3" r="1.15" fill="#4d4d4d"/>
<circle cx="390.6" cy="77.4" r="1.15" fill="#4d4d4d"/>
<circle cx="422.7" cy="44.8" r="1.15" fill="#4d4d4d"/>
<circle cx="435.1" cy="67.1" r="1.15" fill="#4d4d4d"/>
<circle cx="394.9" cy="46.2" r="1.15" fill="#4d4d4d"/>
<circle cx="433.3" cy="62.4" r="1.15" fill="#4d4d4d"/>
<circle cx="458.7" cy="28.1" r="1.15" fill="#4d4d4d"/>
<circle cx="453.8" cy="63.2" r="1.15" fill="#4d4d4d"/>
<circle cx="379.1" cy="72.6" r="1.15" fill="#4d4d4d"/>
<circle cx="396.2" cy="44.6" r="1.15" fill="#4d4d4d"/>
<circle cx="378.2" cy="78.0" r="1.15" fill="#4d4d4d"/>
<circle cx="453.8" cy="40.4" r="1.15" fill="#4d4d4d"/>
<circle cx="440.9" cy="52.3" r="1.15" fill="#4d4d4d"/>
<circle cx="443.5" cy="76.5" r="1.15" fill="#4d4d4d"/>
<circle cx="398.9" cy="55.6" r="1.15" fill="#4d4d4d"/>
<circle cx="390.8" cy="56.7" r="1.15" fill="#4d4d4d"/>
<circle cx="425.8" cy="66.0" r="1.15" fill="#4d4d4d"/>
<path d="M424.8,71.0 L424.9,72.1 L424.7,73.2 L424.7,73.2 L424.3,74.2 L423.8,75.3 L423.0,76.4 L423.0,76.5 L422.0,77.5 L421.2,78.3 L420.9,78.6 L419.6,79.7 L419.5,79.8 L418.3,80.8 L417.8,81.4 L417.3,81.9 L416.4,83.0 L416.0,83.4 L415.5,84.1 L414.7,85.1 L414.3,85.5 L413.6,86.2 L412.6,87.2 L412.5,87.3 L411.1,88.4 L410.8,88.6 L409.7,89.5 L409.1,89.9 L408.2,90.6 L407.4,91.2 L406.7,91.7 L405.6,92.5 L405.3,92.8 L404.0,93.9 L403.9,94.0 L402.8,94.9 L402.2,95.4 L401.4,96.0 L400.4,96.8 L400.0,97.1 L398.7,98.0 L398.4,98.2 L397.0,99.2 L396.9,99.3 L395.4,100.4 L395.2,100.5 L394.0,101.5 L393.5,101.9 L392.7,102.6 L391.8,103.4 L391.5,103.7 L390.1,104.7 L390.0,104.8 L388.5,105.8 L388.3,106.0 L386.6,106.8 L386.3,106.9 L384.8,107.5 L383.1,107.9 L382.7,108.0 L381.4,108.3 L379.6,108.4 L377.9,108.5 L376.2,108.3 L374.4,108.0 L374.3,108.0 L372.7,107.5 L371.3,106.9 L371.0,106.8 L369.6,105.8 L369.2,105.5 L368.5,104.7 L367.8,103.7 L367.5,103.0 L367.3,102.6 L367.1,101.5 L367.1,100.4 L367.3,99.3 L367.5,98.6 L367.6,98.2 L367.9,97.1 L368.4,96.0 L368.8,94.9 L369.2,94.1 L369.4,93.9 L370.0,92.8 L370.7,91.7 L371.0,91.3 L371.5,90.6 L372.5,89.5 L372.7,89.3 L373.5,88.4 L374.4,87.5 L374.6,87.3 L375.8,86.2 L376.2,85.9 L377.1,85.1 L377.9,84.5 L378.5,84.1 L379.6,83.2 L380.0,83.0 L381.4,82.0 L381.6,81.9 L383.1,81.0 L383.5,80.8 L384.8,80.0 L385.4,79.7 L386.6,79.1 L387.4,78.6 L388.3,78.1 L389.4,77.5 L390.0,77.2 L391.3,76.4 L391.8,76.2 L393.3,75.3 L393.5,75.2 L395.2,74.2 L395.2,74.2 L397.0,73.3 L397.2,73.2 L398.7,72.4 L399.3,72.1 L400.4,71.5 L401.4,71.0 L402.2,70.6 L403.5,69.9 L403.9,69.7 L405.6,68.8 L405.6,68.8 L407.4,68.0 L408.1,67.7 L409.1,67.3 L410.8,66.8 L412.0,66.6 L412.6,66.5 L414.3,66.3 L416.0,66.3 L417.8,66.5 L418.7,66.6 L419.5,66.8 L421.2,67.3 L422.2,67.7 L423.0,68.2 L423.8,68.8 L424.5,69.9 L424.7,70.5 L424.8,71.0" fill="none" stroke="#000" stroke-width="0.8" stroke-linejoin="round"/>
<path d="M419.6,73.2 L419.5,73.7 L419.4,74.2 L418.8,75.3 L417.9,76.4 L417.8,76.5 L416.6,77.5 L416.0,78.0 L415.3,78.6 L414.3,79.6 L414.3,79.7 L413.5,80.8 L413.0,81.9 L412.6,82.8 L412.5,83.0 L412.0,84.1 L411.3,85.1 L410.8,85.7 L410.4,86.2 L409.2,87.3 L409.1,87.4 L407.9,88.4 L407.4,88.8 L406.4,89.5 L405.6,90.0 L404.8,90.6 L403.9,91.2 L403.3,91.7 L402.2,92.6 L402.0,92.8 L400.7,93.9 L400.4,94.1 L399.5,94.9 L398.7,95.6 L398.2,96.0 L397.0,97.0 L396.8,97.1 L395.4,98.2 L395.2,98.4 L394.1,99.3 L393.5,99.7 L392.7,100.4 L391.8,101.2 L391.5,101.5 L390.2,102.6 L390.0,102.7 L388.8,103.7 L388.3,104.0 L387.1,104.7 L386.6,105.0 L384.8,105.7 L384.5,105.8 L383.1,106.2 L381.4,106.5 L379.6,106.5 L377.9,106.4 L376.2,106.0 L375.6,105.8 L374.4,105.3 L373.4,104.7 L372.7,104.2 L372.2,103.7 L371.5,102.6 L371.1,101.5 L371.0,100.8 L370.9,100.4 L370.9,99.3 L371.0,99.1 L371.1,98.2 L371.3,97.1 L371.6,96.0 L372.0,94.9 L372.5,93.9 L372.7,93.4 L373.0,92.8 L373.6,91.7 L374.4,90.6 L374.4,90.6 L375.3,89.5 L376.2,88.5 L376.3,88.4 L377.4,87.3 L377.9,86.8 L378.6,86.2 L379.6,85.4 L379.9,85.1 L381.4,84.1 L381.5,84.1 L383.1,83.1 L383.3,83.0 L384.8,82.1 L385.3,81.9 L386.6,81.2 L387.4,80.8 L388.3,80.3 L389.5,79.7 L390.0,79.4 L391.6,78.6 L391.8,78.5 L393.5,77.5 L393.6,77.5 L395.2,76.6 L395.6,76.4 L397.0,75.7 L397.7,75.3 L398.7,74.8 L399.9,74.2 L400.4,74.0 L402.1,73.2 L402.2,73.1 L403.9,72.3 L404.3,72.1 L405.6,71.4 L406.4,71.0 L407.4,70.5 L408.8,69.9 L409.1,69.8 L410.8,69.3 L412.6,69.1 L414.3,69.1 L416.0,69.5 L417.1,69.9 L417.8,70.3 L418.6,71.0 L419.3,72.1 L419.5,72.8 L419.6,73.2" fill="none" stroke="#000" stroke-width="0.8" stroke-linejoin="round"/>
<path d="M408.4,76.4 L408.5,77.5 L408.6,78.6 L408.7,79.7 L408.8,80.8 L408.9,81.9 L408.8,83.0 L408.4,84.1 L407.9,85.1 L407.4,85.7 L407.0,86.2 L405.7,87.3 L405.6,87.4 L404.2,88.4 L403.9,88.6 L402.5,89.5 L402.2,89.7 L400.9,90.6 L400.4,91.0 L399.6,91.7 L398.7,92.5 L398.4,92.8 L397.3,93.9 L397.0,94.2 L396.2,94.9 L395.2,95.9 L395.1,96.0 L393.8,97.1 L393.5,97.4 L392.5,98.2 L391.8,98.9 L391.3,99.3 L390.0,100.4 L390.0,100.4 L388.7,101.5 L388.3,101.8 L387.1,102.6 L386.6,102.9 L385.0,103.7 L384.8,103.7 L383.1,104.2 L381.4,104.4 L379.6,104.2 L377.9,103.8 L377.6,103.7 L376.2,102.8 L375.9,102.6 L375.1,101.5 L374.6,100.4 L374.4,99.4 L374.4,99.3 L374.4,98.2 L374.4,97.9 L374.5,97.1 L374.7,96.0 L375.0,94.9 L375.4,93.9 L375.9,92.8 L376.2,92.2 L376.4,91.7 L377.2,90.6 L377.9,89.6 L378.0,89.5 L379.0,88.4 L379.6,87.8 L380.2,87.3 L381.4,86.4 L381.6,86.2 L383.1,85.2 L383.3,85.1 L384.8,84.3 L385.4,84.1 L386.6,83.5 L387.8,83.0 L388.3,82.7 L390.0,81.9 L390.2,81.9 L391.8,81.1 L392.4,80.8 L393.5,80.2 L394.5,79.7 L395.2,79.3 L396.7,78.6 L397.0,78.5 L398.7,77.7 L399.3,77.5 L400.4,77.1 L402.2,76.6 L403.0,76.4 L403.9,76.2 L405.6,75.9 L407.4,75.8 L408.4,76.4" fill="none" stroke="#000" stroke-width="0.8" stroke-linejoin="round"/>
<path d="M404.1,83.0 L404.0,84.1 L403.9,84.3 L403.4,85.1 L402.3,86.2 L402.2,86.3 L400.6,87.3 L400.4,87.4 L398.8,88.4 L398.7,88.5 L397.5,89.5 L397.0,90.0 L396.5,90.6 L395.6,91.7 L395.2,92.2 L394.8,92.8 L394.0,93.9 L393.5,94.4 L393.0,94.9 L391.9,96.0 L391.8,96.2 L390.7,97.1 L390.0,97.7 L389.4,98.2 L388.3,99.1 L388.0,99.3 L386.6,100.3 L386.4,100.4 L384.8,101.2 L383.6,101.5 L383.1,101.6 L381.4,101.6 L381.1,101.5 L379.6,100.9 L379.1,100.4 L378.3,99.3 L377.9,98.2 L377.9,98.1 L377.8,97.1 L377.8,96.0 L377.9,95.6 L378.0,94.9 L378.3,93.9 L378.7,92.8 L379.3,91.7 L379.6,91.1 L380.0,90.6 L380.9,89.5 L381.4,89.1 L382.1,88.4 L383.1,87.7 L383.7,87.3 L384.8,86.7 L386.0,86.2 L386.6,86.0 L388.3,85.4 L389.3,85.1 L390.0,84.9 L391.8,84.4 L392.8,84.1 L393.5,83.7 L395.1,83.0 L395.2,82.9 L397.0,82.0 L397.4,81.9 L398.7,81.4 L400.4,81.0 L402.2,81.2 L403.3,81.9 L403.9,82.6 L404.1,83.0" fill="none" stroke="#000" stroke-width="0.8" stroke-linejoin="round"/>
<path d="M390.7,89.5 L391.3,90.6 L391.2,91.7 L390.8,92.8 L390.1,93.9 L390.0,93.9 L389.0,94.9 L388.3,95.6 L387.7,96.0 L386.6,96.8 L385.6,97.1 L384.8,97.4 L383.1,97.3 L382.9,97.1 L382.1,96.0 L381.8,94.9 L381.9,93.9 L382.2,92.8 L382.8,91.7 L383.1,91.3 L383.8,90.6 L384.8,89.8 L385.5,89.5 L386.6,89.1 L388.3,88.8 L390.0,89.1 L390.7,89.5" fill="none" stroke="#000" stroke-width="0.8" stroke-linejoin="round"/>
<circle cx="385.8" cy="71.9" r="1.3" fill="#2a8ad8"/>
<circle cx="392.2" cy="70.8" r="1.3" fill="#2a8ad8"/>
<circle cx="379.8" cy="118.2" r="1.3" fill="#2a8ad8"/>
<circle cx="366.5" cy="112.8" r="1.3" fill="#2a8ad8"/>
<circle cx="375.9" cy="90.0" r="1.3" fill="#2a8ad8"/>
<circle cx="364.3" cy="93.7" r="1.3" fill="#2a8ad8"/>
<circle cx="387.1" cy="84.2" r="1.3" fill="#2a8ad8"/>
<circle cx="414.8" cy="81.1" r="1.3" fill="#2a8ad8"/>
<circle cx="375.1" cy="92.7" r="1.3" fill="#2a8ad8"/>
<circle cx="372.3" cy="91.7" r="1.3" fill="#2a8ad8"/>
<circle cx="396.4" cy="89.4" r="1.3" fill="#2a8ad8"/>
<circle cx="393.5" cy="78.0" r="1.3" fill="#2a8ad8"/>
<circle cx="388.0" cy="76.0" r="1.3" fill="#2a8ad8"/>
<circle cx="365.6" cy="94.9" r="1.3" fill="#2a8ad8"/>
<circle cx="385.1" cy="105.3" r="1.3" fill="#2a8ad8"/>
<circle cx="400.8" cy="75.5" r="1.3" fill="#2a8ad8"/>
<circle cx="356.6" cy="108.7" r="1.3" fill="#2a8ad8"/>
<circle cx="375.8" cy="107.8" r="1.3" fill="#2a8ad8"/>
<circle cx="344.6" cy="107.2" r="1.3" fill="#2a8ad8"/>
<circle cx="357.8" cy="116.0" r="1.3" fill="#2a8ad8"/>
<circle cx="345.8" cy="121.4" r="1.3" fill="#2a8ad8"/>
<circle cx="380.7" cy="113.4" r="1.3" fill="#2a8ad8"/>
<circle cx="358.3" cy="105.7" r="1.3" fill="#2a8ad8"/>
<circle cx="391.6" cy="84.9" r="1.3" fill="#2a8ad8"/>
<circle cx="389.1" cy="80.0" r="1.3" fill="#2a8ad8"/>
<circle cx="381.7" cy="96.6" r="1.3" fill="#2a8ad8"/>
<circle cx="331.2" cy="105.4" r="1.3" fill="#2a8ad8"/>
<circle cx="374.1" cy="98.2" r="1.3" fill="#2a8ad8"/>
<circle cx="384.7" cy="94.7" r="1.3" fill="#2a8ad8"/>
<circle cx="388.2" cy="85.5" r="1.3" fill="#2a8ad8"/>
<circle cx="352.6" cy="95.8" r="1.3" fill="#2a8ad8"/>
<circle cx="375.4" cy="101.7" r="1.3" fill="#2a8ad8"/>
<circle cx="364.5" cy="105.4" r="1.3" fill="#2a8ad8"/>
<circle cx="368.2" cy="102.8" r="1.3" fill="#2a8ad8"/>
<circle cx="408.7" cy="82.0" r="1.3" fill="#2a8ad8"/>
<circle cx="368.3" cy="111.3" r="1.3" fill="#2a8ad8"/>
<circle cx="385.0" cy="81.7" r="1.3" fill="#2a8ad8"/>
<circle cx="404.9" cy="89.3" r="1.3" fill="#2a8ad8"/>
<circle cx="373.1" cy="93.5" r="1.3" fill="#2a8ad8"/>
<circle cx="383.3" cy="103.7" r="1.3" fill="#2a8ad8"/>
<circle cx="388.1" cy="88.0" r="1.3" fill="#2a8ad8"/>
<circle cx="387.1" cy="88.1" r="1.3" fill="#2a8ad8"/>
<circle cx="359.2" cy="109.8" r="1.3" fill="#2a8ad8"/>
<circle cx="387.4" cy="92.7" r="1.3" fill="#2a8ad8"/>
<circle cx="415.2" cy="75.9" r="1.3" fill="#2a8ad8"/>
<circle cx="352.2" cy="87.7" r="1.3" fill="#2a8ad8"/>
<circle cx="404.4" cy="73.9" r="1.3" fill="#2a8ad8"/>
<circle cx="388.3" cy="99.6" r="1.3" fill="#2a8ad8"/>
<circle cx="371.9" cy="103.7" r="1.3" fill="#2a8ad8"/>
<circle cx="429.1" cy="69.0" r="1.3" fill="#2a8ad8"/>
<circle cx="402.3" cy="85.2" r="1.3" fill="#2a8ad8"/>
<circle cx="359.8" cy="104.2" r="1.3" fill="#2a8ad8"/>
<circle cx="387.4" cy="95.8" r="1.3" fill="#2a8ad8"/>
<circle cx="398.2" cy="108.4" r="1.3" fill="#2a8ad8"/>
<circle cx="381.7" cy="97.6" r="1.3" fill="#2a8ad8"/>
<circle cx="400.5" cy="86.1" r="1.3" fill="#2a8ad8"/>
<circle cx="384.3" cy="89.6" r="1.3" fill="#2a8ad8"/>
<circle cx="400.2" cy="95.1" r="1.3" fill="#2a8ad8"/>
<circle cx="416.9" cy="87.5" r="1.3" fill="#2a8ad8"/>
<circle cx="371.1" cy="102.2" r="1.3" fill="#2a8ad8"/>
<circle cx="390.2" cy="88.1" r="1.3" fill="#2a8ad8"/>
<circle cx="375.7" cy="114.0" r="1.3" fill="#2a8ad8"/>
<circle cx="388.5" cy="112.0" r="1.3" fill="#2a8ad8"/>
<circle cx="360.0" cy="116.8" r="1.3" fill="#2a8ad8"/>
<circle cx="373.2" cy="108.9" r="1.3" fill="#2a8ad8"/>
<circle cx="381.5" cy="106.1" r="1.3" fill="#2a8ad8"/>
<circle cx="405.2" cy="66.3" r="1.3" fill="#2a8ad8"/>
<circle cx="410.6" cy="94.3" r="1.3" fill="#2a8ad8"/>
<circle cx="357.1" cy="98.5" r="1.3" fill="#2a8ad8"/>
<circle cx="368.5" cy="116.5" r="1.3" fill="#2a8ad8"/>
<circle cx="399.8" cy="83.5" r="1.3" fill="#2a8ad8"/>
<circle cx="342.6" cy="116.0" r="1.3" fill="#2a8ad8"/>
<circle cx="375.7" cy="98.3" r="1.3" fill="#2a8ad8"/>
<circle cx="383.6" cy="87.6" r="1.3" fill="#2a8ad8"/>
<circle cx="413.0" cy="61.0" r="1.3" fill="#2a8ad8"/>
<circle cx="400.7" cy="84.3" r="1.3" fill="#2a8ad8"/>
<circle cx="378.7" cy="94.9" r="1.3" fill="#2a8ad8"/>
<circle cx="377.8" cy="107.9" r="1.3" fill="#2a8ad8"/>
<circle cx="380.3" cy="88.9" r="1.3" fill="#2a8ad8"/>
<circle cx="418.8" cy="81.4" r="1.3" fill="#2a8ad8"/>
<circle cx="376.5" cy="87.8" r="1.3" fill="#2a8ad8"/>
<circle cx="379.2" cy="96.6" r="1.3" fill="#2a8ad8"/>
<circle cx="393.4" cy="69.9" r="1.3" fill="#2a8ad8"/>
<circle cx="383.1" cy="117.1" r="1.3" fill="#2a8ad8"/>
<circle cx="381.5" cy="98.5" r="1.3" fill="#2a8ad8"/>
<circle cx="361.6" cy="93.8" r="1.3" fill="#2a8ad8"/>
<circle cx="385.5" cy="97.3" r="1.3" fill="#2a8ad8"/>
<circle cx="376.1" cy="106.5" r="1.3" fill="#2a8ad8"/>
<circle cx="411.0" cy="85.0" r="1.3" fill="#2a8ad8"/>
<circle cx="399.9" cy="102.7" r="1.3" fill="#2a8ad8"/>
<circle cx="385.2" cy="92.1" r="1.3" fill="#2a8ad8"/>
<circle cx="400.2" cy="78.8" r="1.3" fill="#2a8ad8"/>
<circle cx="378.4" cy="83.3" r="1.3" fill="#2a8ad8"/>
<circle cx="408.5" cy="95.8" r="1.3" fill="#2a8ad8"/>
<circle cx="385.6" cy="103.2" r="1.3" fill="#2a8ad8"/>
<circle cx="398.4" cy="92.2" r="1.3" fill="#2a8ad8"/>
<circle cx="357.8" cy="94.1" r="1.3" fill="#2a8ad8"/>
<circle cx="393.3" cy="99.3" r="1.3" fill="#2a8ad8"/>
<circle cx="349.2" cy="117.3" r="1.3" fill="#2a8ad8"/>
<circle cx="341.7" cy="102.6" r="1.3" fill="#2a8ad8"/>
<circle cx="379.2" cy="86.2" r="1.3" fill="#2a8ad8"/>
<circle cx="366.3" cy="106.1" r="1.3" fill="#2a8ad8"/>
<circle cx="389.3" cy="104.4" r="1.3" fill="#2a8ad8"/>
<circle cx="434.4" cy="89.3" r="1.3" fill="#2a8ad8"/>
<circle cx="367.7" cy="109.2" r="1.3" fill="#2a8ad8"/>
<circle cx="372.2" cy="110.7" r="1.3" fill="#2a8ad8"/>
<circle cx="390.2" cy="82.6" r="1.3" fill="#2a8ad8"/>
<circle cx="396.4" cy="95.7" r="1.3" fill="#2a8ad8"/>
<circle cx="381.9" cy="89.4" r="1.3" fill="#2a8ad8"/>
<circle cx="381.3" cy="73.8" r="1.3" fill="#2a8ad8"/>
<circle cx="401.0" cy="73.0" r="1.3" fill="#2a8ad8"/>
<circle cx="397.0" cy="101.4" r="1.3" fill="#2a8ad8"/>
<circle cx="363.4" cy="93.2" r="1.3" fill="#2a8ad8"/>
<circle cx="384.0" cy="80.7" r="1.3" fill="#2a8ad8"/>
<circle cx="386.5" cy="101.4" r="1.3" fill="#2a8ad8"/>
<circle cx="362.9" cy="114.2" r="1.3" fill="#2a8ad8"/>
<circle cx="391.4" cy="91.9" r="1.3" fill="#2a8ad8"/>
<circle cx="367.2" cy="119.8" r="1.3" fill="#2a8ad8"/>
<circle cx="406.8" cy="67.0" r="1.3" fill="#2a8ad8"/>
<circle cx="389.9" cy="70.5" r="1.3" fill="#2a8ad8"/>
<circle cx="387.7" cy="105.0" r="1.3" fill="#2a8ad8"/>
<circle cx="372.9" cy="102.0" r="1.3" fill="#2a8ad8"/>
<circle cx="383.2" cy="96.9" r="1.3" fill="#2a8ad8"/>
<circle cx="342.5" cy="110.5" r="1.3" fill="#2a8ad8"/>
<circle cx="361.2" cy="101.0" r="1.3" fill="#2a8ad8"/>
<circle cx="393.6" cy="92.1" r="1.3" fill="#2a8ad8"/>
<circle cx="339.6" cy="100.6" r="1.3" fill="#2a8ad8"/>
<circle cx="404.1" cy="88.8" r="1.3" fill="#2a8ad8"/>
<circle cx="347.9" cy="110.0" r="1.3" fill="#2a8ad8"/>
<circle cx="402.1" cy="94.1" r="1.3" fill="#2a8ad8"/>
<circle cx="367.4" cy="99.8" r="1.3" fill="#2a8ad8"/>
<circle cx="402.6" cy="83.2" r="1.3" fill="#2a8ad8"/>
<circle cx="388.6" cy="102.4" r="1.3" fill="#2a8ad8"/>
<circle cx="352.5" cy="115.3" r="1.3" fill="#2a8ad8"/>
<circle cx="412.8" cy="72.1" r="1.3" fill="#2a8ad8"/>
<circle cx="417.0" cy="75.3" r="1.3" fill="#2a8ad8"/>
<circle cx="384.3" cy="101.6" r="1.3" fill="#2a8ad8"/>
<circle cx="379.8" cy="96.5" r="1.3" fill="#2a8ad8"/>
<circle cx="382.3" cy="84.1" r="1.3" fill="#2a8ad8"/>
<circle cx="364.6" cy="119.3" r="1.3" fill="#2a8ad8"/>
<circle cx="409.6" cy="79.2" r="1.3" fill="#2a8ad8"/>
<circle cx="374.0" cy="84.0" r="1.3" fill="#2a8ad8"/>
<circle cx="384.6" cy="84.7" r="1.3" fill="#2a8ad8"/>
<circle cx="368.6" cy="98.3" r="1.3" fill="#2a8ad8"/>
<circle cx="372.2" cy="101.6" r="1.3" fill="#2a8ad8"/>
<circle cx="358.1" cy="111.7" r="1.3" fill="#2a8ad8"/>
<circle cx="413.0" cy="83.5" r="1.3" fill="#2a8ad8"/>
<circle cx="382.4" cy="101.0" r="1.3" fill="#2a8ad8"/>
<circle cx="406.7" cy="75.4" r="1.3" fill="#2a8ad8"/>
<circle cx="386.0" cy="97.6" r="1.3" fill="#2a8ad8"/>
<circle cx="370.7" cy="104.9" r="1.3" fill="#2a8ad8"/>
<circle cx="378.7" cy="110.1" r="1.3" fill="#2a8ad8"/>
<circle cx="373.6" cy="99.1" r="1.3" fill="#2a8ad8"/>
<circle cx="385.9" cy="103.4" r="1.3" fill="#2a8ad8"/>
<circle cx="377.6" cy="98.9" r="1.3" fill="#2a8ad8"/>
<circle cx="379.3" cy="84.1" r="1.3" fill="#2a8ad8"/>
<circle cx="355.9" cy="102.3" r="1.3" fill="#2a8ad8"/>
<circle cx="368.3" cy="95.2" r="1.3" fill="#2a8ad8"/>
<circle cx="421.6" cy="73.2" r="1.3" fill="#2a8ad8"/>
<circle cx="371.2" cy="99.0" r="1.3" fill="#2a8ad8"/>
<circle cx="362.9" cy="104.8" r="1.3" fill="#2a8ad8"/>
<circle cx="393.1" cy="93.5" r="1.3" fill="#2a8ad8"/>
<circle cx="416.2" cy="71.0" r="1.3" fill="#2a8ad8"/>
<circle cx="354.2" cy="119.6" r="1.3" fill="#2a8ad8"/>
<circle cx="381.2" cy="79.8" r="1.3" fill="#2a8ad8"/>
<circle cx="372.1" cy="98.9" r="1.3" fill="#2a8ad8"/>
<circle cx="347.6" cy="118.7" r="1.3" fill="#2a8ad8"/>
<circle cx="401.7" cy="91.7" r="1.3" fill="#2a8ad8"/>
<circle cx="385.2" cy="101.2" r="1.3" fill="#2a8ad8"/>
<circle cx="387.3" cy="90.7" r="1.3" fill="#2a8ad8"/>
<circle cx="369.5" cy="108.6" r="1.3" fill="#2a8ad8"/>
<circle cx="395.6" cy="75.7" r="1.3" fill="#2a8ad8"/>
<circle cx="374.1" cy="107.3" r="1.3" fill="#2a8ad8"/>
<circle cx="382.7" cy="107.3" r="1.3" fill="#2a8ad8"/>
<circle cx="361.7" cy="112.2" r="1.3" fill="#2a8ad8"/>
<circle cx="359.4" cy="108.8" r="1.3" fill="#2a8ad8"/>
<circle cx="414.7" cy="80.8" r="1.3" fill="#2a8ad8"/>
<circle cx="374.8" cy="85.9" r="1.3" fill="#2a8ad8"/>
<circle cx="392.1" cy="83.0" r="1.3" fill="#2a8ad8"/>
<circle cx="385.0" cy="108.8" r="1.3" fill="#2a8ad8"/>
<circle cx="376.2" cy="106.2" r="1.3" fill="#2a8ad8"/>
<circle cx="374.7" cy="77.7" r="1.3" fill="#2a8ad8"/>
<circle cx="399.4" cy="83.5" r="1.3" fill="#2a8ad8"/>
<circle cx="379.2" cy="96.0" r="1.3" fill="#2a8ad8"/>
<circle cx="382.5" cy="82.6" r="1.3" fill="#2a8ad8"/>
<circle cx="386.2" cy="108.9" r="1.3" fill="#2a8ad8"/>
<circle cx="411.2" cy="67.0" r="1.3" fill="#2a8ad8"/>
<circle cx="400.5" cy="85.0" r="1.3" fill="#2a8ad8"/>
<circle cx="394.0" cy="85.4" r="1.3" fill="#2a8ad8"/>
<circle cx="373.5" cy="91.5" r="1.3" fill="#2a8ad8"/>
<circle cx="355.8" cy="113.5" r="1.3" fill="#2a8ad8"/>
<circle cx="406.3" cy="96.2" r="1.3" fill="#2a8ad8"/>
<circle cx="406.7" cy="83.3" r="1.3" fill="#2a8ad8"/>
<circle cx="382.7" cy="105.4" r="1.3" fill="#2a8ad8"/>
<circle cx="397.5" cy="88.7" r="1.3" fill="#2a8ad8"/>
<circle cx="402.7" cy="84.6" r="1.3" fill="#2a8ad8"/>
<circle cx="403.8" cy="83.6" r="1.3" fill="#2a8ad8"/>
<circle cx="405.7" cy="94.1" r="1.3" fill="#2a8ad8"/>
<circle cx="375.9" cy="99.0" r="1.3" fill="#2a8ad8"/>
<circle cx="418.6" cy="80.5" r="1.3" fill="#2a8ad8"/>
<circle cx="358.7" cy="100.2" r="1.3" fill="#2a8ad8"/>
<circle cx="404.4" cy="72.9" r="1.3" fill="#2a8ad8"/>
<circle cx="396.5" cy="94.1" r="1.3" fill="#2a8ad8"/>
<circle cx="404.7" cy="94.2" r="1.3" fill="#2a8ad8"/>
<circle cx="426.5" cy="93.9" r="1.3" fill="#2a8ad8"/>
<circle cx="417.9" cy="89.5" r="1.3" fill="#2a8ad8"/>
<circle cx="360.9" cy="98.1" r="1.3" fill="#2a8ad8"/>
<circle cx="349.2" cy="108.9" r="1.3" fill="#2a8ad8"/>
<circle cx="403.5" cy="97.0" r="1.3" fill="#2a8ad8"/>
<circle cx="363.8" cy="107.2" r="1.3" fill="#2a8ad8"/>
<circle cx="385.5" cy="92.9" r="1.3" fill="#2a8ad8"/>
<circle cx="403.9" cy="79.3" r="1.3" fill="#2a8ad8"/>
<circle cx="350.1" cy="115.8" r="1.3" fill="#2a8ad8"/>
<circle cx="340.0" cy="116.4" r="1.3" fill="#2a8ad8"/>
<circle cx="391.4" cy="111.5" r="1.3" fill="#2a8ad8"/>
<circle cx="386.7" cy="105.9" r="1.3" fill="#2a8ad8"/>
<circle cx="380.4" cy="77.0" r="1.3" fill="#2a8ad8"/>
<circle cx="386.6" cy="94.0" r="1.3" fill="#2a8ad8"/>
<circle cx="367.1" cy="105.3" r="1.3" fill="#2a8ad8"/>
<circle cx="353.0" cy="105.2" r="1.3" fill="#2a8ad8"/>
<circle cx="382.1" cy="99.1" r="1.3" fill="#2a8ad8"/>
<circle cx="364.7" cy="111.8" r="1.3" fill="#2a8ad8"/>
<circle cx="350.1" cy="109.7" r="1.3" fill="#2a8ad8"/>
<circle cx="396.7" cy="88.4" r="1.3" fill="#2a8ad8"/>
<circle cx="384.4" cy="94.7" r="1.3" fill="#2a8ad8"/>
<circle cx="394.6" cy="110.8" r="1.3" fill="#2a8ad8"/>
<circle cx="364.3" cy="104.4" r="1.3" fill="#2a8ad8"/>
<circle cx="371.5" cy="109.3" r="1.3" fill="#2a8ad8"/>
<circle cx="364.1" cy="109.1" r="1.3" fill="#2a8ad8"/>
<circle cx="366.5" cy="99.1" r="1.3" fill="#2a8ad8"/>
<circle cx="390.0" cy="84.0" r="1.3" fill="#2a8ad8"/>
<circle cx="368.8" cy="90.5" r="1.3" fill="#2a8ad8"/>
<circle cx="393.5" cy="95.4" r="1.3" fill="#2a8ad8"/>
<circle cx="393.1" cy="79.3" r="1.3" fill="#2a8ad8"/>
<circle cx="429.6" cy="60.3" r="1.3" fill="#2a8ad8"/>
<circle cx="355.6" cy="93.6" r="1.3" fill="#2a8ad8"/>
<circle cx="405.0" cy="68.7" r="1.3" fill="#2a8ad8"/>
<circle cx="383.8" cy="95.7" r="1.3" fill="#2a8ad8"/>
<circle cx="385.4" cy="95.3" r="1.3" fill="#2a8ad8"/>
<circle cx="354.3" cy="97.7" r="1.3" fill="#2a8ad8"/>
<circle cx="375.8" cy="113.3" r="1.3" fill="#2a8ad8"/>
<circle cx="401.9" cy="83.6" r="1.3" fill="#2a8ad8"/>
<circle cx="384.0" cy="100.1" r="1.3" fill="#2a8ad8"/>
<circle cx="387.5" cy="96.6" r="1.3" fill="#2a8ad8"/>
<circle cx="379.5" cy="115.9" r="1.3" fill="#2a8ad8"/>
<circle cx="410.8" cy="92.3" r="1.3" fill="#2a8ad8"/>
<circle cx="385.3" cy="93.6" r="1.3" fill="#2a8ad8"/>
<circle cx="338.1" cy="104.2" r="1.3" fill="#2a8ad8"/>
<circle cx="370.8" cy="88.5" r="1.3" fill="#2a8ad8"/>
<circle cx="343.1" cy="113.0" r="1.3" fill="#2a8ad8"/>
<circle cx="315.3" cy="126.6" r="1.3" fill="#2a8ad8"/>
<circle cx="374.3" cy="107.8" r="1.3" fill="#2a8ad8"/>
<circle cx="414.6" cy="75.8" r="1.3" fill="#2a8ad8"/>
<circle cx="386.8" cy="95.6" r="1.3" fill="#2a8ad8"/>
<circle cx="360.3" cy="97.5" r="1.3" fill="#2a8ad8"/>
<circle cx="365.4" cy="82.2" r="1.3" fill="#2a8ad8"/>
<circle cx="410.2" cy="82.7" r="1.3" fill="#2a8ad8"/>
<circle cx="389.2" cy="108.8" r="1.3" fill="#2a8ad8"/>
<circle cx="386.8" cy="102.6" r="1.3" fill="#2a8ad8"/>
<circle cx="384.6" cy="110.4" r="1.3" fill="#2a8ad8"/>
<circle cx="386.6" cy="106.5" r="1.3" fill="#2a8ad8"/>
<circle cx="403.2" cy="70.5" r="1.3" fill="#2a8ad8"/>
<circle cx="397.7" cy="85.3" r="1.3" fill="#2a8ad8"/>
<circle cx="390.4" cy="108.5" r="1.3" fill="#2a8ad8"/>
<circle cx="363.2" cy="95.7" r="1.3" fill="#2a8ad8"/>
<circle cx="396.8" cy="73.8" r="1.3" fill="#2a8ad8"/>
<circle cx="370.9" cy="103.9" r="1.3" fill="#2a8ad8"/>
<circle cx="409.5" cy="90.4" r="1.3" fill="#2a8ad8"/>
<circle cx="358.2" cy="109.3" r="1.3" fill="#2a8ad8"/>
<circle cx="382.8" cy="91.3" r="1.3" fill="#2a8ad8"/>
<circle cx="385.6" cy="85.9" r="1.3" fill="#2a8ad8"/>
<circle cx="357.0" cy="92.4" r="1.3" fill="#2a8ad8"/>
<circle cx="423.1" cy="62.7" r="1.3" fill="#2a8ad8"/>
<circle cx="417.4" cy="65.6" r="1.3" fill="#2a8ad8"/>
<circle cx="375.7" cy="82.1" r="1.3" fill="#2a8ad8"/>
<circle cx="402.5" cy="78.2" r="1.3" fill="#2a8ad8"/>
<circle cx="394.0" cy="107.1" r="1.3" fill="#2a8ad8"/>
<circle cx="329.1" cy="119.8" r="1.3" fill="#2a8ad8"/>
<circle cx="391.2" cy="87.2" r="1.3" fill="#2a8ad8"/>
<circle cx="384.4" cy="98.2" r="1.3" fill="#2a8ad8"/>
<circle cx="387.6" cy="82.0" r="1.3" fill="#2a8ad8"/>
<circle cx="362.4" cy="107.7" r="1.3" fill="#2a8ad8"/>
<circle cx="379.9" cy="106.4" r="1.3" fill="#2a8ad8"/>
<circle cx="381.9" cy="78.4" r="1.3" fill="#2a8ad8"/>
<circle cx="411.5" cy="74.1" r="1.3" fill="#2a8ad8"/>
<circle cx="393.0" cy="87.5" r="1.3" fill="#2a8ad8"/>
<circle cx="385.6" cy="82.6" r="1.3" fill="#2a8ad8"/>
<circle cx="418.9" cy="66.3" r="1.3" fill="#2a8ad8"/>
<circle cx="373.7" cy="94.6" r="1.3" fill="#2a8ad8"/>
<circle cx="377.3" cy="100.9" r="1.3" fill="#2a8ad8"/>
<circle cx="346.4" cy="118.4" r="1.3" fill="#2a8ad8"/>
<circle cx="419.7" cy="83.3" r="1.3" fill="#2a8ad8"/>
<circle cx="406.6" cy="95.2" r="1.3" fill="#2a8ad8"/>
<circle cx="405.6" cy="82.1" r="1.3" fill="#2a8ad8"/>
<circle cx="400.2" cy="73.1" r="1.3" fill="#2a8ad8"/>
<circle cx="388.1" cy="97.7" r="1.3" fill="#2a8ad8"/>
<circle cx="390.4" cy="104.1" r="1.3" fill="#2a8ad8"/>
<circle cx="380.3" cy="103.5" r="1.3" fill="#2a8ad8"/>
<circle cx="381.3" cy="100.3" r="1.3" fill="#2a8ad8"/>
<circle cx="386.9" cy="106.8" r="1.3" fill="#2a8ad8"/>
<circle cx="418.5" cy="75.9" r="1.3" fill="#2a8ad8"/>
<circle cx="397.8" cy="83.0" r="1.3" fill="#2a8ad8"/>
<circle cx="384.5" cy="101.8" r="1.3" fill="#2a8ad8"/>
<circle cx="373.2" cy="89.7" r="1.3" fill="#2a8ad8"/>
<circle cx="372.0" cy="104.9" r="1.3" fill="#2a8ad8"/>
<circle cx="420.5" cy="88.3" r="1.3" fill="#2a8ad8"/>
<circle cx="396.7" cy="86.3" r="1.3" fill="#2a8ad8"/>
<circle cx="387.2" cy="83.7" r="1.3" fill="#2a8ad8"/>
<circle cx="378.3" cy="103.8" r="1.3" fill="#2a8ad8"/>
<circle cx="361.7" cy="100.1" r="1.3" fill="#2a8ad8"/>
<circle cx="384.3" cy="94.9" r="1.3" fill="#2a8ad8"/>
<circle cx="404.7" cy="89.2" r="1.3" fill="#2a8ad8"/>
<circle cx="377.2" cy="105.1" r="1.3" fill="#2a8ad8"/>
<circle cx="380.8" cy="79.5" r="1.3" fill="#2a8ad8"/>
<circle cx="381.0" cy="95.9" r="1.3" fill="#2a8ad8"/>
<circle cx="388.1" cy="93.6" r="1.3" fill="#2a8ad8"/>
<circle cx="351.2" cy="100.2" r="1.3" fill="#2a8ad8"/>
<circle cx="380.7" cy="85.2" r="1.3" fill="#2a8ad8"/>
<circle cx="367.2" cy="86.9" r="1.3" fill="#2a8ad8"/>
<circle cx="404.9" cy="80.9" r="1.3" fill="#2a8ad8"/>
<circle cx="369.1" cy="107.5" r="1.3" fill="#2a8ad8"/>
<circle cx="398.3" cy="93.8" r="1.3" fill="#2a8ad8"/>
<circle cx="418.8" cy="72.7" r="1.3" fill="#2a8ad8"/>
<circle cx="379.0" cy="89.6" r="1.3" fill="#2a8ad8"/>
<circle cx="372.7" cy="83.0" r="1.3" fill="#2a8ad8"/>
<circle cx="389.9" cy="86.6" r="1.3" fill="#2a8ad8"/>
<circle cx="385.7" cy="81.1" r="1.3" fill="#2a8ad8"/>
<circle cx="364.2" cy="85.4" r="1.3" fill="#2a8ad8"/>
<circle cx="395.7" cy="86.9" r="1.3" fill="#2a8ad8"/>
<circle cx="429.4" cy="90.8" r="1.3" fill="#2a8ad8"/>
<circle cx="380.2" cy="109.2" r="1.3" fill="#2a8ad8"/>
<circle cx="381.4" cy="111.6" r="1.3" fill="#2a8ad8"/>
<circle cx="363.1" cy="85.0" r="1.3" fill="#2a8ad8"/>
<circle cx="392.7" cy="99.8" r="1.3" fill="#2a8ad8"/>
<circle cx="358.7" cy="91.1" r="1.3" fill="#2a8ad8"/>
<circle cx="361.8" cy="97.1" r="1.3" fill="#2a8ad8"/>
<circle cx="413.5" cy="61.2" r="1.3" fill="#2a8ad8"/>
<circle cx="366.1" cy="90.4" r="1.3" fill="#2a8ad8"/>
<circle cx="409.2" cy="84.0" r="1.3" fill="#2a8ad8"/>
<circle cx="418.8" cy="80.8" r="1.3" fill="#2a8ad8"/>
<circle cx="391.4" cy="89.7" r="1.3" fill="#2a8ad8"/>
<circle cx="397.7" cy="85.9" r="1.3" fill="#2a8ad8"/>
<circle cx="428.1" cy="80.5" r="1.3" fill="#2a8ad8"/>
<circle cx="381.5" cy="95.5" r="1.3" fill="#2a8ad8"/>
<circle cx="372.9" cy="80.5" r="1.3" fill="#2a8ad8"/>
<circle cx="356.4" cy="125.7" r="1.3" fill="#2a8ad8"/>
<circle cx="386.7" cy="89.8" r="1.3" fill="#2a8ad8"/>
<circle cx="417.8" cy="89.3" r="1.3" fill="#2a8ad8"/>
<circle cx="406.5" cy="81.8" r="1.3" fill="#2a8ad8"/>
<circle cx="365.3" cy="92.6" r="1.3" fill="#2a8ad8"/>
<circle cx="367.2" cy="102.1" r="1.3" fill="#2a8ad8"/>
<circle cx="374.8" cy="89.2" r="1.3" fill="#2a8ad8"/>
<circle cx="392.1" cy="108.6" r="1.3" fill="#2a8ad8"/>
<circle cx="381.3" cy="82.5" r="1.3" fill="#2a8ad8"/>
<circle cx="390.4" cy="98.0" r="1.3" fill="#2a8ad8"/>
<circle cx="392.2" cy="83.2" r="1.3" fill="#2a8ad8"/>
<circle cx="379.3" cy="94.0" r="1.3" fill="#2a8ad8"/>
<circle cx="384.9" cy="102.1" r="1.3" fill="#2a8ad8"/>
<circle cx="390.2" cy="99.9" r="1.3" fill="#2a8ad8"/>
<circle cx="383.9" cy="91.5" r="1.3" fill="#2a8ad8"/>
<circle cx="396.7" cy="70.6" r="1.3" fill="#2a8ad8"/>
<circle cx="426.3" cy="71.9" r="1.3" fill="#2a8ad8"/>
<circle cx="398.6" cy="84.5" r="1.3" fill="#2a8ad8"/>
<circle cx="387.0" cy="108.8" r="1.3" fill="#2a8ad8"/>
<circle cx="349.2" cy="93.0" r="1.3" fill="#2a8ad8"/>
<circle cx="394.2" cy="68.8" r="1.3" fill="#2a8ad8"/>
<circle cx="343.6" cy="111.6" r="1.3" fill="#2a8ad8"/>
<circle cx="355.2" cy="109.3" r="1.3" fill="#2a8ad8"/>
<circle cx="404.3" cy="103.5" r="1.3" fill="#2a8ad8"/>
<circle cx="401.1" cy="76.3" r="1.3" fill="#2a8ad8"/>
<circle cx="382.5" cy="88.6" r="1.3" fill="#2a8ad8"/>
<circle cx="348.7" cy="101.4" r="1.3" fill="#2a8ad8"/>
<circle cx="377.7" cy="82.3" r="1.3" fill="#2a8ad8"/>
<circle cx="371.0" cy="93.5" r="1.3" fill="#2a8ad8"/>
<circle cx="399.5" cy="98.3" r="1.3" fill="#2a8ad8"/>
<circle cx="434.7" cy="56.2" r="1.3" fill="#2a8ad8"/>
<circle cx="390.5" cy="105.2" r="1.3" fill="#2a8ad8"/>
<circle cx="368.9" cy="103.1" r="1.3" fill="#2a8ad8"/>
<circle cx="360.4" cy="101.3" r="1.3" fill="#2a8ad8"/>
<circle cx="384.5" cy="83.6" r="1.3" fill="#2a8ad8"/>
<circle cx="381.9" cy="90.1" r="1.3" fill="#2a8ad8"/>
<circle cx="360.8" cy="99.8" r="1.3" fill="#2a8ad8"/>
<circle cx="388.3" cy="100.8" r="1.3" fill="#2a8ad8"/>
<circle cx="360.8" cy="119.0" r="1.3" fill="#2a8ad8"/>
<circle cx="409.8" cy="81.8" r="1.3" fill="#2a8ad8"/>
<circle cx="408.8" cy="91.1" r="1.3" fill="#2a8ad8"/>
<circle cx="409.3" cy="97.7" r="1.3" fill="#2a8ad8"/>
<circle cx="375.5" cy="112.2" r="1.3" fill="#2a8ad8"/>
<circle cx="396.9" cy="93.9" r="1.3" fill="#2a8ad8"/>
<circle cx="382.9" cy="115.7" r="1.3" fill="#2a8ad8"/>
<circle cx="377.3" cy="112.4" r="1.3" fill="#2a8ad8"/>
<circle cx="378.4" cy="115.2" r="1.3" fill="#2a8ad8"/>
<circle cx="357.6" cy="103.6" r="1.3" fill="#2a8ad8"/>
<circle cx="354.5" cy="102.4" r="1.3" fill="#2a8ad8"/>
<circle cx="403.0" cy="68.2" r="1.3" fill="#2a8ad8"/>
<circle cx="381.6" cy="112.2" r="1.3" fill="#2a8ad8"/>
<circle cx="390.4" cy="98.9" r="1.3" fill="#2a8ad8"/>
<circle cx="407.5" cy="73.1" r="1.3" fill="#2a8ad8"/>
<circle cx="348.2" cy="112.3" r="1.3" fill="#2a8ad8"/>
<circle cx="368.8" cy="104.5" r="1.3" fill="#2a8ad8"/>
<circle cx="389.5" cy="71.9" r="1.3" fill="#2a8ad8"/>
<circle cx="394.2" cy="93.3" r="1.3" fill="#2a8ad8"/>
<circle cx="377.6" cy="110.1" r="1.3" fill="#2a8ad8"/>
<circle cx="408.1" cy="98.4" r="1.3" fill="#2a8ad8"/>
<circle cx="390.3" cy="87.3" r="1.3" fill="#2a8ad8"/>
<circle cx="359.5" cy="101.4" r="1.3" fill="#2a8ad8"/>
<circle cx="365.6" cy="117.8" r="1.3" fill="#2a8ad8"/>
<circle cx="403.2" cy="96.7" r="1.3" fill="#2a8ad8"/>
<circle cx="395.8" cy="82.6" r="1.3" fill="#2a8ad8"/>
<circle cx="344.6" cy="104.8" r="1.3" fill="#2a8ad8"/>
<circle cx="415.0" cy="87.6" r="1.3" fill="#2a8ad8"/>
<circle cx="398.7" cy="80.3" r="1.3" fill="#2a8ad8"/>
<circle cx="414.9" cy="73.7" r="1.3" fill="#2a8ad8"/>
<circle cx="377.4" cy="117.3" r="1.3" fill="#2a8ad8"/>
<circle cx="379.3" cy="99.6" r="1.3" fill="#2a8ad8"/>
<circle cx="361.3" cy="99.3" r="1.3" fill="#2a8ad8"/>
<circle cx="440.7" cy="75.4" r="1.3" fill="#2a8ad8"/>
<circle cx="381.9" cy="117.0" r="1.3" fill="#2a8ad8"/>
<circle cx="420.1" cy="81.2" r="1.3" fill="#2a8ad8"/>
<circle cx="371.7" cy="90.8" r="1.3" fill="#2a8ad8"/>
<circle cx="389.3" cy="73.5" r="1.3" fill="#2a8ad8"/>
<circle cx="349.5" cy="110.6" r="1.3" fill="#2a8ad8"/>
<circle cx="377.5" cy="101.7" r="1.3" fill="#2a8ad8"/>
<circle cx="407.1" cy="96.6" r="1.3" fill="#2a8ad8"/>
<circle cx="358.6" cy="94.3" r="1.3" fill="#2a8ad8"/>
<circle cx="409.0" cy="68.7" r="1.3" fill="#2a8ad8"/>
<circle cx="393.1" cy="78.7" r="1.3" fill="#2a8ad8"/>
<circle cx="363.1" cy="101.5" r="1.3" fill="#2a8ad8"/>
<circle cx="374.9" cy="111.3" r="1.3" fill="#2a8ad8"/>
<circle cx="375.8" cy="90.4" r="1.3" fill="#2a8ad8"/>
<circle cx="384.7" cy="101.9" r="1.3" fill="#2a8ad8"/>
<circle cx="374.1" cy="92.7" r="1.3" fill="#2a8ad8"/>
<circle cx="367.8" cy="112.0" r="1.3" fill="#2a8ad8"/>
<circle cx="379.2" cy="88.0" r="1.3" fill="#2a8ad8"/>
<circle cx="363.5" cy="82.2" r="1.3" fill="#2a8ad8"/>
<circle cx="357.8" cy="116.0" r="1.3" fill="#2a8ad8"/>
<circle cx="384.7" cy="76.9" r="1.3" fill="#2a8ad8"/>
<circle cx="404.9" cy="66.5" r="1.3" fill="#2a8ad8"/>
<circle cx="352.6" cy="90.1" r="1.3" fill="#2a8ad8"/>
<circle cx="385.8" cy="93.4" r="1.3" fill="#2a8ad8"/>
<circle cx="371.7" cy="113.2" r="1.3" fill="#2a8ad8"/>
<circle cx="364.6" cy="104.6" r="1.3" fill="#2a8ad8"/>
<circle cx="404.2" cy="86.7" r="1.3" fill="#2a8ad8"/>
<circle cx="374.5" cy="117.7" r="1.3" fill="#2a8ad8"/>
<circle cx="418.2" cy="77.7" r="1.3" fill="#2a8ad8"/>
<circle cx="368.9" cy="112.0" r="1.3" fill="#2a8ad8"/>
<circle cx="394.1" cy="91.4" r="1.3" fill="#2a8ad8"/>
<circle cx="380.8" cy="96.6" r="1.3" fill="#2a8ad8"/>
<circle cx="369.4" cy="78.3" r="1.3" fill="#2a8ad8"/>
<circle cx="398.5" cy="72.7" r="1.3" fill="#2a8ad8"/>
<circle cx="382.4" cy="95.2" r="1.3" fill="#2a8ad8"/>
<circle cx="398.8" cy="73.5" r="1.3" fill="#2a8ad8"/>
<circle cx="384.7" cy="102.6" r="1.3" fill="#2a8ad8"/>
<circle cx="362.2" cy="107.5" r="1.3" fill="#2a8ad8"/>
<circle cx="383.5" cy="83.7" r="1.3" fill="#2a8ad8"/>
<circle cx="386.9" cy="106.9" r="1.3" fill="#2a8ad8"/>
<circle cx="406.5" cy="87.2" r="1.3" fill="#2a8ad8"/>
<circle cx="366.1" cy="117.0" r="1.3" fill="#2a8ad8"/>
<circle cx="384.9" cy="92.2" r="1.3" fill="#2a8ad8"/>
<circle cx="348.4" cy="91.1" r="1.3" fill="#2a8ad8"/>
<circle cx="399.9" cy="95.5" r="1.3" fill="#2a8ad8"/>
<circle cx="362.3" cy="101.0" r="1.3" fill="#2a8ad8"/>
<circle cx="346.6" cy="120.8" r="1.3" fill="#2a8ad8"/>
<circle cx="384.5" cy="106.9" r="1.3" fill="#2a8ad8"/>
<circle cx="409.7" cy="96.7" r="1.3" fill="#2a8ad8"/>
<circle cx="352.7" cy="91.2" r="1.3" fill="#2a8ad8"/>
<circle cx="362.2" cy="115.6" r="1.3" fill="#2a8ad8"/>
<circle cx="369.6" cy="94.8" r="1.3" fill="#2a8ad8"/>
<circle cx="361.3" cy="112.3" r="1.3" fill="#2a8ad8"/>
<circle cx="394.0" cy="81.5" r="1.3" fill="#2a8ad8"/>
<circle cx="368.3" cy="104.8" r="1.3" fill="#2a8ad8"/>
<circle cx="370.1" cy="91.0" r="1.3" fill="#2a8ad8"/>
<circle cx="398.4" cy="84.2" r="1.3" fill="#2a8ad8"/>
<circle cx="369.4" cy="97.3" r="1.3" fill="#2a8ad8"/>
<circle cx="395.1" cy="82.1" r="1.3" fill="#2a8ad8"/>
<circle cx="364.7" cy="109.2" r="1.3" fill="#2a8ad8"/>
<circle cx="359.5" cy="109.5" r="1.3" fill="#2a8ad8"/>
<circle cx="346.0" cy="130.6" r="1.3" fill="#2a8ad8"/>
<circle cx="426.1" cy="80.3" r="1.3" fill="#2a8ad8"/>
<circle cx="378.8" cy="112.6" r="1.3" fill="#2a8ad8"/>
<circle cx="391.0" cy="92.5" r="1.3" fill="#2a8ad8"/>
<circle cx="385.1" cy="104.5" r="1.3" fill="#2a8ad8"/>
<circle cx="389.2" cy="90.5" r="1.3" fill="#2a8ad8"/>
<circle cx="386.8" cy="87.5" r="1.3" fill="#2a8ad8"/>
<circle cx="427.1" cy="91.1" r="1.3" fill="#2a8ad8"/>
<circle cx="363.2" cy="112.5" r="1.3" fill="#2a8ad8"/>
<circle cx="352.0" cy="119.0" r="1.3" fill="#2a8ad8"/>
<circle cx="363.8" cy="94.4" r="1.3" fill="#2a8ad8"/>
<circle cx="356.8" cy="86.5" r="1.3" fill="#2a8ad8"/>
<circle cx="401.9" cy="76.3" r="1.3" fill="#2a8ad8"/>
<circle cx="403.5" cy="89.3" r="1.3" fill="#2a8ad8"/>
<circle cx="364.9" cy="85.7" r="1.3" fill="#2a8ad8"/>
<circle cx="355.6" cy="123.9" r="1.3" fill="#2a8ad8"/>
<circle cx="378.1" cy="79.4" r="1.3" fill="#2a8ad8"/>
<circle cx="415.9" cy="87.3" r="1.3" fill="#2a8ad8"/>
<circle cx="324.7" cy="112.3" r="1.3" fill="#2a8ad8"/>
<circle cx="397.2" cy="87.0" r="1.3" fill="#2a8ad8"/>
<circle cx="362.4" cy="85.5" r="1.3" fill="#2a8ad8"/>
<circle cx="408.3" cy="95.0" r="1.3" fill="#2a8ad8"/>
<circle cx="362.4" cy="101.6" r="1.3" fill="#2a8ad8"/>
<circle cx="379.6" cy="98.4" r="1.3" fill="#2a8ad8"/>
<circle cx="353.1" cy="106.5" r="1.3" fill="#2a8ad8"/>
<circle cx="364.6" cy="119.6" r="1.3" fill="#2a8ad8"/>
<circle cx="415.8" cy="87.7" r="1.3" fill="#2a8ad8"/>
<circle cx="403.5" cy="79.9" r="1.3" fill="#2a8ad8"/>
<circle cx="377.0" cy="94.5" r="1.3" fill="#2a8ad8"/>
<circle cx="366.9" cy="87.8" r="1.3" fill="#2a8ad8"/>
<circle cx="344.7" cy="110.5" r="1.3" fill="#2a8ad8"/>
<circle cx="377.2" cy="98.8" r="1.3" fill="#2a8ad8"/>
<circle cx="385.1" cy="101.7" r="1.3" fill="#2a8ad8"/>
<circle cx="383.9" cy="91.0" r="1.3" fill="#2a8ad8"/>
<circle cx="383.7" cy="116.0" r="1.3" fill="#2a8ad8"/>
<circle cx="361.4" cy="118.3" r="1.3" fill="#2a8ad8"/>
<circle cx="384.3" cy="78.6" r="1.3" fill="#2a8ad8"/>
<circle cx="384.9" cy="104.4" r="1.3" fill="#2a8ad8"/>
<circle cx="413.7" cy="74.7" r="1.3" fill="#2a8ad8"/>
<circle cx="426.2" cy="75.9" r="1.3" fill="#2a8ad8"/>
<circle cx="382.8" cy="106.5" r="1.3" fill="#2a8ad8"/>
<circle cx="369.1" cy="104.5" r="1.3" fill="#2a8ad8"/>
<circle cx="384.3" cy="99.7" r="1.3" fill="#2a8ad8"/>
<circle cx="372.6" cy="104.6" r="1.3" fill="#2a8ad8"/>
<circle cx="369.7" cy="91.7" r="1.3" fill="#2a8ad8"/>
<circle cx="384.5" cy="86.3" r="1.3" fill="#2a8ad8"/>
<circle cx="363.1" cy="109.8" r="1.3" fill="#2a8ad8"/>
<circle cx="398.9" cy="97.7" r="1.3" fill="#2a8ad8"/>
<circle cx="383.5" cy="91.0" r="1.3" fill="#2a8ad8"/>
<circle cx="391.2" cy="91.9" r="1.3" fill="#2a8ad8"/>
<circle cx="381.8" cy="83.2" r="1.3" fill="#2a8ad8"/>
<circle cx="370.0" cy="95.9" r="1.3" fill="#2a8ad8"/>
<circle cx="365.2" cy="92.7" r="1.3" fill="#2a8ad8"/>
<circle cx="380.6" cy="95.9" r="1.3" fill="#2a8ad8"/>
<circle cx="373.9" cy="100.4" r="1.3" fill="#2a8ad8"/>
<circle cx="390.8" cy="100.7" r="1.3" fill="#2a8ad8"/>
<circle cx="385.7" cy="103.6" r="1.3" fill="#2a8ad8"/>
<circle cx="356.2" cy="117.8" r="1.3" fill="#2a8ad8"/>
<circle cx="387.2" cy="97.1" r="1.3" fill="#2a8ad8"/>
<circle cx="356.7" cy="111.0" r="1.3" fill="#2a8ad8"/>
<circle cx="372.4" cy="90.6" r="1.3" fill="#2a8ad8"/>
<circle cx="379.4" cy="100.6" r="1.3" fill="#2a8ad8"/>
<circle cx="340.8" cy="115.4" r="1.3" fill="#2a8ad8"/>
<circle cx="387.7" cy="106.3" r="1.3" fill="#2a8ad8"/>
<circle cx="389.0" cy="72.9" r="1.3" fill="#2a8ad8"/>
<circle cx="382.3" cy="88.9" r="1.3" fill="#2a8ad8"/>
<circle cx="376.6" cy="76.8" r="1.3" fill="#2a8ad8"/>
<circle cx="377.7" cy="87.7" r="1.3" fill="#2a8ad8"/>
<circle cx="364.6" cy="85.5" r="1.3" fill="#2a8ad8"/>
<circle cx="379.9" cy="98.6" r="1.3" fill="#2a8ad8"/>
<circle cx="373.8" cy="90.3" r="1.3" fill="#2a8ad8"/>
<circle cx="387.7" cy="95.1" r="1.3" fill="#2a8ad8"/>
<circle cx="359.7" cy="118.8" r="1.3" fill="#2a8ad8"/>
<circle cx="390.9" cy="77.5" r="1.3" fill="#2a8ad8"/>
<circle cx="388.9" cy="72.4" r="1.3" fill="#2a8ad8"/>
<circle cx="382.7" cy="89.7" r="1.3" fill="#2a8ad8"/>
<circle cx="376.2" cy="88.7" r="1.3" fill="#2a8ad8"/>
<circle cx="397.7" cy="73.2" r="1.3" fill="#2a8ad8"/>
<circle cx="349.7" cy="116.9" r="1.3" fill="#2a8ad8"/>
<circle cx="395.7" cy="84.0" r="1.3" fill="#2a8ad8"/>
<circle cx="391.0" cy="101.0" r="1.3" fill="#2a8ad8"/>
<circle cx="391.9" cy="98.4" r="1.3" fill="#2a8ad8"/>
<circle cx="394.1" cy="96.7" r="1.3" fill="#2a8ad8"/>
<circle cx="371.6" cy="101.2" r="1.3" fill="#2a8ad8"/>
<circle cx="380.1" cy="94.0" r="1.3" fill="#2a8ad8"/>
<circle cx="399.6" cy="81.8" r="1.3" fill="#2a8ad8"/>
<circle cx="395.1" cy="105.7" r="1.3" fill="#2a8ad8"/>
<circle cx="390.2" cy="109.0" r="1.3" fill="#2a8ad8"/>
<circle cx="352.9" cy="94.2" r="1.3" fill="#2a8ad8"/>
<circle cx="397.4" cy="79.5" r="1.3" fill="#2a8ad8"/>
<circle cx="411.1" cy="86.1" r="1.3" fill="#2a8ad8"/>
<circle cx="407.6" cy="84.5" r="1.3" fill="#2a8ad8"/>
<circle cx="390.8" cy="84.5" r="1.3" fill="#2a8ad8"/>
<circle cx="352.0" cy="103.3" r="1.3" fill="#2a8ad8"/>
<circle cx="406.2" cy="103.8" r="1.3" fill="#2a8ad8"/>
<circle cx="382.6" cy="85.9" r="1.3" fill="#2a8ad8"/>
<circle cx="330.9" cy="110.7" r="1.3" fill="#2a8ad8"/>
<circle cx="393.9" cy="111.2" r="1.3" fill="#2a8ad8"/>
<circle cx="353.4" cy="95.9" r="1.3" fill="#2a8ad8"/>
<circle cx="357.7" cy="101.3" r="1.3" fill="#2a8ad8"/>
<circle cx="372.0" cy="100.6" r="1.3" fill="#2a8ad8"/>
<circle cx="413.3" cy="64.8" r="1.3" fill="#2a8ad8"/>
<circle cx="377.7" cy="110.7" r="1.3" fill="#2a8ad8"/>
<circle cx="391.6" cy="88.7" r="1.3" fill="#2a8ad8"/>
<circle cx="423.6" cy="59.2" r="1.3" fill="#2a8ad8"/>
<circle cx="420.3" cy="80.2" r="1.3" fill="#2a8ad8"/>
<circle cx="383.5" cy="99.1" r="1.3" fill="#2a8ad8"/>
<circle cx="380.5" cy="94.2" r="1.3" fill="#2a8ad8"/>
<circle cx="358.4" cy="110.5" r="1.3" fill="#2a8ad8"/>
<circle cx="370.7" cy="81.7" r="1.3" fill="#2a8ad8"/>
<circle cx="395.0" cy="99.8" r="1.3" fill="#2a8ad8"/>
<circle cx="394.3" cy="79.1" r="1.3" fill="#2a8ad8"/>
<circle cx="388.1" cy="106.9" r="1.3" fill="#2a8ad8"/>
<circle cx="407.3" cy="75.7" r="1.3" fill="#2a8ad8"/>
<circle cx="369.0" cy="101.9" r="1.3" fill="#2a8ad8"/>
<circle cx="384.5" cy="90.4" r="1.3" fill="#2a8ad8"/>
<circle cx="401.6" cy="86.2" r="1.3" fill="#2a8ad8"/>
<circle cx="398.4" cy="100.1" r="1.3" fill="#2a8ad8"/>
<circle cx="409.0" cy="88.1" r="1.3" fill="#2a8ad8"/>
<circle cx="394.4" cy="71.3" r="1.3" fill="#2a8ad8"/>
<circle cx="379.0" cy="109.3" r="1.3" fill="#2a8ad8"/>
<circle cx="393.6" cy="102.2" r="1.3" fill="#2a8ad8"/>
<circle cx="364.0" cy="85.9" r="1.3" fill="#2a8ad8"/>
<circle cx="350.2" cy="107.6" r="1.3" fill="#2a8ad8"/>
<circle cx="398.3" cy="69.5" r="1.3" fill="#2a8ad8"/>
<circle cx="384.6" cy="89.9" r="1.3" fill="#2a8ad8"/>
<circle cx="392.4" cy="100.6" r="1.3" fill="#2a8ad8"/>
<circle cx="349.0" cy="110.3" r="1.3" fill="#2a8ad8"/>
<circle cx="377.8" cy="82.2" r="1.3" fill="#2a8ad8"/>
<circle cx="372.8" cy="87.9" r="1.3" fill="#2a8ad8"/>
<circle cx="367.0" cy="101.5" r="1.3" fill="#2a8ad8"/>
<circle cx="336.9" cy="114.3" r="1.3" fill="#2a8ad8"/>
<circle cx="378.5" cy="97.7" r="1.3" fill="#2a8ad8"/>
<circle cx="405.2" cy="91.4" r="1.3" fill="#2a8ad8"/>
<circle cx="394.0" cy="66.8" r="1.3" fill="#2a8ad8"/>
<circle cx="372.7" cy="98.9" r="1.3" fill="#2a8ad8"/>
<circle cx="385.4" cy="106.6" r="1.3" fill="#2a8ad8"/>
<circle cx="402.1" cy="91.5" r="1.3" fill="#2a8ad8"/>
<circle cx="325.9" cy="111.2" r="1.3" fill="#2a8ad8"/>
<circle cx="383.1" cy="86.8" r="1.3" fill="#2a8ad8"/>
<circle cx="397.5" cy="89.6" r="1.3" fill="#2a8ad8"/>
<circle cx="400.5" cy="94.5" r="1.3" fill="#2a8ad8"/>
<circle cx="422.6" cy="76.6" r="1.3" fill="#2a8ad8"/>
<circle cx="410.3" cy="102.0" r="1.3" fill="#2a8ad8"/>
<circle cx="392.5" cy="105.5" r="1.3" fill="#2a8ad8"/>
<circle cx="392.3" cy="80.9" r="1.3" fill="#2a8ad8"/>
<circle cx="402.8" cy="91.3" r="1.3" fill="#2a8ad8"/>
<circle cx="374.1" cy="94.0" r="1.3" fill="#2a8ad8"/>
<circle cx="384.9" cy="79.2" r="1.3" fill="#2a8ad8"/>
<circle cx="405.4" cy="76.8" r="1.3" fill="#2a8ad8"/>
<circle cx="428.2" cy="74.1" r="1.3" fill="#2a8ad8"/>
<circle cx="382.3" cy="96.5" r="1.3" fill="#2a8ad8"/>
<circle cx="384.7" cy="85.8" r="1.3" fill="#2a8ad8"/>
<circle cx="390.1" cy="95.5" r="1.3" fill="#2a8ad8"/>
<circle cx="414.9" cy="71.7" r="1.3" fill="#2a8ad8"/>
<circle cx="385.1" cy="88.7" r="1.3" fill="#2a8ad8"/>
<circle cx="417.6" cy="89.1" r="1.3" fill="#2a8ad8"/>
<circle cx="364.8" cy="101.6" r="1.3" fill="#2a8ad8"/>
<circle cx="381.7" cy="96.9" r="1.3" fill="#2a8ad8"/>
<circle cx="381.5" cy="83.8" r="1.3" fill="#2a8ad8"/>
<circle cx="402.8" cy="87.7" r="1.3" fill="#2a8ad8"/>
<circle cx="408.4" cy="86.5" r="1.3" fill="#2a8ad8"/>
<circle cx="353.0" cy="112.9" r="1.3" fill="#2a8ad8"/>
<circle cx="365.9" cy="121.4" r="1.3" fill="#2a8ad8"/>
<circle cx="393.0" cy="94.1" r="1.3" fill="#2a8ad8"/>
<circle cx="371.5" cy="100.0" r="1.3" fill="#2a8ad8"/>
<circle cx="352.8" cy="106.6" r="1.3" fill="#2a8ad8"/>
<circle cx="408.3" cy="96.6" r="1.3" fill="#2a8ad8"/>
<circle cx="396.5" cy="81.0" r="1.3" fill="#2a8ad8"/>
<circle cx="396.4" cy="102.8" r="1.3" fill="#2a8ad8"/>
<circle cx="375.4" cy="100.4" r="1.3" fill="#2a8ad8"/>
<circle cx="408.0" cy="67.9" r="1.3" fill="#2a8ad8"/>
<circle cx="380.6" cy="103.6" r="1.3" fill="#2a8ad8"/>
<circle cx="409.5" cy="88.7" r="1.3" fill="#2a8ad8"/>
<circle cx="366.0" cy="89.3" r="1.3" fill="#2a8ad8"/>
<circle cx="367.2" cy="105.9" r="1.3" fill="#2a8ad8"/>
<circle cx="390.2" cy="94.7" r="1.3" fill="#2a8ad8"/>
<circle cx="370.5" cy="97.3" r="1.3" fill="#2a8ad8"/>
<circle cx="400.4" cy="74.3" r="1.3" fill="#2a8ad8"/>
<circle cx="391.4" cy="76.7" r="1.3" fill="#2a8ad8"/>
<circle cx="365.8" cy="111.8" r="1.3" fill="#2a8ad8"/>
<circle cx="387.3" cy="104.3" r="1.3" fill="#2a8ad8"/>
<circle cx="378.1" cy="109.3" r="1.3" fill="#2a8ad8"/>
<circle cx="405.6" cy="94.4" r="1.3" fill="#2a8ad8"/>
<circle cx="372.0" cy="109.1" r="1.3" fill="#2a8ad8"/>
<circle cx="376.2" cy="93.9" r="1.3" fill="#2a8ad8"/>
<circle cx="412.0" cy="92.0" r="1.3" fill="#2a8ad8"/>
<circle cx="434.3" cy="70.2" r="1.3" fill="#2a8ad8"/>
<circle cx="429.1" cy="69.3" r="1.3" fill="#2a8ad8"/>
<circle cx="387.1" cy="101.1" r="1.3" fill="#2a8ad8"/>
<circle cx="390.5" cy="89.6" r="1.3" fill="#2a8ad8"/>
<circle cx="419.0" cy="59.2" r="1.3" fill="#2a8ad8"/>
<circle cx="383.1" cy="90.6" r="1.3" fill="#2a8ad8"/>
<circle cx="364.6" cy="110.1" r="1.3" fill="#2a8ad8"/>
<circle cx="388.3" cy="92.8" r="1.3" fill="#2a8ad8"/>
<circle cx="395.5" cy="99.6" r="1.3" fill="#2a8ad8"/>
<circle cx="367.8" cy="98.0" r="1.3" fill="#2a8ad8"/>
<circle cx="350.1" cy="98.9" r="1.3" fill="#2a8ad8"/>
<circle cx="354.6" cy="116.6" r="1.3" fill="#2a8ad8"/>
<circle cx="400.2" cy="89.2" r="1.3" fill="#2a8ad8"/>
<circle cx="369.3" cy="87.5" r="1.3" fill="#2a8ad8"/>
<circle cx="382.7" cy="100.4" r="1.3" fill="#2a8ad8"/>
<circle cx="390.4" cy="88.9" r="1.3" fill="#2a8ad8"/>
<circle cx="399.2" cy="99.2" r="1.3" fill="#2a8ad8"/>
<circle cx="378.5" cy="106.0" r="1.3" fill="#2a8ad8"/>
<circle cx="396.6" cy="94.4" r="1.3" fill="#2a8ad8"/>
<circle cx="366.5" cy="114.3" r="1.3" fill="#2a8ad8"/>
<circle cx="377.9" cy="101.4" r="1.3" fill="#2a8ad8"/>
<circle cx="363.6" cy="109.1" r="1.3" fill="#2a8ad8"/>
<circle cx="410.3" cy="88.8" r="1.3" fill="#2a8ad8"/>
<circle cx="385.2" cy="95.3" r="1.3" fill="#2a8ad8"/>
<circle cx="369.7" cy="92.8" r="1.3" fill="#2a8ad8"/>
<circle cx="378.1" cy="94.4" r="1.3" fill="#2a8ad8"/>
<circle cx="380.9" cy="104.3" r="1.3" fill="#2a8ad8"/>
<circle cx="400.9" cy="84.0" r="1.3" fill="#2a8ad8"/>
<circle cx="351.2" cy="92.0" r="1.3" fill="#2a8ad8"/>
<circle cx="363.3" cy="100.0" r="1.3" fill="#2a8ad8"/>
<circle cx="377.6" cy="89.9" r="1.3" fill="#2a8ad8"/>
<circle cx="440.6" cy="85.4" r="1.3" fill="#2a8ad8"/>
<circle cx="406.5" cy="85.5" r="1.3" fill="#2a8ad8"/>
<circle cx="383.3" cy="95.1" r="1.3" fill="#2a8ad8"/>
<circle cx="401.2" cy="89.1" r="1.3" fill="#2a8ad8"/>
<circle cx="430.3" cy="55.7" r="1.3" fill="#2a8ad8"/>
<circle cx="380.7" cy="85.4" r="1.3" fill="#2a8ad8"/>
<circle cx="377.8" cy="101.1" r="1.3" fill="#2a8ad8"/>
<circle cx="412.0" cy="86.5" r="1.3" fill="#2a8ad8"/>
<circle cx="396.5" cy="91.4" r="1.3" fill="#2a8ad8"/>
<circle cx="400.3" cy="89.3" r="1.3" fill="#2a8ad8"/>
<circle cx="374.7" cy="93.4" r="1.3" fill="#2a8ad8"/>
<circle cx="427.4" cy="89.2" r="1.3" fill="#2a8ad8"/>
<circle cx="422.8" cy="87.4" r="1.3" fill="#2a8ad8"/>
<circle cx="398.0" cy="84.4" r="1.3" fill="#2a8ad8"/>
<circle cx="400.6" cy="84.9" r="1.3" fill="#2a8ad8"/>
<circle cx="341.8" cy="117.0" r="1.3" fill="#2a8ad8"/>
<circle cx="399.6" cy="93.6" r="1.3" fill="#2a8ad8"/>
<circle cx="381.5" cy="104.6" r="1.3" fill="#2a8ad8"/>
<circle cx="395.2" cy="89.7" r="1.3" fill="#2a8ad8"/>
<circle cx="400.5" cy="73.1" r="1.3" fill="#2a8ad8"/>
<circle cx="378.4" cy="108.6" r="1.3" fill="#2a8ad8"/>
<circle cx="349.1" cy="92.0" r="1.3" fill="#2a8ad8"/>
<circle cx="393.7" cy="80.0" r="1.3" fill="#2a8ad8"/>
<circle cx="369.7" cy="105.5" r="1.3" fill="#2a8ad8"/>
<circle cx="378.6" cy="87.4" r="1.3" fill="#2a8ad8"/>
<circle cx="372.7" cy="115.8" r="1.3" fill="#2a8ad8"/>
<circle cx="378.3" cy="116.3" r="1.3" fill="#2a8ad8"/>
<circle cx="335.7" cy="130.2" r="1.3" fill="#2a8ad8"/>
<circle cx="412.1" cy="86.2" r="1.3" fill="#2a8ad8"/>
<circle cx="391.2" cy="94.5" r="1.3" fill="#2a8ad8"/>
<circle cx="409.8" cy="88.4" r="1.3" fill="#2a8ad8"/>
<circle cx="428.6" cy="73.0" r="1.3" fill="#2a8ad8"/>
<circle cx="386.2" cy="76.7" r="1.3" fill="#2a8ad8"/>
<circle cx="346.7" cy="104.9" r="1.3" fill="#2a8ad8"/>
<circle cx="366.4" cy="118.0" r="1.3" fill="#2a8ad8"/>
<circle cx="359.6" cy="112.4" r="1.3" fill="#2a8ad8"/>
<circle cx="374.9" cy="102.7" r="1.3" fill="#2a8ad8"/>
<circle cx="387.5" cy="105.7" r="1.3" fill="#2a8ad8"/>
<circle cx="342.4" cy="128.1" r="1.3" fill="#2a8ad8"/>
<circle cx="393.2" cy="101.4" r="1.3" fill="#2a8ad8"/>
<circle cx="353.0" cy="107.9" r="1.3" fill="#2a8ad8"/>
<circle cx="392.2" cy="83.6" r="1.3" fill="#2a8ad8"/>
<circle cx="383.4" cy="87.8" r="1.3" fill="#2a8ad8"/>
<circle cx="379.0" cy="107.6" r="1.3" fill="#2a8ad8"/>
<circle cx="384.2" cy="103.0" r="1.3" fill="#2a8ad8"/>
<circle cx="374.1" cy="108.9" r="1.3" fill="#2a8ad8"/>
<circle cx="372.5" cy="93.9" r="1.3" fill="#2a8ad8"/>
<circle cx="349.3" cy="117.8" r="1.3" fill="#2a8ad8"/>
<circle cx="385.1" cy="79.3" r="1.3" fill="#2a8ad8"/>
<circle cx="425.7" cy="81.0" r="1.3" fill="#2a8ad8"/>
<circle cx="428.7" cy="83.1" r="1.3" fill="#2a8ad8"/>
<circle cx="414.4" cy="76.6" r="1.3" fill="#2a8ad8"/>
<circle cx="401.0" cy="74.6" r="1.3" fill="#2a8ad8"/>
<circle cx="371.1" cy="95.8" r="1.3" fill="#2a8ad8"/>
<circle cx="417.0" cy="67.3" r="1.3" fill="#2a8ad8"/>
<circle cx="384.5" cy="92.2" r="1.3" fill="#2a8ad8"/>
<circle cx="384.3" cy="79.8" r="1.3" fill="#2a8ad8"/>
<circle cx="379.4" cy="81.7" r="1.3" fill="#2a8ad8"/>
<circle cx="387.7" cy="93.4" r="1.3" fill="#2a8ad8"/>
<circle cx="376.3" cy="80.9" r="1.3" fill="#2a8ad8"/>
<circle cx="383.9" cy="92.1" r="1.3" fill="#2a8ad8"/>
<circle cx="362.3" cy="102.6" r="1.3" fill="#2a8ad8"/>
<circle cx="377.7" cy="107.3" r="1.3" fill="#2a8ad8"/>
<circle cx="435.2" cy="74.6" r="1.3" fill="#2a8ad8"/>
<circle cx="384.2" cy="85.0" r="1.3" fill="#2a8ad8"/>
<circle cx="380.6" cy="110.5" r="1.3" fill="#2a8ad8"/>
<circle cx="397.3" cy="80.6" r="1.3" fill="#2a8ad8"/>
<circle cx="401.1" cy="82.4" r="1.3" fill="#2a8ad8"/>
<circle cx="361.6" cy="100.7" r="1.3" fill="#2a8ad8"/>
<circle cx="381.3" cy="108.7" r="1.3" fill="#2a8ad8"/>
<circle cx="405.6" cy="85.5" r="1.3" fill="#2a8ad8"/>
<circle cx="391.6" cy="83.2" r="1.3" fill="#2a8ad8"/>
<circle cx="388.4" cy="100.8" r="1.3" fill="#2a8ad8"/>
<circle cx="419.4" cy="77.2" r="1.3" fill="#2a8ad8"/>
<circle cx="371.1" cy="107.0" r="1.3" fill="#2a8ad8"/>
<circle cx="387.5" cy="84.7" r="1.3" fill="#2a8ad8"/>
<circle cx="374.5" cy="105.8" r="1.3" fill="#2a8ad8"/>
<circle cx="418.0" cy="68.9" r="1.3" fill="#2a8ad8"/>
<circle cx="343.5" cy="133.1" r="1.3" fill="#2a8ad8"/>
<circle cx="371.2" cy="91.7" r="1.3" fill="#2a8ad8"/>
<circle cx="374.3" cy="101.0" r="1.3" fill="#2a8ad8"/>
<circle cx="400.1" cy="77.6" r="1.3" fill="#2a8ad8"/>
<circle cx="398.9" cy="98.0" r="1.3" fill="#2a8ad8"/>
<circle cx="416.0" cy="86.9" r="1.3" fill="#2a8ad8"/>
<circle cx="351.6" cy="114.0" r="1.3" fill="#2a8ad8"/>
<circle cx="402.0" cy="95.5" r="1.3" fill="#2a8ad8"/>
<circle cx="379.4" cy="104.1" r="1.3" fill="#2a8ad8"/>
<circle cx="371.3" cy="102.8" r="1.3" fill="#2a8ad8"/>
<circle cx="397.4" cy="99.7" r="1.3" fill="#2a8ad8"/>
<circle cx="365.8" cy="88.4" r="1.3" fill="#2a8ad8"/>
<circle cx="340.8" cy="93.4" r="1.3" fill="#2a8ad8"/>
<circle cx="377.7" cy="104.8" r="1.3" fill="#2a8ad8"/>
<circle cx="353.3" cy="127.4" r="1.3" fill="#2a8ad8"/>
<circle cx="371.7" cy="86.0" r="1.3" fill="#2a8ad8"/>
<circle cx="393.8" cy="76.9" r="1.3" fill="#2a8ad8"/>
<circle cx="392.5" cy="80.8" r="1.3" fill="#2a8ad8"/>
<circle cx="420.1" cy="64.7" r="1.3" fill="#2a8ad8"/>
<circle cx="381.4" cy="105.0" r="1.3" fill="#2a8ad8"/>
<circle cx="352.5" cy="109.9" r="1.3" fill="#2a8ad8"/>
<circle cx="369.4" cy="116.3" r="1.3" fill="#2a8ad8"/>
<circle cx="365.8" cy="118.3" r="1.3" fill="#2a8ad8"/>
<circle cx="359.4" cy="93.7" r="1.3" fill="#2a8ad8"/>
<circle cx="395.2" cy="96.7" r="1.3" fill="#2a8ad8"/>
<circle cx="371.8" cy="117.5" r="1.3" fill="#2a8ad8"/>
<circle cx="342.9" cy="111.4" r="1.3" fill="#2a8ad8"/>
<circle cx="400.9" cy="93.8" r="1.3" fill="#2a8ad8"/>
<circle cx="383.3" cy="85.1" r="1.3" fill="#2a8ad8"/>
<circle cx="393.5" cy="69.1" r="1.3" fill="#2a8ad8"/>
<circle cx="388.0" cy="86.6" r="1.3" fill="#2a8ad8"/>
<circle cx="399.4" cy="101.1" r="1.3" fill="#2a8ad8"/>
<circle cx="386.6" cy="88.6" r="1.3" fill="#2a8ad8"/>
<circle cx="412.5" cy="65.5" r="1.3" fill="#2a8ad8"/>
<circle cx="395.0" cy="94.8" r="1.3" fill="#2a8ad8"/>
<circle cx="394.2" cy="98.3" r="1.3" fill="#2a8ad8"/>
<circle cx="394.6" cy="77.6" r="1.3" fill="#2a8ad8"/>
<circle cx="354.2" cy="105.6" r="1.3" fill="#2a8ad8"/>
<circle cx="382.2" cy="107.4" r="1.3" fill="#2a8ad8"/>
<circle cx="380.1" cy="100.0" r="1.3" fill="#2a8ad8"/>
<circle cx="390.2" cy="99.8" r="1.3" fill="#2a8ad8"/>
<circle cx="356.3" cy="102.9" r="1.3" fill="#2a8ad8"/>
<circle cx="421.2" cy="76.2" r="1.3" fill="#2a8ad8"/>
<circle cx="388.0" cy="79.0" r="1.3" fill="#2a8ad8"/>
<circle cx="359.5" cy="96.7" r="1.3" fill="#2a8ad8"/>
<circle cx="348.7" cy="127.5" r="1.3" fill="#2a8ad8"/>
<circle cx="379.7" cy="91.2" r="1.3" fill="#2a8ad8"/>
<circle cx="383.8" cy="83.8" r="1.3" fill="#2a8ad8"/>
<circle cx="370.2" cy="94.9" r="1.3" fill="#2a8ad8"/>
<circle cx="387.7" cy="80.5" r="1.3" fill="#2a8ad8"/>
<circle cx="371.9" cy="105.6" r="1.3" fill="#2a8ad8"/>
<circle cx="397.7" cy="98.8" r="1.3" fill="#2a8ad8"/>
<circle cx="370.1" cy="89.5" r="1.3" fill="#2a8ad8"/>
<circle cx="384.9" cy="105.8" r="1.3" fill="#2a8ad8"/>
<circle cx="407.0" cy="83.4" r="1.3" fill="#2a8ad8"/>
<circle cx="441.5" cy="56.7" r="1.3" fill="#2a8ad8"/>
<circle cx="363.9" cy="111.2" r="1.3" fill="#2a8ad8"/>
<circle cx="375.7" cy="101.2" r="1.3" fill="#2a8ad8"/>
<circle cx="367.6" cy="117.3" r="1.3" fill="#2a8ad8"/>
<circle cx="402.7" cy="100.8" r="1.3" fill="#2a8ad8"/>
<circle cx="360.9" cy="117.5" r="1.3" fill="#2a8ad8"/>
<circle cx="375.3" cy="102.0" r="1.3" fill="#2a8ad8"/>
<circle cx="385.1" cy="89.2" r="1.3" fill="#2a8ad8"/>
<circle cx="364.5" cy="117.3" r="1.3" fill="#2a8ad8"/>
<circle cx="365.0" cy="93.8" r="1.3" fill="#2a8ad8"/>
<circle cx="375.4" cy="111.3" r="1.3" fill="#2a8ad8"/>
<circle cx="340.2" cy="125.6" r="1.3" fill="#2a8ad8"/>
<circle cx="354.4" cy="99.3" r="1.3" fill="#2a8ad8"/>
<circle cx="376.8" cy="98.0" r="1.3" fill="#2a8ad8"/>
<circle cx="389.0" cy="109.4" r="1.3" fill="#2a8ad8"/>
<circle cx="381.7" cy="73.9" r="1.3" fill="#2a8ad8"/>
<circle cx="347.3" cy="120.1" r="1.3" fill="#2a8ad8"/>
<circle cx="375.7" cy="94.8" r="1.3" fill="#2a8ad8"/>
<circle cx="403.1" cy="83.2" r="1.3" fill="#2a8ad8"/>
<circle cx="397.8" cy="71.7" r="1.3" fill="#2a8ad8"/>
<circle cx="384.0" cy="99.2" r="1.3" fill="#2a8ad8"/>
<circle cx="366.5" cy="90.2" r="1.3" fill="#2a8ad8"/>
<circle cx="399.4" cy="95.6" r="1.3" fill="#2a8ad8"/>
<circle cx="373.2" cy="85.9" r="1.3" fill="#2a8ad8"/>
<circle cx="360.4" cy="113.2" r="1.3" fill="#2a8ad8"/>
<circle cx="368.4" cy="105.1" r="1.3" fill="#2a8ad8"/>
<circle cx="417.1" cy="57.6" r="1.3" fill="#2a8ad8"/>
<circle cx="390.5" cy="87.4" r="1.3" fill="#2a8ad8"/>
<circle cx="410.9" cy="80.8" r="1.3" fill="#2a8ad8"/>
<circle cx="375.4" cy="111.7" r="1.3" fill="#2a8ad8"/>
<circle cx="406.1" cy="80.0" r="1.3" fill="#2a8ad8"/>
<circle cx="372.7" cy="108.3" r="1.3" fill="#2a8ad8"/>
<circle cx="382.3" cy="86.3" r="1.3" fill="#2a8ad8"/>
<circle cx="439.6" cy="82.8" r="1.3" fill="#2a8ad8"/>
<circle cx="402.4" cy="72.9" r="1.3" fill="#2a8ad8"/>
<circle cx="374.9" cy="84.2" r="1.3" fill="#2a8ad8"/>
<circle cx="383.9" cy="100.6" r="1.3" fill="#2a8ad8"/>
<circle cx="392.8" cy="97.2" r="1.3" fill="#2a8ad8"/>
<circle cx="412.0" cy="79.5" r="1.3" fill="#2a8ad8"/>
<circle cx="375.2" cy="97.7" r="1.3" fill="#2a8ad8"/>
<circle cx="348.0" cy="121.1" r="1.3" fill="#2a8ad8"/>
<circle cx="379.7" cy="89.4" r="1.3" fill="#2a8ad8"/>
<circle cx="386.1" cy="82.6" r="1.3" fill="#2a8ad8"/>
<circle cx="388.1" cy="97.1" r="1.3" fill="#2a8ad8"/>
<circle cx="414.3" cy="85.2" r="1.3" fill="#2a8ad8"/>
<circle cx="392.6" cy="93.3" r="1.3" fill="#2a8ad8"/>
<circle cx="403.4" cy="81.9" r="1.3" fill="#2a8ad8"/>
<circle cx="361.9" cy="117.8" r="1.3" fill="#2a8ad8"/>
<circle cx="404.6" cy="78.1" r="1.3" fill="#2a8ad8"/>
<circle cx="431.2" cy="75.1" r="1.3" fill="#2a8ad8"/>
<circle cx="402.5" cy="93.2" r="1.3" fill="#2a8ad8"/>
<circle cx="391.2" cy="106.4" r="1.3" fill="#2a8ad8"/>
<circle cx="389.1" cy="105.3" r="1.3" fill="#2a8ad8"/>
<circle cx="424.5" cy="71.9" r="1.3" fill="#2a8ad8"/>
<circle cx="365.7" cy="113.1" r="1.3" fill="#2a8ad8"/>
<circle cx="383.3" cy="93.5" r="1.3" fill="#2a8ad8"/>
<circle cx="395.7" cy="76.6" r="1.3" fill="#2a8ad8"/>
<circle cx="401.9" cy="74.2" r="1.3" fill="#2a8ad8"/>
<circle cx="376.3" cy="79.5" r="1.3" fill="#2a8ad8"/>
<circle cx="392.4" cy="93.6" r="1.3" fill="#2a8ad8"/>
<circle cx="379.7" cy="108.3" r="1.3" fill="#2a8ad8"/>
<circle cx="388.4" cy="80.3" r="1.3" fill="#2a8ad8"/>
<circle cx="382.9" cy="90.9" r="1.3" fill="#2a8ad8"/>
<circle cx="361.0" cy="91.3" r="1.3" fill="#2a8ad8"/>
<circle cx="385.3" cy="93.3" r="1.3" fill="#2a8ad8"/>
<circle cx="404.8" cy="71.1" r="1.3" fill="#2a8ad8"/>
<circle cx="364.8" cy="92.8" r="1.3" fill="#2a8ad8"/>
<circle cx="380.5" cy="87.3" r="1.3" fill="#2a8ad8"/>
<circle cx="400.2" cy="81.0" r="1.3" fill="#2a8ad8"/>
<circle cx="362.6" cy="98.9" r="1.3" fill="#2a8ad8"/>
<circle cx="389.7" cy="88.8" r="1.3" fill="#2a8ad8"/>
<circle cx="362.8" cy="100.8" r="1.3" fill="#2a8ad8"/>
<circle cx="410.3" cy="70.9" r="1.3" fill="#2a8ad8"/>
<circle cx="435.9" cy="76.8" r="1.3" fill="#2a8ad8"/>
<circle cx="429.6" cy="53.9" r="1.3" fill="#2a8ad8"/>
<circle cx="381.0" cy="96.5" r="1.3" fill="#2a8ad8"/>
<circle cx="401.8" cy="74.8" r="1.3" fill="#2a8ad8"/>
<circle cx="388.4" cy="93.1" r="1.3" fill="#2a8ad8"/>
<circle cx="388.0" cy="95.0" r="1.3" fill="#2a8ad8"/>
<circle cx="419.3" cy="86.1" r="1.3" fill="#2a8ad8"/>
<circle cx="357.2" cy="109.4" r="1.3" fill="#2a8ad8"/>
<circle cx="408.6" cy="97.7" r="1.3" fill="#2a8ad8"/>
<circle cx="384.7" cy="101.8" r="1.3" fill="#2a8ad8"/>
<circle cx="416.3" cy="83.3" r="1.3" fill="#2a8ad8"/>
<circle cx="389.8" cy="92.2" r="1.3" fill="#2a8ad8"/>
<circle cx="371.2" cy="97.3" r="1.3" fill="#2a8ad8"/>
<circle cx="391.8" cy="79.8" r="1.3" fill="#2a8ad8"/>
<circle cx="401.7" cy="97.6" r="1.3" fill="#2a8ad8"/>
<circle cx="386.5" cy="88.8" r="1.3" fill="#2a8ad8"/>
<circle cx="396.3" cy="80.8" r="1.3" fill="#2a8ad8"/>
<circle cx="374.4" cy="77.6" r="1.3" fill="#2a8ad8"/>
<circle cx="339.5" cy="121.7" r="1.3" fill="#2a8ad8"/>
<circle cx="405.3" cy="77.6" r="1.3" fill="#2a8ad8"/>
<circle cx="400.9" cy="83.0" r="1.3" fill="#2a8ad8"/>
<circle cx="389.0" cy="103.5" r="1.3" fill="#2a8ad8"/>
<circle cx="387.2" cy="92.8" r="1.3" fill="#2a8ad8"/>
<circle cx="408.2" cy="86.2" r="1.3" fill="#2a8ad8"/>
<circle cx="375.8" cy="90.4" r="1.3" fill="#2a8ad8"/>
<circle cx="370.4" cy="93.1" r="1.3" fill="#2a8ad8"/>
<circle cx="381.7" cy="88.8" r="1.3" fill="#2a8ad8"/>
<circle cx="411.5" cy="86.8" r="1.3" fill="#2a8ad8"/>
<circle cx="355.7" cy="121.9" r="1.3" fill="#2a8ad8"/>
<circle cx="411.6" cy="64.8" r="1.3" fill="#2a8ad8"/>
<circle cx="371.9" cy="96.3" r="1.3" fill="#2a8ad8"/>
<circle cx="361.9" cy="92.1" r="1.3" fill="#2a8ad8"/>
<circle cx="413.1" cy="64.9" r="1.3" fill="#2a8ad8"/>
<circle cx="383.7" cy="100.1" r="1.3" fill="#2a8ad8"/>
<circle cx="357.6" cy="96.4" r="1.3" fill="#2a8ad8"/>
<circle cx="378.0" cy="99.4" r="1.3" fill="#2a8ad8"/>
<circle cx="405.9" cy="85.0" r="1.3" fill="#2a8ad8"/>
<circle cx="411.6" cy="82.7" r="1.3" fill="#2a8ad8"/>
<circle cx="376.5" cy="97.3" r="1.3" fill="#2a8ad8"/>
<circle cx="394.6" cy="76.5" r="1.3" fill="#2a8ad8"/>
<circle cx="401.2" cy="84.9" r="1.3" fill="#2a8ad8"/>
<circle cx="371.8" cy="101.2" r="1.3" fill="#2a8ad8"/>
<circle cx="393.4" cy="92.9" r="1.3" fill="#2a8ad8"/>
<circle cx="385.1" cy="89.6" r="1.3" fill="#2a8ad8"/>
<circle cx="374.1" cy="108.6" r="1.3" fill="#2a8ad8"/>
<circle cx="375.1" cy="103.7" r="1.3" fill="#2a8ad8"/>
<circle cx="387.2" cy="93.1" r="1.3" fill="#2a8ad8"/>
<circle cx="386.4" cy="99.4" r="1.3" fill="#2a8ad8"/>
<circle cx="373.5" cy="100.0" r="1.3" fill="#2a8ad8"/>
<circle cx="376.5" cy="104.3" r="1.3" fill="#2a8ad8"/>
<circle cx="409.9" cy="73.2" r="1.3" fill="#2a8ad8"/>
<circle cx="390.4" cy="75.9" r="1.3" fill="#2a8ad8"/>
<circle cx="404.9" cy="79.5" r="1.3" fill="#2a8ad8"/>
<circle cx="411.8" cy="82.2" r="1.3" fill="#2a8ad8"/>
<circle cx="398.5" cy="91.4" r="1.3" fill="#2a8ad8"/>
<circle cx="435.0" cy="67.7" r="1.3" fill="#2a8ad8"/>
<circle cx="367.9" cy="102.1" r="1.3" fill="#2a8ad8"/>
<circle cx="403.3" cy="81.9" r="1.3" fill="#2a8ad8"/>
<circle cx="378.9" cy="92.7" r="1.3" fill="#2a8ad8"/>
<circle cx="353.3" cy="89.0" r="1.3" fill="#2a8ad8"/>
<circle cx="338.9" cy="118.1" r="1.3" fill="#2a8ad8"/>
<circle cx="336.9" cy="98.2" r="1.3" fill="#2a8ad8"/>
<circle cx="348.6" cy="88.1" r="1.3" fill="#2a8ad8"/>
<circle cx="340.3" cy="102.1" r="1.3" fill="#2a8ad8"/>
<circle cx="342.4" cy="94.2" r="1.3" fill="#2a8ad8"/>
<circle cx="320.0" cy="111.6" r="1.3" fill="#2a8ad8"/>
<circle cx="339.4" cy="80.5" r="1.3" fill="#2a8ad8"/>
<circle cx="328.6" cy="83.2" r="1.3" fill="#2a8ad8"/>
<circle cx="316.4" cy="94.3" r="1.3" fill="#2a8ad8"/>
<circle cx="318.9" cy="119.8" r="1.3" fill="#2a8ad8"/>
<circle cx="334.0" cy="110.7" r="1.3" fill="#2a8ad8"/>
<circle cx="324.5" cy="84.8" r="1.3" fill="#2a8ad8"/>
<circle cx="346.3" cy="75.3" r="1.3" fill="#2a8ad8"/>
<circle cx="318.5" cy="93.5" r="1.3" fill="#2a8ad8"/>
<circle cx="313.8" cy="81.3" r="1.3" fill="#2a8ad8"/>
<circle cx="356.4" cy="105.1" r="1.3" fill="#2a8ad8"/>
<circle cx="326.7" cy="99.7" r="1.3" fill="#2a8ad8"/>
<circle cx="335.3" cy="97.3" r="1.3" fill="#2a8ad8"/>
<circle cx="322.3" cy="91.9" r="1.3" fill="#2a8ad8"/>
<circle cx="322.2" cy="116.9" r="1.3" fill="#2a8ad8"/>
<circle cx="330.6" cy="85.2" r="1.3" fill="#2a8ad8"/>
<circle cx="347.4" cy="80.4" r="1.3" fill="#2a8ad8"/>
<circle cx="314.9" cy="112.0" r="1.3" fill="#2a8ad8"/>
<circle cx="349.5" cy="114.7" r="1.3" fill="#2a8ad8"/>
<circle cx="356.1" cy="92.8" r="1.3" fill="#2a8ad8"/>
<circle cx="337.4" cy="105.7" r="1.3" fill="#2a8ad8"/>
<circle cx="328.8" cy="127.7" r="1.3" fill="#2a8ad8"/>
<circle cx="323.3" cy="86.9" r="1.3" fill="#2a8ad8"/>
<circle cx="321.1" cy="95.3" r="1.3" fill="#2a8ad8"/>
<path d="M431.3,73.1 L431.4,73.9 L431.3,74.7 L431.2,75.2 L431.1,75.5 L430.7,76.3 L430.3,77.1 L429.9,77.8 L429.8,77.9 L429.4,78.7 L429.0,79.5 L428.6,80.3 L428.6,80.3 L428.2,81.1 L427.8,81.9 L427.4,82.7 L427.3,83.0 L427.1,83.5 L426.8,84.3 L426.5,85.1 L426.3,85.9 L426.2,86.7 L426.0,87.5 L426.0,87.6 L425.8,88.3 L425.5,89.1 L424.8,89.9 L424.7,90.0 L423.8,90.7 L423.4,90.9 L422.4,91.5 L422.1,91.6 L420.8,92.2 L420.7,92.3 L419.5,92.8 L419.1,93.1 L418.3,93.6 L417.9,93.9 L417.0,94.6 L416.9,94.7 L416.2,95.5 L415.7,96.1 L415.6,96.3 L415.0,97.1 L414.4,97.9 L414.4,97.9 L413.8,98.7 L413.1,99.4 L413.1,99.5 L412.2,100.3 L411.8,100.6 L411.2,101.1 L410.5,101.5 L410.0,101.9 L409.2,102.4 L408.7,102.7 L407.9,103.1 L407.2,103.5 L406.6,103.8 L405.7,104.3 L405.4,104.4 L404.2,105.1 L404.1,105.1 L402.9,105.9 L402.8,106.0 L401.9,106.7 L401.5,107.0 L401.0,107.5 L400.2,108.3 L400.2,108.3 L399.5,109.1 L398.9,109.7 L398.7,109.9 L397.9,110.7 L397.6,110.9 L397.0,111.5 L396.3,112.0 L395.9,112.3 L395.0,112.8 L394.5,113.1 L393.7,113.4 L392.8,113.9 L392.5,114.0 L391.2,114.6 L391.1,114.7 L389.9,115.3 L389.5,115.5 L388.6,116.0 L388.1,116.3 L387.3,116.8 L386.8,117.1 L386.0,117.6 L385.5,117.9 L384.7,118.3 L383.9,118.7 L383.4,118.9 L382.1,119.3 L381.6,119.5 L380.8,119.7 L379.6,119.9 L378.3,120.2 L377.6,120.3 L377.0,120.4 L375.7,120.6 L374.4,120.8 L373.4,121.1 L373.1,121.1 L371.8,121.5 L370.5,121.8 L370.4,121.9 L369.2,122.2 L367.9,122.5 L367.2,122.7 L366.7,122.8 L365.4,123.0 L364.1,123.2 L362.8,123.3 L361.5,123.4 L360.6,123.5 L360.2,123.5 L358.9,123.6 L357.6,123.7 L356.3,123.8 L355.0,123.9 L353.8,123.9 L352.5,124.0 L351.2,124.0 L349.9,124.0 L348.6,123.9 L347.3,123.7 L346.2,123.5 L346.0,123.4 L344.7,123.1 L343.8,122.7 L343.4,122.5 L342.2,121.9 L342.1,121.8 L341.0,121.1 L340.9,120.9 L340.1,120.3 L339.6,119.8 L339.3,119.5 L338.6,118.7 L338.3,118.1 L338.1,117.9 L337.7,117.1 L337.4,116.3 L337.1,115.5 L337.0,114.7 L337.0,114.0 L337.0,113.9 L337.0,113.7 L337.0,113.1 L337.1,112.3 L337.3,111.5 L337.6,110.7 L337.9,109.9 L338.2,109.1 L338.3,109.0 L338.5,108.3 L338.8,107.5 L339.0,106.7 L339.3,105.9 L339.5,105.1 L339.6,105.0 L339.8,104.3 L340.3,103.5 L340.9,102.7 L340.9,102.7 L341.8,101.9 L342.1,101.6 L342.8,101.1 L343.4,100.6 L343.8,100.3 L344.5,99.5 L344.7,99.2 L345.0,98.7 L345.3,97.9 L345.5,97.1 L345.5,96.3 L345.4,95.5 L345.4,94.7 L345.4,93.9 L345.4,93.1 L345.6,92.3 L345.9,91.5 L346.0,91.3 L346.3,90.7 L347.0,89.9 L347.3,89.6 L347.9,89.1 L348.6,88.5 L349.0,88.3 L349.9,87.8 L350.7,87.5 L351.2,87.3 L352.5,86.8 L352.8,86.7 L353.8,86.3 L355.0,85.9 L355.0,85.8 L356.3,85.2 L356.7,85.1 L357.6,84.5 L358.0,84.3 L358.9,83.7 L359.3,83.5 L360.2,82.9 L360.6,82.7 L361.5,82.2 L362.1,81.9 L362.8,81.5 L363.7,81.1 L364.1,80.9 L365.2,80.3 L365.4,80.2 L366.7,79.5 L366.7,79.5 L367.9,78.7 L368.0,78.7 L369.2,77.9 L369.2,77.9 L370.5,77.1 L370.5,77.0 L371.8,76.3 L371.9,76.3 L373.1,75.6 L373.4,75.5 L374.4,75.0 L375.2,74.7 L375.7,74.4 L377.0,73.9 L377.0,73.9 L378.3,73.3 L378.9,73.1 L379.6,72.8 L380.7,72.3 L380.8,72.2 L382.1,71.5 L382.2,71.5 L383.4,70.8 L383.7,70.7 L384.7,70.1 L385.1,69.9 L386.0,69.3 L386.5,69.1 L387.3,68.6 L388.1,68.3 L388.6,68.0 L389.9,67.5 L390.0,67.5 L391.2,67.0 L392.5,66.7 L392.6,66.7 L393.7,66.4 L395.0,66.2 L396.3,66.0 L397.3,65.9 L397.6,65.8 L398.9,65.6 L400.2,65.4 L401.5,65.2 L401.9,65.1 L402.8,64.9 L404.1,64.5 L404.9,64.3 L405.4,64.1 L406.6,63.7 L407.5,63.5 L407.9,63.3 L409.2,62.9 L409.9,62.7 L410.5,62.5 L411.8,62.1 L413.1,61.9 L413.4,61.9 L414.4,61.7 L415.7,61.7 L416.6,61.9 L417.0,61.9 L418.3,62.3 L418.9,62.7 L419.5,63.1 L419.9,63.5 L420.7,64.3 L420.8,64.5 L421.2,65.1 L421.8,65.9 L422.1,66.4 L422.4,66.7 L423.1,67.5 L423.4,67.8 L424.1,68.3 L424.7,68.6 L425.6,69.1 L426.0,69.3 L427.3,69.8 L427.4,69.9 L428.6,70.4 L429.1,70.7 L429.9,71.2 L430.2,71.5 L430.9,72.3 L431.2,72.8 L431.3,73.1" fill="none" stroke="#1d6fbd" stroke-width="0.7" stroke-linejoin="round"/>
<path d="M421.1,76.3 L421.4,77.1 L421.5,77.9 L421.6,78.7 L421.6,79.5 L421.5,80.3 L421.4,81.1 L421.3,81.9 L421.2,82.7 L421.1,83.5 L420.9,84.3 L420.8,84.8 L420.8,85.1 L420.6,85.9 L420.4,86.7 L420.0,87.5 L419.5,88.2 L419.5,88.3 L418.8,89.1 L418.3,89.5 L417.8,89.9 L417.0,90.4 L416.6,90.7 L415.7,91.3 L415.5,91.5 L414.5,92.3 L414.4,92.3 L413.7,93.1 L413.1,93.8 L413.0,93.9 L412.5,94.7 L412.0,95.5 L411.8,95.7 L411.5,96.3 L410.9,97.1 L410.5,97.5 L410.2,97.9 L409.3,98.7 L409.2,98.7 L408.2,99.5 L407.9,99.6 L406.9,100.3 L406.6,100.4 L405.4,101.1 L405.4,101.1 L404.1,101.8 L403.9,101.9 L402.8,102.5 L402.5,102.7 L401.5,103.3 L401.2,103.5 L400.2,104.2 L400.1,104.3 L399.1,105.1 L398.9,105.3 L398.3,105.9 L397.6,106.6 L397.6,106.7 L396.9,107.5 L396.3,108.1 L396.2,108.3 L395.5,109.1 L395.0,109.5 L394.6,109.9 L393.7,110.5 L393.5,110.7 L392.5,111.3 L392.1,111.5 L391.2,111.9 L390.4,112.3 L389.9,112.5 L388.6,113.0 L388.5,113.1 L387.3,113.6 L386.7,113.9 L386.0,114.2 L385.1,114.7 L384.7,114.9 L383.6,115.5 L383.4,115.5 L382.1,116.1 L381.8,116.3 L380.8,116.6 L379.6,117.0 L379.3,117.1 L378.3,117.3 L377.0,117.5 L375.7,117.7 L374.8,117.9 L374.4,117.9 L373.1,118.2 L371.8,118.5 L371.4,118.7 L370.5,118.9 L369.2,119.3 L368.9,119.5 L367.9,119.7 L366.7,120.1 L365.5,120.3 L365.4,120.3 L364.1,120.4 L362.8,120.5 L361.5,120.5 L360.2,120.4 L358.9,120.3 L358.7,120.3 L357.6,120.1 L356.3,120.0 L355.0,119.8 L353.8,119.6 L352.5,119.5 L352.2,119.5 L351.2,119.3 L349.9,119.1 L348.6,118.7 L348.4,118.7 L347.3,118.1 L346.9,117.9 L346.0,117.1 L346.0,117.1 L345.5,116.3 L345.2,115.5 L345.0,114.7 L344.9,113.9 L344.8,113.1 L344.9,112.3 L345.0,111.5 L345.2,110.7 L345.4,109.9 L345.8,109.1 L346.0,108.6 L346.2,108.3 L346.7,107.5 L347.2,106.7 L347.3,106.6 L347.8,105.9 L348.4,105.1 L348.6,104.8 L348.9,104.3 L349.4,103.5 L349.9,102.7 L349.9,102.7 L350.2,101.9 L350.5,101.1 L350.8,100.3 L351.0,99.5 L351.2,98.7 L351.2,98.7 L351.3,97.9 L351.4,97.1 L351.4,96.3 L351.4,95.5 L351.4,94.7 L351.5,93.9 L351.8,93.1 L352.2,92.3 L352.5,91.9 L352.9,91.5 L353.8,90.8 L354.0,90.7 L355.0,90.1 L355.6,89.9 L356.3,89.5 L357.3,89.1 L357.6,88.9 L358.8,88.3 L358.9,88.2 L360.0,87.5 L360.2,87.4 L361.2,86.7 L361.5,86.4 L362.3,85.9 L362.8,85.5 L363.5,85.1 L364.1,84.7 L364.9,84.3 L365.4,84.0 L366.4,83.5 L366.7,83.4 L367.9,82.7 L368.0,82.7 L369.2,81.9 L369.3,81.9 L370.5,81.1 L370.5,81.0 L371.5,80.3 L371.8,80.0 L372.6,79.5 L373.1,79.1 L373.7,78.7 L374.4,78.3 L375.1,77.9 L375.7,77.5 L376.6,77.1 L377.0,76.9 L378.3,76.4 L378.5,76.3 L379.6,75.8 L380.5,75.5 L380.8,75.3 L382.1,74.8 L382.6,74.7 L383.4,74.3 L384.5,73.9 L384.7,73.8 L386.0,73.1 L386.1,73.1 L387.3,72.4 L387.6,72.3 L388.6,71.7 L389.1,71.5 L389.9,71.0 L390.6,70.7 L391.2,70.4 L392.5,69.9 L392.5,69.9 L393.7,69.5 L395.0,69.1 L395.4,69.1 L396.3,68.9 L397.6,68.7 L398.9,68.6 L400.2,68.4 L401.5,68.3 L402.5,68.3 L402.8,68.2 L404.1,68.2 L405.4,68.1 L406.6,68.1 L407.9,68.2 L409.0,68.3 L409.2,68.3 L410.5,68.6 L411.8,69.1 L411.8,69.1 L413.1,69.8 L413.2,69.9 L414.4,70.7 L414.4,70.7 L415.6,71.5 L415.7,71.5 L416.9,72.3 L417.0,72.3 L418.1,73.1 L418.3,73.2 L419.2,73.9 L419.5,74.2 L420.1,74.7 L420.7,75.5 L420.8,75.7 L421.1,76.3" fill="none" stroke="#1d6fbd" stroke-width="0.7" stroke-linejoin="round"/>
<path d="M415.8,81.1 L416.2,81.9 L416.4,82.7 L416.6,83.5 L416.7,84.3 L416.7,85.1 L416.5,85.9 L416.2,86.7 L415.7,87.5 L415.7,87.5 L415.0,88.3 L414.4,88.8 L414.1,89.1 L413.1,89.9 L413.1,89.9 L412.1,90.7 L411.8,90.9 L411.2,91.5 L410.5,92.2 L410.5,92.3 L409.9,93.1 L409.5,93.9 L409.2,94.3 L409.1,94.7 L408.6,95.5 L408.0,96.3 L407.9,96.3 L407.2,97.1 L406.6,97.6 L406.3,97.9 L405.4,98.5 L405.1,98.7 L404.1,99.3 L403.7,99.5 L402.8,100.0 L402.3,100.3 L401.5,100.7 L401.0,101.1 L400.2,101.5 L399.7,101.9 L398.9,102.4 L398.6,102.7 L397.7,103.5 L397.6,103.5 L396.9,104.3 L396.3,104.8 L396.1,105.1 L395.5,105.9 L395.0,106.4 L394.8,106.7 L394.1,107.5 L393.7,107.9 L393.4,108.3 L392.5,109.0 L392.4,109.1 L391.2,109.9 L391.2,109.9 L389.9,110.6 L389.6,110.7 L388.6,111.1 L387.7,111.5 L387.3,111.6 L386.0,112.1 L385.6,112.3 L384.7,112.6 L383.6,113.1 L383.4,113.2 L382.1,113.7 L381.6,113.9 L380.8,114.2 L379.6,114.5 L379.0,114.7 L378.3,114.8 L377.0,115.1 L375.7,115.2 L374.4,115.3 L373.4,115.5 L373.1,115.5 L371.8,115.7 L370.5,116.0 L369.6,116.3 L369.2,116.4 L367.9,116.8 L367.0,117.1 L366.7,117.2 L365.4,117.5 L364.1,117.6 L362.8,117.6 L361.5,117.5 L360.2,117.2 L359.6,117.1 L358.9,116.8 L357.7,116.3 L357.6,116.2 L356.3,115.5 L356.3,115.5 L355.2,114.7 L355.0,114.6 L354.3,113.9 L353.8,113.3 L353.6,113.1 L353.0,112.3 L352.6,111.5 L352.5,111.1 L352.3,110.7 L352.2,109.9 L352.3,109.1 L352.5,108.3 L352.5,108.3 L352.8,107.5 L353.1,106.7 L353.4,105.9 L353.7,105.1 L353.8,104.9 L353.9,104.3 L354.1,103.5 L354.3,102.7 L354.4,101.9 L354.5,101.1 L354.7,100.3 L354.9,99.5 L355.0,98.7 L355.0,98.7 L355.2,97.9 L355.5,97.1 L355.7,96.3 L356.0,95.5 L356.3,94.7 L356.3,94.7 L356.9,93.9 L357.6,93.1 L357.6,93.0 L358.5,92.3 L358.9,92.0 L359.6,91.5 L360.2,91.1 L360.7,90.7 L361.5,90.1 L361.8,89.9 L362.8,89.1 L362.9,89.1 L363.9,88.3 L364.1,88.2 L365.0,87.5 L365.4,87.2 L366.3,86.7 L366.7,86.4 L367.7,85.9 L367.9,85.7 L369.1,85.1 L369.2,85.0 L370.5,84.3 L370.5,84.2 L371.7,83.5 L371.8,83.3 L372.7,82.7 L373.1,82.3 L373.6,81.9 L374.4,81.2 L374.6,81.1 L375.6,80.3 L375.7,80.2 L376.9,79.5 L377.0,79.4 L378.3,78.7 L378.3,78.7 L379.6,78.1 L380.2,77.9 L380.8,77.6 L382.1,77.2 L382.4,77.1 L383.4,76.7 L384.7,76.3 L384.8,76.3 L386.0,75.9 L387.2,75.5 L387.3,75.4 L388.6,74.9 L389.2,74.7 L389.9,74.4 L391.0,73.9 L391.2,73.8 L392.5,73.2 L392.6,73.1 L393.7,72.6 L394.5,72.3 L395.0,72.1 L396.3,71.7 L397.2,71.5 L397.6,71.4 L398.9,71.2 L400.2,71.1 L401.5,71.2 L402.8,71.3 L403.5,71.5 L404.1,71.6 L405.4,72.1 L405.8,72.3 L406.6,72.8 L407.1,73.1 L407.9,73.7 L408.1,73.9 L409.0,74.7 L409.2,74.9 L409.9,75.5 L410.5,76.1 L410.7,76.3 L411.7,77.1 L411.8,77.2 L412.7,77.9 L413.1,78.2 L413.7,78.7 L414.4,79.3 L414.6,79.5 L415.3,80.3 L415.7,80.9 L415.8,81.1" fill="none" stroke="#1d6fbd" stroke-width="0.7" stroke-linejoin="round"/>
<path d="M412.2,82.7 L412.6,83.5 L412.8,84.3 L412.8,85.1 L412.7,85.9 L412.2,86.7 L411.8,87.2 L411.6,87.5 L410.7,88.3 L410.5,88.5 L409.8,89.1 L409.2,89.5 L408.8,89.9 L407.9,90.7 L407.9,90.7 L407.2,91.5 L406.7,92.3 L406.6,92.5 L406.3,93.1 L405.9,93.9 L405.5,94.7 L405.4,94.9 L405.0,95.5 L404.3,96.3 L404.1,96.4 L403.3,97.1 L402.8,97.5 L402.2,97.9 L401.5,98.3 L401.0,98.7 L400.2,99.2 L399.8,99.5 L398.9,100.1 L398.6,100.3 L397.6,101.0 L397.6,101.1 L396.6,101.9 L396.3,102.2 L395.8,102.7 L395.1,103.5 L395.0,103.5 L394.5,104.3 L393.8,105.1 L393.7,105.2 L393.2,105.9 L392.5,106.7 L392.5,106.7 L391.7,107.5 L391.2,107.9 L390.7,108.3 L389.9,108.8 L389.4,109.1 L388.6,109.5 L387.7,109.9 L387.3,110.0 L386.0,110.5 L385.5,110.7 L384.7,111.0 L383.4,111.4 L383.1,111.5 L382.1,111.8 L380.8,112.2 L380.5,112.3 L379.6,112.5 L378.3,112.7 L377.0,112.9 L375.7,113.0 L374.4,113.0 L373.1,113.0 L371.8,113.0 L370.5,113.0 L369.2,113.1 L369.2,113.1 L367.9,113.2 L366.7,113.3 L365.4,113.4 L364.1,113.4 L362.8,113.1 L362.6,113.1 L361.5,112.6 L360.9,112.3 L360.2,111.8 L359.9,111.5 L359.3,110.7 L358.9,110.0 L358.9,109.9 L358.7,109.1 L358.6,108.3 L358.6,107.5 L358.6,106.7 L358.5,105.9 L358.4,105.1 L358.3,104.3 L358.2,103.5 L358.1,102.7 L358.1,101.9 L358.1,101.1 L358.3,100.3 L358.5,99.5 L358.8,98.7 L358.9,98.4 L359.2,97.9 L359.7,97.1 L360.2,96.3 L360.2,96.2 L360.7,95.5 L361.3,94.7 L361.5,94.5 L362.0,93.9 L362.7,93.1 L362.8,93.0 L363.5,92.3 L364.1,91.7 L364.3,91.5 L365.1,90.7 L365.4,90.5 L366.1,89.9 L366.7,89.4 L367.1,89.1 L367.9,88.5 L368.3,88.3 L369.2,87.7 L369.5,87.5 L370.5,86.9 L370.9,86.7 L371.8,86.1 L372.1,85.9 L373.1,85.2 L373.2,85.1 L374.2,84.3 L374.4,84.1 L375.1,83.5 L375.7,83.0 L376.0,82.7 L377.0,81.9 L377.0,81.9 L378.1,81.1 L378.3,80.9 L379.4,80.3 L379.6,80.2 L380.8,79.6 L381.2,79.5 L382.1,79.1 L383.4,78.7 L383.6,78.7 L384.7,78.3 L386.0,78.0 L386.5,77.9 L387.3,77.7 L388.6,77.3 L389.6,77.1 L389.9,77.0 L391.2,76.6 L392.4,76.3 L392.5,76.2 L393.7,75.8 L394.9,75.5 L395.0,75.4 L396.3,75.0 L397.6,74.7 L397.9,74.7 L398.9,74.5 L400.2,74.5 L401.1,74.7 L401.5,74.7 L402.8,75.2 L403.2,75.5 L404.1,76.0 L404.4,76.3 L405.4,77.0 L405.5,77.1 L406.6,77.9 L406.6,77.9 L407.7,78.7 L407.9,78.8 L408.8,79.5 L409.2,79.8 L409.9,80.3 L410.5,80.8 L410.8,81.1 L411.6,81.9 L411.8,82.1 L412.2,82.7" fill="none" stroke="#1d6fbd" stroke-width="0.7" stroke-linejoin="round"/>
<path d="M408.2,82.7 L408.7,83.5 L409.0,84.3 L408.9,85.1 L408.6,85.9 L408.0,86.7 L407.9,86.8 L407.1,87.5 L406.6,87.9 L406.1,88.3 L405.4,88.8 L404.9,89.1 L404.1,89.8 L404.0,89.9 L403.2,90.7 L402.8,91.5 L402.8,91.5 L402.4,92.3 L402.2,93.1 L401.9,93.9 L401.5,94.7 L401.5,94.7 L400.9,95.5 L400.2,96.3 L400.2,96.3 L399.3,97.1 L398.9,97.4 L398.4,97.9 L397.6,98.5 L397.4,98.7 L396.5,99.5 L396.3,99.6 L395.6,100.3 L395.0,100.9 L394.9,101.1 L394.2,101.9 L393.7,102.4 L393.6,102.7 L393.0,103.5 L392.5,104.2 L392.4,104.3 L391.8,105.1 L391.2,105.8 L391.1,105.9 L390.3,106.7 L389.9,107.0 L389.3,107.5 L388.6,107.9 L387.9,108.3 L387.3,108.5 L386.0,109.0 L385.9,109.1 L384.7,109.5 L383.4,109.8 L383.3,109.9 L382.1,110.2 L380.8,110.5 L379.8,110.7 L379.6,110.7 L378.3,110.9 L377.0,111.0 L375.7,111.0 L374.4,110.9 L373.1,110.7 L372.7,110.7 L371.8,110.5 L370.5,110.2 L369.2,109.9 L368.9,109.9 L367.9,109.6 L366.7,109.1 L366.6,109.1 L365.4,108.3 L365.3,108.3 L364.5,107.5 L364.1,106.9 L363.9,106.7 L363.4,105.9 L363.0,105.1 L362.8,104.7 L362.6,104.3 L362.3,103.5 L362.1,102.7 L362.0,101.9 L362.1,101.1 L362.3,100.3 L362.7,99.5 L362.8,99.3 L363.2,98.7 L363.8,97.9 L364.1,97.5 L364.4,97.1 L364.9,96.3 L365.4,95.6 L365.5,95.5 L365.9,94.7 L366.4,93.9 L366.7,93.5 L366.9,93.1 L367.5,92.3 L367.9,91.8 L368.2,91.5 L369.0,90.7 L369.2,90.5 L370.0,89.9 L370.5,89.5 L371.1,89.1 L371.8,88.6 L372.2,88.3 L373.1,87.7 L373.4,87.5 L374.4,86.7 L374.4,86.7 L375.4,85.9 L375.7,85.6 L376.3,85.1 L377.0,84.4 L377.1,84.3 L378.1,83.5 L378.3,83.3 L379.1,82.7 L379.6,82.4 L380.4,81.9 L380.8,81.6 L382.1,81.1 L382.1,81.0 L383.4,80.6 L384.6,80.3 L384.7,80.2 L386.0,79.9 L387.3,79.7 L388.6,79.5 L388.6,79.5 L389.9,79.3 L391.2,79.0 L392.5,78.8 L393.4,78.7 L393.7,78.6 L395.0,78.4 L396.3,78.3 L397.6,78.2 L398.9,78.2 L400.2,78.3 L401.5,78.6 L401.6,78.7 L402.8,79.1 L403.6,79.5 L404.1,79.7 L405.2,80.3 L405.4,80.3 L406.5,81.1 L406.6,81.2 L407.5,81.9 L407.9,82.3 L408.2,82.7" fill="none" stroke="#1d6fbd" stroke-width="0.7" stroke-linejoin="round"/>
<path d="M404.2,83.5 L404.4,84.3 L404.2,85.1 L404.1,85.3 L403.5,85.9 L402.8,86.3 L402.2,86.7 L401.5,87.0 L400.4,87.5 L400.2,87.6 L398.9,88.3 L398.9,88.3 L398.2,89.1 L397.8,89.9 L397.7,90.7 L397.7,91.5 L397.7,92.3 L397.7,93.1 L397.6,93.7 L397.6,93.9 L397.3,94.7 L396.9,95.5 L396.4,96.3 L396.3,96.3 L395.7,97.1 L395.0,97.9 L395.0,97.9 L394.4,98.7 L393.7,99.4 L393.7,99.5 L393.1,100.3 L392.6,101.1 L392.5,101.2 L392.0,101.9 L391.5,102.7 L391.2,103.1 L390.9,103.5 L390.4,104.3 L389.9,104.9 L389.7,105.1 L388.9,105.9 L388.6,106.1 L387.8,106.7 L387.3,106.9 L386.2,107.5 L386.0,107.5 L384.7,108.0 L383.7,108.3 L383.4,108.3 L382.1,108.6 L380.8,108.8 L379.6,109.0 L378.4,109.1 L378.3,109.1 L377.8,109.1 L377.0,109.0 L375.7,108.9 L374.4,108.7 L373.1,108.3 L372.9,108.3 L371.8,107.9 L370.8,107.5 L370.5,107.3 L369.4,106.7 L369.2,106.6 L368.3,105.9 L367.9,105.5 L367.5,105.1 L366.9,104.3 L366.7,103.9 L366.5,103.5 L366.2,102.7 L366.1,101.9 L366.3,101.1 L366.6,100.3 L366.7,100.1 L367.0,99.5 L367.5,98.7 L367.9,98.0 L368.0,97.9 L368.5,97.1 L369.0,96.3 L369.2,95.8 L369.4,95.5 L369.8,94.7 L370.2,93.9 L370.5,93.4 L370.7,93.1 L371.3,92.3 L371.8,91.7 L372.0,91.5 L372.8,90.7 L373.1,90.4 L373.7,89.9 L374.4,89.3 L374.6,89.1 L375.6,88.3 L375.7,88.2 L376.4,87.5 L377.0,87.0 L377.3,86.7 L378.2,85.9 L378.3,85.8 L379.1,85.1 L379.6,84.7 L380.1,84.3 L380.8,83.8 L381.4,83.5 L382.1,83.1 L383.2,82.7 L383.4,82.6 L384.7,82.2 L386.0,82.0 L387.0,81.9 L387.3,81.8 L388.6,81.7 L389.9,81.7 L391.2,81.7 L392.5,81.6 L393.7,81.5 L395.0,81.4 L396.3,81.3 L397.6,81.2 L398.9,81.2 L400.2,81.4 L401.5,81.7 L401.9,81.9 L402.8,82.3 L403.4,82.7 L404.1,83.3 L404.2,83.5" fill="none" stroke="#1d6fbd" stroke-width="0.7" stroke-linejoin="round"/>
<path d="M393.8,91.5 L394.0,92.3 L394.1,93.1 L394.1,93.9 L393.9,94.7 L393.7,95.0 L393.6,95.5 L393.2,96.3 L392.7,97.1 L392.5,97.5 L392.2,97.9 L391.7,98.7 L391.3,99.5 L391.2,99.6 L390.8,100.3 L390.3,101.1 L389.9,101.9 L389.9,101.9 L389.4,102.7 L388.8,103.5 L388.6,103.7 L388.1,104.3 L387.3,105.0 L387.2,105.1 L386.0,105.8 L385.9,105.9 L384.7,106.4 L383.6,106.7 L383.4,106.7 L382.1,106.9 L380.8,107.1 L379.6,107.1 L378.3,107.0 L377.0,106.8 L376.4,106.7 L375.7,106.5 L374.4,106.0 L374.1,105.9 L373.1,105.3 L372.6,105.1 L371.8,104.5 L371.6,104.3 L370.8,103.5 L370.5,102.9 L370.4,102.7 L370.2,101.9 L370.3,101.1 L370.5,100.3 L370.5,100.1 L370.8,99.5 L371.2,98.7 L371.6,97.9 L371.8,97.5 L372.0,97.1 L372.5,96.3 L372.9,95.5 L373.1,95.1 L373.4,94.7 L373.8,93.9 L374.4,93.1 L374.4,93.0 L374.9,92.3 L375.6,91.5 L375.7,91.3 L376.2,90.7 L377.0,89.9 L377.0,89.8 L377.7,89.1 L378.3,88.5 L378.4,88.3 L379.3,87.5 L379.6,87.2 L380.2,86.7 L380.8,86.1 L381.3,85.9 L382.1,85.3 L382.7,85.1 L383.4,84.8 L384.7,84.4 L386.0,84.3 L387.3,84.3 L388.6,84.6 L389.8,85.1 L389.9,85.1 L391.1,85.9 L391.2,86.0 L391.8,86.7 L392.3,87.5 L392.5,87.8 L392.7,88.3 L393.0,89.1 L393.3,89.9 L393.6,90.7 L393.7,91.2 L393.8,91.5" fill="none" stroke="#1d6fbd" stroke-width="0.7" stroke-linejoin="round"/>
<path d="M389.9,89.9 L390.4,90.7 L390.7,91.5 L391.0,92.3 L391.1,93.1 L391.1,93.9 L391.0,94.7 L390.7,95.5 L390.4,96.3 L390.0,97.1 L389.9,97.3 L389.6,97.9 L389.2,98.7 L388.8,99.5 L388.6,99.8 L388.4,100.3 L387.9,101.1 L387.4,101.9 L387.3,102.0 L386.8,102.7 L386.0,103.4 L386.0,103.5 L384.7,104.2 L384.6,104.3 L383.4,104.6 L382.1,104.8 L380.8,104.8 L379.6,104.6 L378.3,104.3 L378.2,104.3 L377.0,103.7 L376.5,103.5 L375.7,102.9 L375.5,102.7 L374.8,101.9 L374.5,101.1 L374.4,100.6 L374.4,100.3 L374.4,100.0 L374.5,99.5 L374.7,98.7 L375.0,97.9 L375.4,97.1 L375.7,96.5 L375.8,96.3 L376.3,95.5 L376.7,94.7 L377.0,94.3 L377.2,93.9 L377.7,93.1 L378.2,92.3 L378.3,92.2 L378.8,91.5 L379.4,90.7 L379.6,90.4 L380.0,89.9 L380.8,89.1 L380.8,89.0 L381.7,88.3 L382.1,88.0 L383.1,87.5 L383.4,87.3 L384.7,87.0 L386.0,87.0 L387.3,87.4 L387.4,87.5 L388.6,88.3 L388.6,88.3 L389.3,89.1 L389.9,89.8 L389.9,89.9" fill="none" stroke="#1d6fbd" stroke-width="0.7" stroke-linejoin="round"/>
<path d="M387.5,92.3 L387.8,93.1 L387.8,93.9 L387.7,94.7 L387.5,95.5 L387.3,96.1 L387.2,96.3 L386.8,97.1 L386.4,97.9 L386.0,98.6 L386.0,98.7 L385.4,99.5 L384.8,100.3 L384.7,100.4 L383.7,101.1 L383.4,101.2 L382.1,101.5 L380.8,101.2 L380.5,101.1 L379.6,100.4 L379.4,100.3 L379.0,99.5 L378.9,98.7 L379.0,97.9 L379.2,97.1 L379.5,96.3 L379.6,96.1 L379.9,95.5 L380.3,94.7 L380.8,93.9 L380.8,93.7 L381.3,93.1 L381.9,92.3 L382.1,91.9 L382.7,91.5 L383.4,90.9 L384.0,90.7 L384.7,90.5 L385.9,90.7 L386.0,90.7 L387.0,91.5 L387.3,91.8 L387.5,92.3" fill="none" stroke="#1d6fbd" stroke-width="0.7" stroke-linejoin="round"/>
<path d="M456.1,45.9 L456.5,47.0 L456.7,48.1 L456.7,49.2 L456.5,50.3 L456.2,51.4 L455.9,52.1 L455.7,52.5 L455.3,53.6 L454.9,54.6 L454.7,55.7 L454.6,56.8 L454.7,57.9 L454.9,59.0 L455.0,60.1 L455.0,61.2 L455.0,62.3 L454.8,63.4 L454.4,64.4 L454.2,64.9 L453.9,65.5 L453.3,66.6 L452.6,67.7 L452.4,67.9 L451.9,68.8 L451.2,69.9 L450.7,70.7 L450.5,71.0 L449.8,72.1 L449.0,73.2 L449.0,73.2 L448.0,74.2 L447.2,75.0 L446.9,75.3 L445.7,76.4 L445.5,76.6 L444.5,77.5 L443.8,78.1 L443.2,78.6 L442.1,79.7 L442.0,79.7 L441.1,80.8 L440.3,81.8 L440.2,81.9 L439.4,83.0 L438.6,84.0 L438.5,84.1 L437.6,85.1 L436.8,85.9 L436.5,86.2 L435.1,87.3 L435.1,87.3 L433.8,88.4 L433.4,88.7 L432.3,89.5 L431.6,89.9 L430.7,90.6 L429.9,91.1 L429.0,91.7 L428.2,92.1 L427.0,92.8 L426.4,93.1 L424.8,93.9 L424.7,93.9 L423.0,94.7 L422.6,94.9 L421.2,95.6 L420.6,96.0 L419.5,96.7 L418.9,97.1 L417.8,97.9 L417.4,98.2 L416.1,99.3 L416.0,99.3 L414.8,100.4 L414.3,100.8 L413.4,101.5 L412.6,102.1 L411.9,102.6 L410.8,103.3 L410.2,103.7 L409.1,104.3 L408.4,104.7 L407.4,105.3 L406.5,105.8 L405.6,106.3 L404.7,106.9 L403.9,107.4 L403.0,108.0 L402.2,108.6 L401.5,109.1 L400.4,109.8 L400.0,110.2 L398.7,111.1 L398.4,111.3 L397.0,112.2 L396.8,112.4 L395.2,113.3 L394.9,113.5 L393.5,114.2 L392.8,114.5 L391.8,115.1 L390.6,115.6 L390.0,115.9 L388.4,116.7 L388.3,116.8 L386.6,117.6 L386.1,117.8 L384.8,118.4 L383.5,118.9 L383.1,119.0 L381.4,119.6 L379.8,120.0 L379.6,120.0 L377.9,120.5 L376.2,120.8 L374.9,121.1 L374.4,121.2 L372.7,121.6 L371.0,122.0 L370.2,122.2 L369.2,122.4 L367.5,122.8 L365.8,123.1 L364.3,123.3 L364.0,123.3 L362.3,123.5 L360.6,123.7 L358.8,123.8 L357.1,123.9 L355.4,123.9 L353.6,124.0 L351.9,124.0 L350.2,123.9 L348.4,123.7 L346.7,123.3 L346.5,123.3 L345.0,122.8 L343.6,122.2 L343.2,122.0 L341.8,121.1 L341.5,120.9 L340.4,120.0 L339.8,119.3 L339.4,118.9 L338.7,117.8 L338.1,116.7 L338.0,116.6 L337.7,115.6 L337.4,114.5 L337.3,113.5 L337.3,112.4 L337.4,111.3 L337.7,110.2 L338.0,109.1 L338.0,108.9 L338.3,108.0 L338.6,106.9 L338.9,105.8 L339.3,104.7 L339.8,103.7 L339.8,103.6 L340.3,102.6 L340.9,101.5 L341.5,100.7 L341.7,100.4 L342.4,99.3 L343.1,98.2 L343.2,97.9 L343.6,97.1 L344.0,96.0 L344.3,94.9 L344.7,93.9 L345.0,93.3 L345.2,92.8 L345.7,91.7 L346.5,90.6 L346.7,90.4 L347.6,89.5 L348.4,88.8 L349.1,88.4 L350.2,87.7 L350.9,87.3 L351.9,86.8 L353.2,86.2 L353.6,86.0 L355.4,85.1 L355.4,85.1 L357.1,84.2 L357.3,84.1 L358.8,83.2 L359.2,83.0 L360.6,82.1 L361.0,81.9 L362.3,81.1 L362.9,80.8 L364.0,80.1 L364.7,79.7 L365.8,79.1 L366.6,78.6 L367.5,78.1 L368.4,77.5 L369.2,77.0 L370.1,76.4 L371.0,75.9 L371.9,75.3 L372.7,74.9 L373.7,74.2 L374.4,73.8 L375.6,73.2 L376.2,72.8 L377.4,72.1 L377.9,71.8 L379.2,71.0 L379.6,70.7 L381.1,69.9 L381.4,69.7 L383.0,68.8 L383.1,68.7 L384.8,67.7 L384.9,67.7 L386.6,66.7 L386.7,66.6 L388.3,65.6 L388.4,65.5 L390.0,64.5 L390.1,64.4 L391.7,63.4 L391.8,63.3 L393.2,62.3 L393.5,62.0 L394.7,61.2 L395.2,60.8 L396.4,60.1 L397.0,59.7 L398.3,59.0 L398.7,58.8 L400.4,57.9 L400.5,57.9 L402.2,57.2 L403.1,56.8 L403.9,56.5 L405.6,55.8 L405.7,55.7 L407.4,55.0 L408.1,54.6 L409.1,54.1 L410.1,53.6 L410.8,53.1 L411.8,52.5 L412.6,51.9 L413.3,51.4 L414.3,50.7 L414.9,50.3 L416.0,49.5 L416.5,49.2 L417.8,48.4 L418.2,48.1 L419.5,47.3 L420.0,47.0 L421.2,46.3 L422.0,45.9 L423.0,45.5 L424.6,44.8 L424.7,44.8 L426.4,44.3 L428.2,43.9 L429.3,43.8 L429.9,43.7 L431.6,43.4 L433.4,43.3 L435.1,43.1 L436.8,43.0 L438.6,42.8 L440.3,42.7 L440.3,42.7 L442.0,42.5 L443.8,42.4 L445.5,42.3 L447.2,42.3 L449.0,42.4 L450.5,42.7 L450.7,42.7 L452.4,43.1 L453.8,43.8 L454.2,44.0 L455.3,44.8 L455.9,45.7 L456.1,45.9" fill="none" stroke="#000" stroke-width="0.8" stroke-linejoin="round"/>
<path d="M445.9,57.9 L446.4,59.0 L446.7,60.1 L446.9,61.2 L446.9,62.3 L446.8,63.4 L446.5,64.4 L446.2,65.5 L445.7,66.6 L445.5,67.2 L445.3,67.7 L444.8,68.8 L444.3,69.9 L443.8,70.7 L443.6,71.0 L442.9,72.1 L442.0,73.1 L442.0,73.2 L441.0,74.2 L440.3,74.9 L439.9,75.3 L438.8,76.4 L438.6,76.6 L437.7,77.5 L436.8,78.3 L436.6,78.6 L435.6,79.7 L435.1,80.2 L434.5,80.8 L433.5,81.9 L433.4,82.0 L432.4,83.0 L431.6,83.6 L431.2,84.1 L430.0,85.1 L429.9,85.2 L428.8,86.2 L428.2,86.7 L427.5,87.3 L426.4,88.2 L426.2,88.4 L424.8,89.5 L424.7,89.5 L423.1,90.6 L423.0,90.7 L421.3,91.7 L421.2,91.7 L419.5,92.7 L419.5,92.8 L417.8,93.8 L417.7,93.9 L416.2,94.9 L416.0,95.0 L414.8,96.0 L414.3,96.5 L413.6,97.1 L412.6,98.0 L412.4,98.2 L411.0,99.3 L410.8,99.5 L409.6,100.4 L409.1,100.7 L407.9,101.5 L407.4,101.8 L406.1,102.6 L405.6,102.8 L404.1,103.7 L403.9,103.8 L402.3,104.7 L402.2,104.8 L400.6,105.8 L400.4,105.9 L399.1,106.9 L398.7,107.2 L397.7,108.0 L397.0,108.6 L396.3,109.1 L395.2,109.9 L394.7,110.2 L393.5,111.0 L393.0,111.3 L391.8,111.9 L390.9,112.4 L390.0,112.8 L388.5,113.5 L388.3,113.5 L386.6,114.3 L385.9,114.5 L384.8,115.0 L383.1,115.6 L383.1,115.6 L381.4,116.2 L379.6,116.7 L379.6,116.7 L377.9,117.1 L376.2,117.5 L374.5,117.8 L374.4,117.8 L372.7,118.2 L371.0,118.6 L369.4,118.9 L369.2,118.9 L367.5,119.3 L365.8,119.6 L364.0,119.8 L362.3,119.9 L360.6,119.9 L358.8,119.7 L357.1,119.5 L355.4,119.3 L353.6,118.9 L353.6,118.9 L351.9,118.4 L350.2,117.8 L350.2,117.8 L348.4,116.8 L348.3,116.7 L347.3,115.6 L346.7,114.7 L346.6,114.5 L346.3,113.5 L346.2,112.4 L346.2,111.3 L346.3,110.2 L346.6,109.1 L346.7,108.7 L346.9,108.0 L347.3,106.9 L347.8,105.8 L348.3,104.7 L348.4,104.4 L348.7,103.7 L349.1,102.6 L349.5,101.5 L349.9,100.4 L350.2,99.4 L350.2,99.3 L350.4,98.2 L350.7,97.1 L350.9,96.0 L351.3,94.9 L351.8,93.9 L351.9,93.6 L352.4,92.8 L353.4,91.7 L353.6,91.5 L354.7,90.6 L355.4,90.1 L356.3,89.5 L357.1,89.0 L358.0,88.4 L358.8,87.9 L359.6,87.3 L360.6,86.7 L361.1,86.2 L362.3,85.4 L362.7,85.1 L364.0,84.2 L364.3,84.1 L365.8,83.1 L366.0,83.0 L367.5,82.0 L367.7,81.9 L369.2,80.8 L369.3,80.8 L371.0,79.7 L371.0,79.7 L372.6,78.6 L372.7,78.5 L374.3,77.5 L374.4,77.4 L376.0,76.4 L376.2,76.3 L377.8,75.3 L377.9,75.3 L379.6,74.2 L379.6,74.2 L381.4,73.2 L381.4,73.2 L383.1,72.1 L383.2,72.1 L384.8,71.1 L385.0,71.0 L386.6,70.1 L386.9,69.9 L388.3,69.1 L388.8,68.8 L390.0,68.1 L390.7,67.7 L391.8,67.1 L392.6,66.6 L393.5,66.1 L394.4,65.5 L395.2,65.0 L396.2,64.4 L397.0,64.0 L398.0,63.4 L398.7,62.9 L399.9,62.3 L400.4,61.9 L401.9,61.2 L402.2,61.1 L403.9,60.3 L404.4,60.1 L405.6,59.6 L407.2,59.0 L407.4,58.9 L409.1,58.3 L410.2,57.9 L410.8,57.6 L412.6,56.9 L412.8,56.8 L414.3,56.1 L415.1,55.7 L416.0,55.2 L417.2,54.6 L417.8,54.3 L419.3,53.6 L419.5,53.4 L421.2,52.6 L421.5,52.5 L423.0,51.8 L424.1,51.4 L424.7,51.1 L426.4,50.5 L427.2,50.3 L428.2,50.0 L429.9,49.6 L431.6,49.4 L433.4,49.4 L435.1,49.5 L436.8,49.7 L438.6,50.2 L438.9,50.3 L440.3,50.9 L441.0,51.4 L442.0,52.2 L442.2,52.5 L443.1,53.6 L443.8,54.4 L443.9,54.6 L444.6,55.7 L445.3,56.8 L445.5,57.2 L445.9,57.9" fill="none" stroke="#000" stroke-width="0.8" stroke-linejoin="round"/>
<path d="M440.7,59.0 L441.4,60.1 L441.8,61.2 L442.0,62.3 L442.0,63.4 L441.8,64.4 L441.5,65.5 L441.2,66.6 L440.7,67.7 L440.3,68.6 L440.2,68.8 L439.6,69.9 L439.0,71.0 L438.6,71.5 L438.2,72.1 L437.4,73.2 L436.8,73.7 L436.4,74.2 L435.4,75.3 L435.1,75.7 L434.5,76.4 L433.4,77.5 L433.4,77.6 L432.4,78.6 L431.6,79.4 L431.4,79.7 L430.4,80.8 L429.9,81.2 L429.2,81.9 L428.2,82.8 L428.0,83.0 L426.8,84.1 L426.4,84.4 L425.6,85.1 L424.7,85.9 L424.3,86.2 L423.0,87.3 L423.0,87.4 L421.6,88.4 L421.2,88.7 L420.1,89.5 L419.5,89.9 L418.4,90.6 L417.8,91.0 L416.7,91.7 L416.0,92.1 L415.1,92.8 L414.3,93.3 L413.6,93.9 L412.6,94.7 L412.3,94.9 L411.1,96.0 L410.8,96.3 L409.9,97.1 L409.1,97.8 L408.6,98.2 L407.4,99.1 L407.1,99.3 L405.6,100.2 L405.4,100.4 L403.9,101.2 L403.5,101.5 L402.2,102.2 L401.6,102.6 L400.4,103.3 L399.9,103.7 L398.7,104.4 L398.3,104.7 L397.0,105.8 L396.9,105.8 L395.6,106.9 L395.2,107.2 L394.2,108.0 L393.5,108.5 L392.6,109.1 L391.8,109.6 L390.7,110.2 L390.0,110.5 L388.4,111.3 L388.3,111.3 L386.6,112.0 L385.6,112.4 L384.8,112.7 L383.1,113.2 L382.3,113.5 L381.4,113.8 L379.6,114.2 L377.9,114.5 L377.8,114.5 L376.2,114.8 L374.4,115.1 L372.7,115.3 L371.0,115.5 L369.9,115.6 L369.2,115.7 L367.5,116.0 L365.8,116.2 L364.0,116.2 L362.3,116.2 L360.6,115.9 L359.7,115.6 L358.8,115.3 L357.2,114.5 L357.1,114.5 L355.7,113.5 L355.4,113.1 L354.7,112.4 L354.1,111.3 L353.7,110.2 L353.6,109.7 L353.5,109.1 L353.5,108.0 L353.6,106.9 L353.6,106.8 L353.8,105.8 L353.9,104.7 L354.1,103.7 L354.2,102.6 L354.4,101.5 L354.6,100.4 L354.9,99.3 L355.1,98.2 L355.4,97.4 L355.5,97.1 L355.9,96.0 L356.5,94.9 L357.1,94.1 L357.2,93.9 L358.2,92.8 L358.8,92.2 L359.4,91.7 L360.6,90.6 L360.6,90.6 L361.9,89.5 L362.3,89.2 L363.2,88.4 L364.0,87.7 L364.6,87.3 L365.8,86.4 L366.0,86.2 L367.4,85.1 L367.5,85.1 L368.9,84.1 L369.2,83.8 L370.5,83.0 L371.0,82.6 L372.0,81.9 L372.7,81.4 L373.5,80.8 L374.4,80.2 L375.1,79.7 L376.2,79.0 L376.7,78.6 L377.9,77.9 L378.4,77.5 L379.6,76.8 L380.2,76.4 L381.4,75.7 L382.0,75.3 L383.1,74.7 L383.8,74.2 L384.8,73.6 L385.6,73.2 L386.6,72.6 L387.5,72.1 L388.3,71.6 L389.4,71.0 L390.0,70.6 L391.3,69.9 L391.8,69.6 L393.3,68.8 L393.5,68.7 L395.2,67.8 L395.3,67.7 L397.0,66.8 L397.3,66.6 L398.7,65.8 L399.2,65.5 L400.4,64.8 L401.1,64.4 L402.2,63.9 L403.2,63.4 L403.9,63.0 L405.5,62.3 L405.6,62.2 L407.4,61.5 L408.3,61.2 L409.1,60.9 L410.8,60.3 L411.6,60.1 L412.6,59.7 L414.3,59.2 L414.8,59.0 L416.0,58.6 L417.8,57.9 L417.8,57.9 L419.5,57.2 L420.7,56.8 L421.2,56.6 L423.0,56.0 L423.9,55.7 L424.7,55.5 L426.4,55.1 L428.2,54.9 L429.9,54.8 L431.6,54.8 L433.4,55.1 L435.1,55.5 L435.7,55.7 L436.8,56.2 L438.0,56.8 L438.6,57.1 L439.6,57.9 L440.3,58.6 L440.7,59.0" fill="none" stroke="#000" stroke-width="0.8" stroke-linejoin="round"/>
<path d="M437.1,62.3 L437.4,63.4 L437.4,64.4 L437.3,65.5 L437.0,66.6 L436.8,66.9 L436.5,67.7 L436.0,68.8 L435.5,69.9 L435.1,70.5 L434.9,71.0 L434.1,72.1 L433.4,73.2 L433.4,73.2 L432.5,74.2 L431.7,75.3 L431.6,75.4 L430.8,76.4 L429.9,77.4 L429.8,77.5 L428.9,78.6 L428.2,79.3 L427.8,79.7 L426.7,80.8 L426.4,81.0 L425.5,81.9 L424.7,82.5 L424.2,83.0 L423.0,84.1 L423.0,84.1 L421.8,85.1 L421.2,85.6 L420.6,86.2 L419.5,87.1 L419.3,87.3 L417.8,88.4 L417.8,88.4 L416.2,89.5 L416.0,89.6 L414.6,90.6 L414.3,90.8 L413.1,91.7 L412.6,92.0 L411.6,92.8 L410.8,93.4 L410.3,93.9 L409.1,94.9 L409.1,94.9 L407.9,96.0 L407.4,96.5 L406.6,97.1 L405.6,97.8 L405.1,98.2 L403.9,99.0 L403.4,99.3 L402.2,100.1 L401.6,100.4 L400.4,101.1 L399.8,101.5 L398.7,102.2 L398.2,102.6 L397.0,103.4 L396.7,103.7 L395.3,104.7 L395.2,104.8 L394.0,105.8 L393.5,106.2 L392.6,106.9 L391.8,107.5 L391.0,108.0 L390.0,108.6 L389.1,109.1 L388.3,109.5 L386.6,110.2 L386.6,110.2 L384.8,110.8 L383.2,111.3 L383.1,111.3 L381.4,111.8 L379.6,112.1 L377.9,112.4 L377.7,112.4 L376.2,112.5 L374.4,112.6 L372.7,112.6 L371.0,112.6 L369.2,112.5 L367.5,112.4 L367.5,112.4 L365.8,112.1 L364.0,111.7 L363.1,111.3 L362.3,110.8 L361.5,110.2 L360.6,109.2 L360.5,109.1 L359.8,108.0 L359.4,106.9 L359.1,105.8 L358.9,104.7 L358.8,104.4 L358.7,103.7 L358.7,102.6 L358.7,101.5 L358.8,100.6 L358.9,100.4 L359.1,99.3 L359.4,98.2 L359.9,97.1 L360.5,96.0 L360.6,95.9 L361.2,94.9 L362.0,93.9 L362.3,93.5 L362.9,92.8 L363.8,91.7 L364.0,91.5 L364.9,90.6 L365.8,89.7 L366.0,89.5 L367.2,88.4 L367.5,88.1 L368.4,87.3 L369.2,86.7 L369.7,86.2 L371.0,85.3 L371.1,85.1 L372.6,84.1 L372.7,83.9 L374.0,83.0 L374.4,82.6 L375.4,81.9 L376.2,81.3 L377.0,80.8 L377.9,80.1 L378.6,79.7 L379.6,79.0 L380.3,78.6 L381.4,77.9 L382.1,77.5 L383.1,76.9 L383.9,76.4 L384.8,75.9 L385.8,75.3 L386.6,74.9 L387.6,74.2 L388.3,73.8 L389.5,73.2 L390.0,72.8 L391.4,72.1 L391.8,71.9 L393.3,71.0 L393.5,70.9 L395.2,70.0 L395.4,69.9 L397.0,69.0 L397.4,68.8 L398.7,68.1 L399.5,67.7 L400.4,67.2 L401.5,66.6 L402.2,66.2 L403.5,65.5 L403.9,65.3 L405.6,64.5 L405.7,64.4 L407.4,63.7 L408.4,63.4 L409.1,63.1 L410.8,62.5 L411.8,62.3 L412.6,62.1 L414.3,61.6 L416.0,61.2 L416.1,61.2 L417.8,60.8 L419.5,60.4 L420.8,60.1 L421.2,60.0 L423.0,59.6 L424.7,59.3 L426.4,59.1 L427.3,59.0 L428.2,58.9 L429.9,58.9 L430.5,59.0 L431.6,59.1 L433.4,59.5 L434.8,60.1 L435.1,60.2 L436.3,61.2 L436.8,61.8 L437.1,62.3" fill="none" stroke="#000" stroke-width="0.8" stroke-linejoin="round"/>
<path d="M430.5,64.4 L431.4,65.5 L431.6,66.6 L431.5,67.7 L431.3,68.8 L430.9,69.9 L430.4,71.0 L429.9,72.1 L429.9,72.1 L429.3,73.2 L428.6,74.2 L428.2,75.0 L427.9,75.3 L427.1,76.4 L426.4,77.3 L426.2,77.5 L425.2,78.6 L424.7,79.1 L424.0,79.7 L423.0,80.7 L422.8,80.8 L421.6,81.9 L421.2,82.2 L420.4,83.0 L419.5,83.8 L419.3,84.1 L418.2,85.1 L417.8,85.5 L417.0,86.2 L416.0,87.1 L415.8,87.3 L414.4,88.4 L414.3,88.4 L412.9,89.5 L412.6,89.7 L411.3,90.6 L410.8,90.9 L409.9,91.7 L409.1,92.3 L408.5,92.8 L407.4,93.7 L407.2,93.9 L406.0,94.9 L405.6,95.2 L404.7,96.0 L403.9,96.6 L403.3,97.1 L402.2,97.9 L401.7,98.2 L400.4,99.0 L400.0,99.3 L398.7,100.1 L398.3,100.4 L397.0,101.3 L396.7,101.5 L395.3,102.6 L395.2,102.6 L394.0,103.7 L393.5,104.1 L392.7,104.7 L391.8,105.5 L391.3,105.8 L390.0,106.7 L389.7,106.9 L388.3,107.7 L387.7,108.0 L386.6,108.5 L384.9,109.1 L384.8,109.1 L383.1,109.6 L381.4,110.0 L379.9,110.2 L379.6,110.2 L377.9,110.4 L376.2,110.4 L374.4,110.3 L373.2,110.2 L372.7,110.1 L371.0,109.8 L369.2,109.3 L368.7,109.1 L367.5,108.5 L366.6,108.0 L365.8,107.4 L365.3,106.9 L364.4,105.8 L364.0,105.3 L363.7,104.7 L363.3,103.7 L363.1,102.6 L363.0,101.5 L363.1,100.4 L363.3,99.3 L363.7,98.2 L364.0,97.4 L364.1,97.1 L364.7,96.0 L365.3,94.9 L365.8,94.1 L365.9,93.9 L366.7,92.8 L367.5,91.7 L367.5,91.6 L368.4,90.6 L369.2,89.7 L369.4,89.5 L370.5,88.4 L371.0,88.0 L371.7,87.3 L372.7,86.5 L373.0,86.2 L374.3,85.1 L374.4,85.0 L375.6,84.1 L376.2,83.6 L377.0,83.0 L377.9,82.3 L378.5,81.9 L379.6,81.1 L380.1,80.8 L381.4,80.0 L381.9,79.7 L383.1,79.0 L383.8,78.6 L384.8,78.0 L385.7,77.5 L386.6,77.0 L387.6,76.4 L388.3,76.0 L389.4,75.3 L390.0,75.0 L391.3,74.2 L391.8,74.0 L393.2,73.2 L393.5,73.0 L395.2,72.1 L395.2,72.1 L397.0,71.1 L397.3,71.0 L398.7,70.2 L399.4,69.9 L400.4,69.3 L401.4,68.8 L402.2,68.4 L403.5,67.7 L403.9,67.5 L405.6,66.6 L405.7,66.6 L407.4,65.9 L408.2,65.5 L409.1,65.2 L410.8,64.7 L411.8,64.4 L412.6,64.2 L414.3,63.9 L416.0,63.7 L417.8,63.5 L419.5,63.4 L420.2,63.4 L421.2,63.3 L423.0,63.2 L424.7,63.2 L426.4,63.3 L427.2,63.4 L428.2,63.5 L429.9,64.0 L430.5,64.4" fill="none" stroke="#000" stroke-width="0.8" stroke-linejoin="round"/></g>
<line x1="300.3" y1="13.3" x2="490.7" y2="13.3" stroke="#8c8c8c" stroke-width="1.1"/>
<line x1="490.7" y1="13.3" x2="490.7" y2="214.4" stroke="#8c8c8c" stroke-width="1.1"/>
<line x1="300.3" y1="12.8" x2="300.3" y2="214.9" stroke="#333333" stroke-width="1.1"/>
<line x1="299.8" y1="214.4" x2="491.2" y2="214.4" stroke="#333333" stroke-width="1.1"/>
<line x1="298.7" y1="205.40" x2="300.3" y2="205.40" stroke="#333333" stroke-width="0.9"/>
<text x="298.3" y="210.30" text-anchor="end" class="tk">0</text>
<line x1="298.7" y1="159.60" x2="300.3" y2="159.60" stroke="#333333" stroke-width="0.9"/>
<text x="298.3" y="164.50" text-anchor="end" class="tk">50</text>
<line x1="298.7" y1="113.80" x2="300.3" y2="113.80" stroke="#333333" stroke-width="0.9"/>
<text x="298.3" y="118.70" text-anchor="end" class="tk">100</text>
<line x1="298.7" y1="68.00" x2="300.3" y2="68.00" stroke="#333333" stroke-width="0.9"/>
<text x="298.3" y="72.90" text-anchor="end" class="tk">150</text>
<line x1="298.7" y1="22.20" x2="300.3" y2="22.20" stroke="#333333" stroke-width="0.9"/>
<text x="298.3" y="27.10" text-anchor="end" class="tk">200</text>
<line x1="330.50" y1="214.4" x2="330.50" y2="216.0" stroke="#333333" stroke-width="0.9"/>
<text x="330.50" y="227.0" text-anchor="middle" class="tk">60</text>
<line x1="373.80" y1="214.4" x2="373.80" y2="216.0" stroke="#333333" stroke-width="0.9"/>
<text x="373.80" y="227.0" text-anchor="middle" class="tk">80</text>
<line x1="417.20" y1="214.4" x2="417.20" y2="216.0" stroke="#333333" stroke-width="0.9"/>
<text x="417.20" y="227.0" text-anchor="middle" class="tk">100</text>
<line x1="460.30" y1="214.4" x2="460.30" y2="216.0" stroke="#333333" stroke-width="0.9"/>
<text x="460.30" y="227.0" text-anchor="middle" class="tk">120</text>
<text x="395.50" y="240.7" text-anchor="middle" class="ti">Mean Arterial Pressure (mm Hg)</text>
<text x="300.30" y="10" class="ti">B</text>
<text transform="translate(266.70,115.35) rotate(-90)" text-anchor="middle" class="ti" textLength="132.7" lengthAdjust="spacingAndGlyphs">Systolic BP (mm Hg)</text>
<rect x="567.40" y="203.40" width="6.06" height="2.00" fill="#7d7d7d" stroke="#2a2a2a" stroke-width="1.0"/>
<line x1="573.46" y1="205.4" x2="579.52" y2="205.4" stroke="#2a2a2a" stroke-width="1.0"/>
<rect x="579.52" y="202.50" width="6.06" height="2.90" fill="#7d7d7d" stroke="#2a2a2a" stroke-width="1.0"/>
<rect x="585.58" y="201.30" width="6.06" height="4.10" fill="#7d7d7d" stroke="#2a2a2a" stroke-width="1.0"/>
<rect x="591.64" y="194.50" width="6.06" height="10.90" fill="#7d7d7d" stroke="#2a2a2a" stroke-width="1.0"/>
<rect x="597.70" y="186.10" width="6.06" height="19.30" fill="#7d7d7d" stroke="#2a2a2a" stroke-width="1.0"/>
<rect x="603.77" y="175.60" width="6.06" height="29.80" fill="#7d7d7d" stroke="#2a2a2a" stroke-width="1.0"/>
<rect x="609.83" y="160.20" width="6.06" height="45.20" fill="#7d7d7d" stroke="#2a2a2a" stroke-width="1.0"/>
<rect x="615.89" y="141.30" width="6.06" height="64.10" fill="#7d7d7d" stroke="#2a2a2a" stroke-width="1.0"/>
<rect x="621.95" y="121.10" width="6.06" height="84.30" fill="#7d7d7d" stroke="#2a2a2a" stroke-width="1.0"/>
<rect x="628.01" y="74.90" width="6.06" height="130.50" fill="#7d7d7d" stroke="#2a2a2a" stroke-width="1.0"/>
<rect x="634.07" y="56.80" width="6.06" height="148.60" fill="#7d7d7d" stroke="#2a2a2a" stroke-width="1.0"/>
<rect x="640.13" y="45.60" width="6.06" height="159.80" fill="#7d7d7d" stroke="#2a2a2a" stroke-width="1.0"/>
<rect x="646.19" y="62.10" width="6.06" height="143.30" fill="#7d7d7d" stroke="#2a2a2a" stroke-width="1.0"/>
<rect x="652.25" y="49.60" width="6.06" height="155.80" fill="#7d7d7d" stroke="#2a2a2a" stroke-width="1.0"/>
<rect x="658.31" y="47.60" width="6.06" height="157.80" fill="#7d7d7d" stroke="#2a2a2a" stroke-width="1.0"/>
<rect x="664.38" y="80.10" width="6.06" height="125.30" fill="#7d7d7d" stroke="#2a2a2a" stroke-width="1.0"/>
<rect x="670.44" y="78.30" width="6.06" height="127.10" fill="#7d7d7d" stroke="#2a2a2a" stroke-width="1.0"/>
<rect x="676.50" y="111.30" width="6.06" height="94.10" fill="#7d7d7d" stroke="#2a2a2a" stroke-width="1.0"/>
<rect x="682.56" y="145.00" width="6.06" height="60.40" fill="#7d7d7d" stroke="#2a2a2a" stroke-width="1.0"/>
<rect x="688.62" y="154.50" width="6.06" height="50.90" fill="#7d7d7d" stroke="#2a2a2a" stroke-width="1.0"/>
<rect x="694.68" y="160.30" width="6.06" height="45.10" fill="#7d7d7d" stroke="#2a2a2a" stroke-width="1.0"/>
<rect x="700.74" y="177.50" width="6.06" height="27.90" fill="#7d7d7d" stroke="#2a2a2a" stroke-width="1.0"/>
<rect x="706.80" y="186.00" width="6.06" height="19.40" fill="#7d7d7d" stroke="#2a2a2a" stroke-width="1.0"/>
<rect x="712.86" y="186.70" width="6.06" height="18.70" fill="#7d7d7d" stroke="#2a2a2a" stroke-width="1.0"/>
<rect x="718.92" y="189.40" width="6.06" height="16.00" fill="#7d7d7d" stroke="#2a2a2a" stroke-width="1.0"/>
<rect x="724.99" y="201.00" width="6.06" height="4.40" fill="#7d7d7d" stroke="#2a2a2a" stroke-width="1.0"/>
<rect x="731.05" y="201.00" width="6.06" height="4.40" fill="#7d7d7d" stroke="#2a2a2a" stroke-width="1.0"/>
<rect x="567.40" y="203.40" width="6.06" height="2.00" fill="#4a87b8" stroke="#2f8fde" stroke-width="0.6"/>
<line x1="573.46" y1="205.4" x2="579.52" y2="205.4" stroke="#2f8fde" stroke-width="0.6"/>
<rect x="579.52" y="203.60" width="6.06" height="1.80" fill="#4a87b8" stroke="#2f8fde" stroke-width="0.6"/>
<rect x="585.58" y="202.10" width="6.06" height="3.30" fill="#4a87b8" stroke="#2f8fde" stroke-width="0.6"/>
<rect x="591.64" y="196.60" width="6.06" height="8.80" fill="#4a87b8" stroke="#2f8fde" stroke-width="0.6"/>
<rect x="597.70" y="188.50" width="6.06" height="16.90" fill="#4a87b8" stroke="#2f8fde" stroke-width="0.6"/>
<rect x="603.77" y="183.60" width="6.06" height="21.80" fill="#4a87b8" stroke="#2f8fde" stroke-width="0.6"/>
<rect x="609.83" y="165.50" width="6.06" height="39.90" fill="#4a87b8" stroke="#2f8fde" stroke-width="0.6"/>
<rect x="615.89" y="152.60" width="6.06" height="52.80" fill="#4a87b8" stroke="#2f8fde" stroke-width="0.6"/>
<rect x="621.95" y="134.50" width="6.06" height="70.90" fill="#4a87b8" stroke="#2f8fde" stroke-width="0.6"/>
<rect x="628.01" y="96.00" width="6.06" height="109.40" fill="#4a87b8" stroke="#2f8fde" stroke-width="0.6"/>
<rect x="634.07" y="105.00" width="6.06" height="100.40" fill="#4a87b8" stroke="#2f8fde" stroke-width="0.6"/>
<rect x="640.13" y="110.70" width="6.06" height="94.70" fill="#4a87b8" stroke="#2f8fde" stroke-width="0.6"/>
<rect x="646.19" y="110.70" width="6.06" height="94.70" fill="#4a87b8" stroke="#2f8fde" stroke-width="0.6"/>
<rect x="652.25" y="132.00" width="6.06" height="73.40" fill="#4a87b8" stroke="#2f8fde" stroke-width="0.6"/>
<rect x="658.31" y="132.20" width="6.06" height="73.20" fill="#4a87b8" stroke="#2f8fde" stroke-width="0.6"/>
<rect x="664.38" y="158.80" width="6.06" height="46.60" fill="#4a87b8" stroke="#2f8fde" stroke-width="0.6"/>
<rect x="670.44" y="171.10" width="6.06" height="34.30" fill="#4a87b8" stroke="#2f8fde" stroke-width="0.6"/>
<rect x="676.50" y="182.60" width="6.06" height="22.80" fill="#4a87b8" stroke="#2f8fde" stroke-width="0.6"/>
<rect x="682.56" y="195.70" width="6.06" height="9.70" fill="#4a87b8" stroke="#2f8fde" stroke-width="0.6"/>
<rect x="688.62" y="194.00" width="6.06" height="11.40" fill="#4a87b8" stroke="#2f8fde" stroke-width="0.6"/>
<rect x="694.68" y="192.40" width="6.06" height="13.00" fill="#4a87b8" stroke="#2f8fde" stroke-width="0.6"/>
<rect x="700.74" y="198.30" width="6.06" height="7.10" fill="#4a87b8" stroke="#2f8fde" stroke-width="0.6"/>
<rect x="706.80" y="199.70" width="6.06" height="5.70" fill="#4a87b8" stroke="#2f8fde" stroke-width="0.6"/>
<rect x="712.86" y="202.50" width="6.06" height="2.90" fill="#4a87b8" stroke="#2f8fde" stroke-width="0.6"/>
<rect x="718.92" y="202.20" width="6.06" height="3.20" fill="#4a87b8" stroke="#2f8fde" stroke-width="0.6"/>
<rect x="724.99" y="203.00" width="6.06" height="2.40" fill="#4a87b8" stroke="#2f8fde" stroke-width="0.6"/>
<rect x="731.05" y="203.00" width="6.06" height="2.40" fill="#4a87b8" stroke="#2f8fde" stroke-width="0.6"/>
<line x1="556.3" y1="13.3" x2="748.4" y2="13.3" stroke="#8c8c8c" stroke-width="1.1"/>
<line x1="748.4" y1="13.3" x2="748.4" y2="214.4" stroke="#8c8c8c" stroke-width="1.1"/>
<line x1="556.3" y1="12.8" x2="556.3" y2="214.9" stroke="#333333" stroke-width="1.1"/>
<line x1="555.8" y1="214.4" x2="748.9" y2="214.4" stroke="#333333" stroke-width="1.1"/>
<line x1="554.6999999999999" y1="205.40" x2="556.3" y2="205.40" stroke="#333333" stroke-width="0.9"/>
<text x="553.5" y="210.30" text-anchor="end" class="tk">0</text>
<line x1="554.6999999999999" y1="159.60" x2="556.3" y2="159.60" stroke="#333333" stroke-width="0.9"/>
<text x="553.5" y="164.50" text-anchor="end" class="tk">50</text>
<line x1="554.6999999999999" y1="113.80" x2="556.3" y2="113.80" stroke="#333333" stroke-width="0.9"/>
<text x="553.5" y="118.70" text-anchor="end" class="tk">100</text>
<line x1="554.6999999999999" y1="68.00" x2="556.3" y2="68.00" stroke="#333333" stroke-width="0.9"/>
<text x="553.5" y="72.90" text-anchor="end" class="tk">150</text>
<line x1="554.6999999999999" y1="22.20" x2="556.3" y2="22.20" stroke="#333333" stroke-width="0.9"/>
<text x="553.5" y="27.10" text-anchor="end" class="tk">200</text>
<line x1="586.30" y1="214.4" x2="586.30" y2="216.0" stroke="#333333" stroke-width="0.9"/>
<text x="586.30" y="227.0" text-anchor="middle" class="tk">60</text>
<line x1="630.40" y1="214.4" x2="630.40" y2="216.0" stroke="#333333" stroke-width="0.9"/>
<text x="630.40" y="227.0" text-anchor="middle" class="tk">80</text>
<line x1="674.30" y1="214.4" x2="674.30" y2="216.0" stroke="#333333" stroke-width="0.9"/>
<text x="674.30" y="227.0" text-anchor="middle" class="tk">100</text>
<line x1="718.10" y1="214.4" x2="718.10" y2="216.0" stroke="#333333" stroke-width="0.9"/>
<text x="718.10" y="227.0" text-anchor="middle" class="tk">120</text>
<text x="652.35" y="240.7" text-anchor="middle" class="ti">Mean Arterial Pressure (mm Hg)</text>
<text x="556.30" y="10" class="ti">C</text>
<text transform="translate(522.70,113.85) rotate(-90)" text-anchor="middle" class="ti">Counts</text>
</svg></body></html>
